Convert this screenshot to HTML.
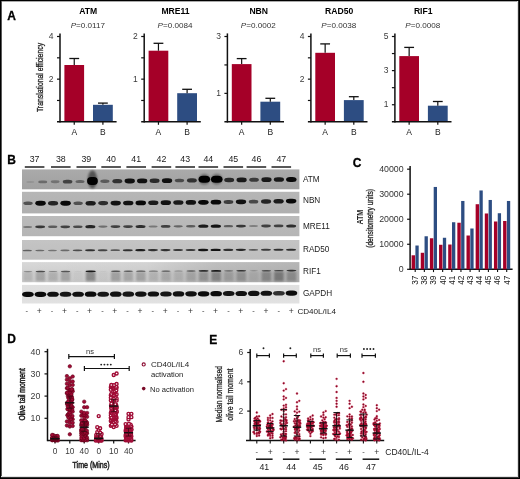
<!DOCTYPE html>
<html><head><meta charset="utf-8"><style>
html,body{margin:0;padding:0;background:#fff;}
body{width:520px;height:479px;overflow:hidden;}
svg{display:block;font-family:"Liberation Sans", sans-serif;}
#w{width:520px;height:479px;will-change:transform;}
</style></head><body>
<div id="w"><svg width="520" height="479" viewBox="0 0 520 479">
<rect x="0" y="0" width="520" height="479" fill="#fff"/>
<text x="7.20" y="19.50" font-size="12" text-anchor="start" font-weight="bold" fill="#000" stroke="#000" stroke-width="0.3">A</text>
<text x="7.20" y="163.80" font-size="12" text-anchor="start" font-weight="bold" fill="#000" stroke="#000" stroke-width="0.3">B</text>
<text x="352.80" y="166.80" font-size="12" text-anchor="start" font-weight="bold" fill="#000" stroke="#000" stroke-width="0.3">C</text>
<text x="7.20" y="342.80" font-size="12" text-anchor="start" font-weight="bold" fill="#000" stroke="#000" stroke-width="0.3">D</text>
<text x="209.20" y="344.10" font-size="12" text-anchor="start" font-weight="bold" fill="#000" stroke="#000" stroke-width="0.3">E</text>
<rect x="64.40" y="65.00" width="19.70" height="56.80" fill="#a50028"/>
<rect x="93.00" y="104.80" width="19.80" height="17.00" fill="#2d4d82"/>
<line x1="74.25" y1="58.50" x2="74.25" y2="65.00" stroke="#111" stroke-width="1.2"/>
<line x1="69.35" y1="58.50" x2="79.15" y2="58.50" stroke="#111" stroke-width="1.3"/>
<line x1="102.90" y1="103.10" x2="102.90" y2="104.80" stroke="#111" stroke-width="1.2"/>
<line x1="98.00" y1="103.10" x2="107.80" y2="103.10" stroke="#111" stroke-width="1.3"/>
<line x1="60.00" y1="33.40" x2="60.00" y2="122.50" stroke="#111" stroke-width="1.5"/>
<line x1="57.00" y1="121.80" x2="116.60" y2="121.80" stroke="#111" stroke-width="1.5"/>
<line x1="57.00" y1="36.50" x2="60.00" y2="36.50" stroke="#111" stroke-width="1.2"/>
<line x1="57.00" y1="79.15" x2="60.00" y2="79.15" stroke="#111" stroke-width="1.2"/>
<line x1="57.00" y1="57.83" x2="60.00" y2="57.83" stroke="#111" stroke-width="1.2"/>
<line x1="57.00" y1="100.47" x2="60.00" y2="100.47" stroke="#111" stroke-width="1.2"/>
<text x="53.50" y="39.20" font-size="8.5" text-anchor="end" font-weight="normal" fill="#3a3a3a" >4</text>
<text x="53.50" y="81.85" font-size="8.5" text-anchor="end" font-weight="normal" fill="#3a3a3a" >2</text>
<line x1="74.25" y1="121.80" x2="74.25" y2="124.80" stroke="#111" stroke-width="1.2"/>
<line x1="102.90" y1="121.80" x2="102.90" y2="124.80" stroke="#111" stroke-width="1.2"/>
<text x="74.25" y="135.20" font-size="8.5" text-anchor="middle" font-weight="normal" fill="#222" >A</text>
<text x="102.90" y="135.20" font-size="8.5" text-anchor="middle" font-weight="normal" fill="#222" >B</text>
<text x="88.30" y="14.40" font-size="8.6" text-anchor="middle" font-weight="bold" fill="#000" >ATM</text>
<text x="87.80" y="27.6" font-size="8.1" text-anchor="middle" fill="#333"><tspan font-style="italic">P</tspan>=0.0117</text>
<rect x="148.60" y="50.70" width="19.70" height="71.10" fill="#a50028"/>
<rect x="177.20" y="93.20" width="19.80" height="28.60" fill="#2d4d82"/>
<line x1="158.45" y1="43.30" x2="158.45" y2="50.70" stroke="#111" stroke-width="1.2"/>
<line x1="153.55" y1="43.30" x2="163.35" y2="43.30" stroke="#111" stroke-width="1.3"/>
<line x1="187.10" y1="89.30" x2="187.10" y2="93.20" stroke="#111" stroke-width="1.2"/>
<line x1="182.20" y1="89.30" x2="192.00" y2="89.30" stroke="#111" stroke-width="1.3"/>
<line x1="144.20" y1="33.40" x2="144.20" y2="122.50" stroke="#111" stroke-width="1.5"/>
<line x1="141.20" y1="121.80" x2="200.80" y2="121.80" stroke="#111" stroke-width="1.5"/>
<line x1="141.20" y1="36.50" x2="144.20" y2="36.50" stroke="#111" stroke-width="1.2"/>
<line x1="141.20" y1="79.15" x2="144.20" y2="79.15" stroke="#111" stroke-width="1.2"/>
<line x1="141.20" y1="57.83" x2="144.20" y2="57.83" stroke="#111" stroke-width="1.2"/>
<line x1="141.20" y1="100.47" x2="144.20" y2="100.47" stroke="#111" stroke-width="1.2"/>
<text x="137.70" y="39.20" font-size="8.5" text-anchor="end" font-weight="normal" fill="#3a3a3a" >2</text>
<text x="137.70" y="81.85" font-size="8.5" text-anchor="end" font-weight="normal" fill="#3a3a3a" >1</text>
<line x1="158.45" y1="121.80" x2="158.45" y2="124.80" stroke="#111" stroke-width="1.2"/>
<line x1="187.10" y1="121.80" x2="187.10" y2="124.80" stroke="#111" stroke-width="1.2"/>
<text x="158.45" y="135.20" font-size="8.5" text-anchor="middle" font-weight="normal" fill="#222" >A</text>
<text x="187.10" y="135.20" font-size="8.5" text-anchor="middle" font-weight="normal" fill="#222" >B</text>
<text x="175.50" y="14.40" font-size="8.6" text-anchor="middle" font-weight="bold" fill="#000" >MRE11</text>
<text x="175.00" y="27.6" font-size="8.1" text-anchor="middle" fill="#333"><tspan font-style="italic">P</tspan>=0.0084</text>
<rect x="231.80" y="64.10" width="19.70" height="57.70" fill="#a50028"/>
<rect x="260.40" y="101.70" width="19.80" height="20.10" fill="#2d4d82"/>
<line x1="241.65" y1="58.60" x2="241.65" y2="64.10" stroke="#111" stroke-width="1.2"/>
<line x1="236.75" y1="58.60" x2="246.55" y2="58.60" stroke="#111" stroke-width="1.3"/>
<line x1="270.30" y1="98.30" x2="270.30" y2="101.70" stroke="#111" stroke-width="1.2"/>
<line x1="265.40" y1="98.30" x2="275.20" y2="98.30" stroke="#111" stroke-width="1.3"/>
<line x1="227.40" y1="33.40" x2="227.40" y2="122.50" stroke="#111" stroke-width="1.5"/>
<line x1="224.40" y1="121.80" x2="284.00" y2="121.80" stroke="#111" stroke-width="1.5"/>
<line x1="224.40" y1="36.50" x2="227.40" y2="36.50" stroke="#111" stroke-width="1.2"/>
<line x1="224.40" y1="93.37" x2="227.40" y2="93.37" stroke="#111" stroke-width="1.2"/>
<line x1="224.40" y1="64.93" x2="227.40" y2="64.93" stroke="#111" stroke-width="1.2"/>
<text x="220.90" y="39.20" font-size="8.5" text-anchor="end" font-weight="normal" fill="#3a3a3a" >3</text>
<text x="220.90" y="96.07" font-size="8.5" text-anchor="end" font-weight="normal" fill="#3a3a3a" >1</text>
<line x1="241.65" y1="121.80" x2="241.65" y2="124.80" stroke="#111" stroke-width="1.2"/>
<line x1="270.30" y1="121.80" x2="270.30" y2="124.80" stroke="#111" stroke-width="1.2"/>
<text x="241.65" y="135.20" font-size="8.5" text-anchor="middle" font-weight="normal" fill="#222" >A</text>
<text x="270.30" y="135.20" font-size="8.5" text-anchor="middle" font-weight="normal" fill="#222" >B</text>
<text x="258.70" y="14.40" font-size="8.6" text-anchor="middle" font-weight="bold" fill="#000" >NBN</text>
<text x="258.20" y="27.6" font-size="8.1" text-anchor="middle" fill="#333"><tspan font-style="italic">P</tspan>=0.0002</text>
<rect x="315.30" y="52.80" width="19.70" height="69.00" fill="#a50028"/>
<rect x="343.90" y="100.10" width="19.80" height="21.70" fill="#2d4d82"/>
<line x1="325.15" y1="43.90" x2="325.15" y2="52.80" stroke="#111" stroke-width="1.2"/>
<line x1="320.25" y1="43.90" x2="330.05" y2="43.90" stroke="#111" stroke-width="1.3"/>
<line x1="353.80" y1="96.70" x2="353.80" y2="100.10" stroke="#111" stroke-width="1.2"/>
<line x1="348.90" y1="96.70" x2="358.70" y2="96.70" stroke="#111" stroke-width="1.3"/>
<line x1="310.90" y1="33.40" x2="310.90" y2="122.50" stroke="#111" stroke-width="1.5"/>
<line x1="307.90" y1="121.80" x2="367.50" y2="121.80" stroke="#111" stroke-width="1.5"/>
<line x1="307.90" y1="36.50" x2="310.90" y2="36.50" stroke="#111" stroke-width="1.2"/>
<line x1="307.90" y1="79.15" x2="310.90" y2="79.15" stroke="#111" stroke-width="1.2"/>
<line x1="307.90" y1="57.83" x2="310.90" y2="57.83" stroke="#111" stroke-width="1.2"/>
<line x1="307.90" y1="100.47" x2="310.90" y2="100.47" stroke="#111" stroke-width="1.2"/>
<text x="304.40" y="39.20" font-size="8.5" text-anchor="end" font-weight="normal" fill="#3a3a3a" >4</text>
<text x="304.40" y="81.85" font-size="8.5" text-anchor="end" font-weight="normal" fill="#3a3a3a" >2</text>
<line x1="325.15" y1="121.80" x2="325.15" y2="124.80" stroke="#111" stroke-width="1.2"/>
<line x1="353.80" y1="121.80" x2="353.80" y2="124.80" stroke="#111" stroke-width="1.2"/>
<text x="325.15" y="135.20" font-size="8.5" text-anchor="middle" font-weight="normal" fill="#222" >A</text>
<text x="353.80" y="135.20" font-size="8.5" text-anchor="middle" font-weight="normal" fill="#222" >B</text>
<text x="339.20" y="14.40" font-size="8.6" text-anchor="middle" font-weight="bold" fill="#000" >RAD50</text>
<text x="338.70" y="27.6" font-size="8.1" text-anchor="middle" fill="#333"><tspan font-style="italic">P</tspan>=0.0038</text>
<rect x="399.30" y="56.10" width="19.70" height="65.70" fill="#a50028"/>
<rect x="427.90" y="105.70" width="19.80" height="16.10" fill="#2d4d82"/>
<line x1="409.15" y1="47.40" x2="409.15" y2="56.10" stroke="#111" stroke-width="1.2"/>
<line x1="404.25" y1="47.40" x2="414.05" y2="47.40" stroke="#111" stroke-width="1.3"/>
<line x1="437.80" y1="101.50" x2="437.80" y2="105.70" stroke="#111" stroke-width="1.2"/>
<line x1="432.90" y1="101.50" x2="442.70" y2="101.50" stroke="#111" stroke-width="1.3"/>
<line x1="394.90" y1="33.40" x2="394.90" y2="122.50" stroke="#111" stroke-width="1.5"/>
<line x1="391.90" y1="121.80" x2="451.50" y2="121.80" stroke="#111" stroke-width="1.5"/>
<line x1="391.90" y1="36.50" x2="394.90" y2="36.50" stroke="#111" stroke-width="1.2"/>
<line x1="391.90" y1="70.62" x2="394.90" y2="70.62" stroke="#111" stroke-width="1.2"/>
<line x1="391.90" y1="104.74" x2="394.90" y2="104.74" stroke="#111" stroke-width="1.2"/>
<line x1="391.90" y1="53.56" x2="394.90" y2="53.56" stroke="#111" stroke-width="1.2"/>
<line x1="391.90" y1="87.68" x2="394.90" y2="87.68" stroke="#111" stroke-width="1.2"/>
<text x="388.40" y="39.20" font-size="8.5" text-anchor="end" font-weight="normal" fill="#3a3a3a" >5</text>
<text x="388.40" y="73.32" font-size="8.5" text-anchor="end" font-weight="normal" fill="#3a3a3a" >3</text>
<text x="388.40" y="107.44" font-size="8.5" text-anchor="end" font-weight="normal" fill="#3a3a3a" >1</text>
<line x1="409.15" y1="121.80" x2="409.15" y2="124.80" stroke="#111" stroke-width="1.2"/>
<line x1="437.80" y1="121.80" x2="437.80" y2="124.80" stroke="#111" stroke-width="1.2"/>
<text x="409.15" y="135.20" font-size="8.5" text-anchor="middle" font-weight="normal" fill="#222" >A</text>
<text x="437.80" y="135.20" font-size="8.5" text-anchor="middle" font-weight="normal" fill="#222" >B</text>
<text x="423.20" y="14.40" font-size="8.6" text-anchor="middle" font-weight="bold" fill="#000" >RIF1</text>
<text x="422.70" y="27.6" font-size="8.1" text-anchor="middle" fill="#333"><tspan font-style="italic">P</tspan>=0.0008</text>
<g transform="translate(42.60,77.50) rotate(-90) scale(0.760,1)"><text x="0" y="0" font-size="9" text-anchor="middle" font-weight="normal" fill="#222" stroke="#222" stroke-width="0.3">Translational efficiency</text></g>
<line x1="24.80" y1="167.00" x2="44.40" y2="167.00" stroke="#111" stroke-width="1.4"/>
<text x="34.60" y="161.90" font-size="8.8" text-anchor="middle" font-weight="normal" fill="#222" >37</text>
<line x1="51.00" y1="167.00" x2="70.60" y2="167.00" stroke="#111" stroke-width="1.4"/>
<text x="60.80" y="161.90" font-size="8.8" text-anchor="middle" font-weight="normal" fill="#222" >38</text>
<line x1="76.50" y1="167.00" x2="96.10" y2="167.00" stroke="#111" stroke-width="1.4"/>
<text x="86.30" y="161.90" font-size="8.8" text-anchor="middle" font-weight="normal" fill="#222" >39</text>
<line x1="101.30" y1="167.00" x2="120.90" y2="167.00" stroke="#111" stroke-width="1.4"/>
<text x="111.10" y="161.90" font-size="8.8" text-anchor="middle" font-weight="normal" fill="#222" >40</text>
<line x1="126.40" y1="167.00" x2="146.00" y2="167.00" stroke="#111" stroke-width="1.4"/>
<text x="136.20" y="161.90" font-size="8.8" text-anchor="middle" font-weight="normal" fill="#222" >41</text>
<line x1="151.60" y1="167.00" x2="171.20" y2="167.00" stroke="#111" stroke-width="1.4"/>
<text x="161.40" y="161.90" font-size="8.8" text-anchor="middle" font-weight="normal" fill="#222" >42</text>
<line x1="175.40" y1="167.00" x2="195.00" y2="167.00" stroke="#111" stroke-width="1.4"/>
<text x="185.20" y="161.90" font-size="8.8" text-anchor="middle" font-weight="normal" fill="#222" >43</text>
<line x1="198.50" y1="167.00" x2="218.10" y2="167.00" stroke="#111" stroke-width="1.4"/>
<text x="208.30" y="161.90" font-size="8.8" text-anchor="middle" font-weight="normal" fill="#222" >44</text>
<line x1="223.50" y1="167.00" x2="243.10" y2="167.00" stroke="#111" stroke-width="1.4"/>
<text x="233.30" y="161.90" font-size="8.8" text-anchor="middle" font-weight="normal" fill="#222" >45</text>
<line x1="246.60" y1="167.00" x2="266.20" y2="167.00" stroke="#111" stroke-width="1.4"/>
<text x="256.40" y="161.90" font-size="8.8" text-anchor="middle" font-weight="normal" fill="#222" >46</text>
<line x1="271.50" y1="167.00" x2="291.10" y2="167.00" stroke="#111" stroke-width="1.4"/>
<text x="281.30" y="161.90" font-size="8.8" text-anchor="middle" font-weight="normal" fill="#222" >47</text>
<defs><filter id="bl" x="-50%" y="-100%" width="200%" height="300%"><feGaussianBlur stdDeviation="0.6"/></filter><filter id="bl2" x="-50%" y="-50%" width="200%" height="200%"><feGaussianBlur stdDeviation="1.2"/></filter></defs>
<defs><linearGradient id="gATM" x1="0" y1="0" x2="0" y2="1"><stop offset="0" stop-color="#aaaaaa"/><stop offset="0.5" stop-color="#a5a5a5"/><stop offset="1" stop-color="#a0a0a0"/></linearGradient><linearGradient id="gNBN" x1="0" y1="0" x2="0" y2="1"><stop offset="0" stop-color="#b6b6b6"/><stop offset="0.5" stop-color="#b3b3b3"/><stop offset="1" stop-color="#afafaf"/></linearGradient><linearGradient id="gMRE11" x1="0" y1="0" x2="0" y2="1"><stop offset="0" stop-color="#bbbbbb"/><stop offset="0.5" stop-color="#b8b8b8"/><stop offset="1" stop-color="#b5b5b5"/></linearGradient><linearGradient id="gRAD50" x1="0" y1="0" x2="0" y2="1"><stop offset="0" stop-color="#c4c4c4"/><stop offset="0.5" stop-color="#c1c1c1"/><stop offset="1" stop-color="#bebebe"/></linearGradient><linearGradient id="gRIF1" x1="0" y1="0" x2="0" y2="1"><stop offset="0" stop-color="#d8d8d8"/><stop offset="0.5" stop-color="#d1d1d1"/><stop offset="1" stop-color="#cbcbcb"/></linearGradient><linearGradient id="gGAPDH" x1="0" y1="0" x2="0" y2="1"><stop offset="0" stop-color="#e0e0e0"/><stop offset="0.5" stop-color="#dddddd"/><stop offset="1" stop-color="#e2e2e2"/></linearGradient><linearGradient id="rifx" x1="0" y1="0" x2="1" y2="0"><stop offset="0" stop-color="#000" stop-opacity="0"/><stop offset="0.45" stop-color="#000" stop-opacity="0.02"/><stop offset="0.7" stop-color="#000" stop-opacity="0.12"/><stop offset="1" stop-color="#000" stop-opacity="0.16"/></linearGradient></defs>
<rect x="22.0" y="169.40" width="277.4" height="19.90" fill="url(#gATM)"/>
<g filter="url(#bl)">
<rect x="26.17" y="180.96" width="8.26" height="2.09" rx="3.18" ry="1.04" fill="#000" fill-opacity="0.10"/>
<rect x="38.28" y="180.40" width="8.91" height="2.96" rx="3.43" ry="1.48" fill="#000" fill-opacity="0.35"/>
<rect x="50.77" y="180.36" width="8.78" height="2.78" rx="3.38" ry="1.39" fill="#000" fill-opacity="0.30"/>
<rect x="62.81" y="179.71" width="9.56" height="3.83" rx="3.68" ry="1.91" fill="#000" fill-opacity="0.60"/>
<rect x="75.50" y="179.94" width="9.04" height="3.13" rx="3.48" ry="1.57" fill="#000" fill-opacity="0.40"/>
<ellipse cx="92.45" cy="179.35" rx="4.6" ry="9.15" fill="#000" fill-opacity="0.5" filter="url(#bl2)"/>
<rect x="87.05" y="176.88" width="10.80" height="8.00" rx="4.15" ry="4.00" fill="#000" fill-opacity="1.00"/>
<rect x="100.30" y="179.60" width="9.17" height="3.31" rx="3.53" ry="1.65" fill="#000" fill-opacity="0.45"/>
<rect x="112.40" y="179.05" width="9.82" height="4.18" rx="3.78" ry="2.09" fill="#000" fill-opacity="0.70"/>
<rect x="124.57" y="178.57" width="10.34" height="4.87" rx="3.98" ry="2.44" fill="#000" fill-opacity="0.90"/>
<rect x="137.00" y="178.45" width="10.34" height="4.87" rx="3.98" ry="2.44" fill="#000" fill-opacity="0.90"/>
<rect x="149.62" y="178.59" width="9.95" height="4.35" rx="3.83" ry="2.17" fill="#000" fill-opacity="0.75"/>
<rect x="161.86" y="178.20" width="10.34" height="4.87" rx="3.98" ry="2.44" fill="#000" fill-opacity="0.90"/>
<rect x="174.75" y="178.69" width="9.43" height="3.65" rx="3.63" ry="1.83" fill="#000" fill-opacity="0.55"/>
<rect x="186.98" y="178.30" width="9.82" height="4.18" rx="3.78" ry="2.09" fill="#000" fill-opacity="0.70"/>
<ellipse cx="204.32" cy="179.27" rx="5.6" ry="5.5" fill="#000" fill-opacity="0.35" filter="url(#bl2)"/>
<rect x="198.52" y="175.77" width="11.60" height="7.00" rx="4.46" ry="3.50" fill="#000" fill-opacity="1.00"/>
<ellipse cx="216.75" cy="179.14" rx="5.6" ry="5.5" fill="#000" fill-opacity="0.35" filter="url(#bl2)"/>
<rect x="210.95" y="175.64" width="11.60" height="7.00" rx="4.46" ry="3.50" fill="#000" fill-opacity="1.00"/>
<rect x="224.21" y="177.84" width="9.95" height="4.35" rx="3.83" ry="2.17" fill="#000" fill-opacity="0.75"/>
<rect x="236.51" y="177.55" width="10.21" height="4.70" rx="3.93" ry="2.35" fill="#000" fill-opacity="0.85"/>
<rect x="249.20" y="177.77" width="9.69" height="4.00" rx="3.73" ry="2.00" fill="#000" fill-opacity="0.65"/>
<rect x="261.36" y="177.30" width="10.21" height="4.70" rx="3.93" ry="2.35" fill="#000" fill-opacity="0.85"/>
<rect x="273.79" y="177.17" width="10.21" height="4.70" rx="3.93" ry="2.35" fill="#000" fill-opacity="0.85"/>
<rect x="286.09" y="176.88" width="10.47" height="5.05" rx="4.03" ry="2.52" fill="#000" fill-opacity="0.95"/>
</g>
<text x="303.00" y="181.70" font-size="8.2" text-anchor="start" font-weight="normal" fill="#222" >ATM</text>
<rect x="22.0" y="191.80" width="277.4" height="21.60" fill="url(#gNBN)"/>
<g filter="url(#bl)">
<rect x="23.29" y="201.54" width="9.43" height="3.53" rx="3.63" ry="1.76" fill="#000" fill-opacity="0.55"/>
<rect x="35.30" y="200.86" width="10.47" height="4.87" rx="4.03" ry="2.44" fill="#000" fill-opacity="0.95"/>
<rect x="48.02" y="201.10" width="10.08" height="4.37" rx="3.88" ry="2.18" fill="#000" fill-opacity="0.80"/>
<rect x="60.36" y="200.82" width="10.47" height="4.87" rx="4.03" ry="2.44" fill="#000" fill-opacity="0.95"/>
<rect x="73.41" y="201.46" width="9.43" height="3.53" rx="3.63" ry="1.76" fill="#000" fill-opacity="0.55"/>
<rect x="85.55" y="200.91" width="10.21" height="4.54" rx="3.93" ry="2.27" fill="#000" fill-opacity="0.85"/>
<rect x="98.20" y="201.02" width="9.95" height="4.20" rx="3.83" ry="2.10" fill="#000" fill-opacity="0.75"/>
<rect x="110.54" y="200.70" width="10.34" height="4.70" rx="3.98" ry="2.35" fill="#000" fill-opacity="0.90"/>
<rect x="123.07" y="200.63" width="10.34" height="4.70" rx="3.98" ry="2.35" fill="#000" fill-opacity="0.90"/>
<rect x="135.53" y="200.46" width="10.47" height="4.87" rx="4.03" ry="2.44" fill="#000" fill-opacity="0.95"/>
<rect x="148.20" y="200.53" width="10.21" height="4.54" rx="3.93" ry="2.27" fill="#000" fill-opacity="0.85"/>
<rect x="160.66" y="200.34" width="10.34" height="4.70" rx="3.98" ry="2.35" fill="#000" fill-opacity="0.90"/>
<rect x="173.25" y="200.31" width="10.21" height="4.54" rx="3.93" ry="2.27" fill="#000" fill-opacity="0.85"/>
<rect x="185.72" y="200.10" width="10.34" height="4.70" rx="3.98" ry="2.35" fill="#000" fill-opacity="0.90"/>
<rect x="198.19" y="199.89" width="10.47" height="4.87" rx="4.03" ry="2.44" fill="#000" fill-opacity="0.95"/>
<rect x="210.71" y="199.74" width="10.47" height="4.87" rx="4.03" ry="2.44" fill="#000" fill-opacity="0.95"/>
<rect x="223.63" y="200.09" width="9.69" height="3.86" rx="3.73" ry="1.93" fill="#000" fill-opacity="0.65"/>
<rect x="235.84" y="199.51" width="10.34" height="4.70" rx="3.98" ry="2.35" fill="#000" fill-opacity="0.90"/>
<rect x="248.76" y="199.84" width="9.56" height="3.70" rx="3.68" ry="1.85" fill="#000" fill-opacity="0.60"/>
<rect x="261.03" y="199.32" width="10.08" height="4.37" rx="3.88" ry="2.18" fill="#000" fill-opacity="0.80"/>
<rect x="273.50" y="199.04" width="10.21" height="4.54" rx="3.93" ry="2.27" fill="#000" fill-opacity="0.85"/>
<rect x="285.89" y="198.66" width="10.47" height="4.87" rx="4.03" ry="2.44" fill="#000" fill-opacity="0.95"/>
</g>
<text x="303.00" y="203.40" font-size="8.2" text-anchor="start" font-weight="normal" fill="#222" >NBN</text>
<rect x="22.0" y="216.00" width="277.4" height="20.20" fill="url(#gMRE11)"/>
<g filter="url(#bl)">
<rect x="23.15" y="225.88" width="8.91" height="2.04" rx="3.43" ry="1.02" fill="#000" fill-opacity="0.35"/>
<rect x="35.24" y="225.41" width="9.82" height="2.88" rx="3.78" ry="1.44" fill="#000" fill-opacity="0.70"/>
<rect x="48.05" y="225.60" width="9.30" height="2.40" rx="3.58" ry="1.20" fill="#000" fill-opacity="0.50"/>
<rect x="60.41" y="225.38" width="9.69" height="2.76" rx="3.73" ry="1.38" fill="#000" fill-opacity="0.65"/>
<rect x="73.02" y="225.39" width="9.56" height="2.64" rx="3.68" ry="1.32" fill="#000" fill-opacity="0.60"/>
<rect x="85.31" y="225.10" width="10.08" height="3.12" rx="3.88" ry="1.56" fill="#000" fill-opacity="0.80"/>
<rect x="98.38" y="225.53" width="9.04" height="2.16" rx="3.48" ry="1.08" fill="#000" fill-opacity="0.40"/>
<rect x="110.61" y="225.19" width="9.69" height="2.76" rx="3.73" ry="1.38" fill="#000" fill-opacity="0.65"/>
<rect x="123.16" y="225.14" width="9.69" height="2.76" rx="3.73" ry="1.38" fill="#000" fill-opacity="0.65"/>
<rect x="135.58" y="224.97" width="9.95" height="3.00" rx="3.83" ry="1.50" fill="#000" fill-opacity="0.75"/>
<rect x="148.64" y="225.40" width="8.91" height="2.04" rx="3.43" ry="1.02" fill="#000" fill-opacity="0.35"/>
<rect x="160.81" y="225.00" width="9.69" height="2.76" rx="3.73" ry="1.38" fill="#000" fill-opacity="0.65"/>
<rect x="173.62" y="225.19" width="9.17" height="2.28" rx="3.53" ry="1.14" fill="#000" fill-opacity="0.45"/>
<rect x="186.10" y="225.08" width="9.30" height="2.40" rx="3.58" ry="1.20" fill="#000" fill-opacity="0.50"/>
<rect x="198.20" y="224.61" width="10.21" height="3.24" rx="3.93" ry="1.62" fill="#000" fill-opacity="0.85"/>
<rect x="210.68" y="224.51" width="10.34" height="3.36" rx="3.98" ry="1.68" fill="#000" fill-opacity="0.90"/>
<rect x="223.75" y="224.94" width="9.30" height="2.40" rx="3.58" ry="1.20" fill="#000" fill-opacity="0.50"/>
<rect x="236.04" y="224.65" width="9.82" height="2.88" rx="3.78" ry="1.44" fill="#000" fill-opacity="0.70"/>
<rect x="249.11" y="225.08" width="8.78" height="1.92" rx="3.38" ry="0.96" fill="#000" fill-opacity="0.30"/>
<rect x="261.20" y="224.62" width="9.69" height="2.76" rx="3.73" ry="1.38" fill="#000" fill-opacity="0.65"/>
<rect x="273.75" y="224.57" width="9.69" height="2.76" rx="3.73" ry="1.38" fill="#000" fill-opacity="0.65"/>
<rect x="286.18" y="224.40" width="9.95" height="3.00" rx="3.83" ry="1.50" fill="#000" fill-opacity="0.75"/>
</g>
<text x="303.00" y="228.60" font-size="8.2" text-anchor="start" font-weight="normal" fill="#222" >MRE11</text>
<rect x="22.0" y="240.00" width="277.4" height="19.70" fill="url(#gRAD50)"/>
<g filter="url(#bl)">
<rect x="22.65" y="249.66" width="9.30" height="1.68" rx="3.58" ry="0.84" fill="#000" fill-opacity="0.50"/>
<rect x="35.27" y="249.66" width="9.17" height="1.60" rx="3.53" ry="0.80" fill="#000" fill-opacity="0.45"/>
<rect x="47.90" y="249.67" width="9.04" height="1.51" rx="3.48" ry="0.76" fill="#000" fill-opacity="0.40"/>
<rect x="60.40" y="249.59" width="9.17" height="1.60" rx="3.53" ry="0.80" fill="#000" fill-opacity="0.45"/>
<rect x="72.76" y="249.42" width="9.56" height="1.85" rx="3.68" ry="0.92" fill="#000" fill-opacity="0.60"/>
<rect x="85.13" y="249.26" width="9.95" height="2.10" rx="3.83" ry="1.05" fill="#000" fill-opacity="0.75"/>
<rect x="97.81" y="249.31" width="9.69" height="1.93" rx="3.73" ry="0.97" fill="#000" fill-opacity="0.65"/>
<rect x="110.50" y="249.35" width="9.43" height="1.76" rx="3.63" ry="0.88" fill="#000" fill-opacity="0.55"/>
<rect x="122.81" y="249.15" width="9.95" height="2.10" rx="3.83" ry="1.05" fill="#000" fill-opacity="0.75"/>
<rect x="135.24" y="249.02" width="10.21" height="2.27" rx="3.93" ry="1.13" fill="#000" fill-opacity="0.85"/>
<rect x="147.93" y="249.07" width="9.95" height="2.10" rx="3.83" ry="1.05" fill="#000" fill-opacity="0.75"/>
<rect x="160.49" y="249.03" width="9.95" height="2.10" rx="3.83" ry="1.05" fill="#000" fill-opacity="0.75"/>
<rect x="173.11" y="249.03" width="9.82" height="2.02" rx="3.78" ry="1.01" fill="#000" fill-opacity="0.70"/>
<rect x="185.67" y="249.00" width="9.82" height="2.02" rx="3.78" ry="1.01" fill="#000" fill-opacity="0.70"/>
<rect x="197.97" y="248.79" width="10.34" height="2.35" rx="3.98" ry="1.18" fill="#000" fill-opacity="0.90"/>
<rect x="210.53" y="248.75" width="10.34" height="2.35" rx="3.98" ry="1.18" fill="#000" fill-opacity="0.90"/>
<rect x="223.29" y="248.84" width="9.95" height="2.10" rx="3.83" ry="1.05" fill="#000" fill-opacity="0.75"/>
<rect x="235.78" y="248.76" width="10.08" height="2.18" rx="3.88" ry="1.09" fill="#000" fill-opacity="0.80"/>
<rect x="248.67" y="248.93" width="9.43" height="1.76" rx="3.63" ry="0.88" fill="#000" fill-opacity="0.55"/>
<rect x="261.03" y="248.77" width="9.82" height="2.02" rx="3.78" ry="1.01" fill="#000" fill-opacity="0.70"/>
<rect x="273.52" y="248.69" width="9.95" height="2.10" rx="3.83" ry="1.05" fill="#000" fill-opacity="0.75"/>
<rect x="286.08" y="248.65" width="9.95" height="2.10" rx="3.83" ry="1.05" fill="#000" fill-opacity="0.75"/>
</g>
<text x="303.00" y="251.50" font-size="8.2" text-anchor="start" font-weight="normal" fill="#222" >RAD50</text>
<rect x="22.0" y="262.10" width="277.4" height="20.10" fill="url(#gRIF1)"/>
<g filter="url(#bl2)">
<rect x="23.10" y="271.60" width="9.6" height="9.60" fill="#000" fill-opacity="0.12"/>
<rect x="35.65" y="271.60" width="9.6" height="9.60" fill="#000" fill-opacity="0.20"/>
<rect x="48.20" y="271.60" width="9.6" height="9.60" fill="#000" fill-opacity="0.15"/>
<rect x="60.75" y="271.60" width="9.6" height="9.60" fill="#000" fill-opacity="0.20"/>
<rect x="73.30" y="271.60" width="9.6" height="9.60" fill="#000" fill-opacity="0.03"/>
<rect x="85.85" y="271.60" width="9.6" height="9.60" fill="#000" fill-opacity="0.32"/>
<rect x="98.40" y="271.60" width="9.6" height="9.60" fill="#000" fill-opacity="0.03"/>
<rect x="110.95" y="271.60" width="9.6" height="9.60" fill="#000" fill-opacity="0.22"/>
<rect x="123.50" y="271.60" width="9.6" height="9.60" fill="#000" fill-opacity="0.18"/>
<rect x="136.05" y="271.60" width="9.6" height="9.60" fill="#000" fill-opacity="0.20"/>
<rect x="148.60" y="271.60" width="9.6" height="9.60" fill="#000" fill-opacity="0.12"/>
<rect x="161.15" y="271.60" width="9.6" height="9.60" fill="#000" fill-opacity="0.15"/>
<rect x="173.70" y="271.60" width="9.6" height="9.60" fill="#000" fill-opacity="0.10"/>
<rect x="186.25" y="271.60" width="9.6" height="9.60" fill="#000" fill-opacity="0.15"/>
<rect x="198.80" y="271.60" width="9.6" height="9.60" fill="#000" fill-opacity="0.22"/>
<rect x="211.35" y="271.60" width="9.6" height="9.60" fill="#000" fill-opacity="0.28"/>
<rect x="223.90" y="271.60" width="9.6" height="9.60" fill="#000" fill-opacity="0.15"/>
<rect x="236.45" y="271.60" width="9.6" height="9.60" fill="#000" fill-opacity="0.20"/>
<rect x="249.00" y="271.60" width="9.6" height="9.60" fill="#000" fill-opacity="0.08"/>
<rect x="261.55" y="271.60" width="9.6" height="9.60" fill="#000" fill-opacity="0.25"/>
<rect x="274.10" y="271.60" width="9.6" height="9.60" fill="#000" fill-opacity="0.32"/>
<rect x="286.65" y="271.60" width="9.6" height="9.60" fill="#000" fill-opacity="0.22"/>
</g>
<rect x="22" y="262.10" width="277.4" height="20.10" fill="url(#rifx)"/>
<g filter="url(#bl)">
<rect x="23.51" y="271.07" width="8.78" height="1.06" rx="3.38" ry="0.53" fill="#000" fill-opacity="0.30"/>
<rect x="35.67" y="270.83" width="9.56" height="1.45" rx="3.68" ry="0.73" fill="#000" fill-opacity="0.60"/>
<rect x="48.61" y="270.98" width="8.78" height="1.06" rx="3.38" ry="0.53" fill="#000" fill-opacity="0.30"/>
<rect x="60.84" y="270.76" width="9.43" height="1.39" rx="3.63" ry="0.69" fill="#000" fill-opacity="0.55"/>
<rect x="74.03" y="271.05" width="8.13" height="0.73" rx="3.13" ry="0.36" fill="#000" fill-opacity="0.05"/>
<rect x="85.55" y="270.47" width="10.21" height="1.78" rx="3.93" ry="0.89" fill="#000" fill-opacity="0.85"/>
<rect x="99.14" y="270.95" width="8.13" height="0.73" rx="3.13" ry="0.36" fill="#000" fill-opacity="0.05"/>
<rect x="111.03" y="270.57" width="9.43" height="1.39" rx="3.63" ry="0.69" fill="#000" fill-opacity="0.55"/>
<rect x="123.65" y="270.56" width="9.30" height="1.32" rx="3.58" ry="0.66" fill="#000" fill-opacity="0.50"/>
<rect x="136.13" y="270.48" width="9.43" height="1.39" rx="3.63" ry="0.69" fill="#000" fill-opacity="0.55"/>
<rect x="148.88" y="270.53" width="9.04" height="1.19" rx="3.48" ry="0.59" fill="#000" fill-opacity="0.40"/>
<rect x="161.24" y="270.38" width="9.43" height="1.39" rx="3.63" ry="0.69" fill="#000" fill-opacity="0.55"/>
<rect x="174.11" y="270.50" width="8.78" height="1.06" rx="3.38" ry="0.53" fill="#000" fill-opacity="0.30"/>
<rect x="186.40" y="270.32" width="9.30" height="1.32" rx="3.58" ry="0.66" fill="#000" fill-opacity="0.50"/>
<rect x="198.63" y="270.11" width="9.95" height="1.65" rx="3.83" ry="0.83" fill="#000" fill-opacity="0.75"/>
<rect x="211.05" y="269.99" width="10.21" height="1.78" rx="3.93" ry="0.89" fill="#000" fill-opacity="0.85"/>
<rect x="224.12" y="270.21" width="9.17" height="1.25" rx="3.53" ry="0.63" fill="#000" fill-opacity="0.45"/>
<rect x="236.34" y="270.00" width="9.82" height="1.58" rx="3.78" ry="0.79" fill="#000" fill-opacity="0.70"/>
<rect x="249.48" y="270.25" width="8.65" height="0.99" rx="3.33" ry="0.49" fill="#000" fill-opacity="0.25"/>
<rect x="261.64" y="270.00" width="9.43" height="1.39" rx="3.63" ry="0.69" fill="#000" fill-opacity="0.55"/>
<rect x="274.12" y="269.92" width="9.56" height="1.45" rx="3.68" ry="0.73" fill="#000" fill-opacity="0.60"/>
<rect x="286.54" y="269.81" width="9.82" height="1.58" rx="3.78" ry="0.79" fill="#000" fill-opacity="0.70"/>
</g>
<text x="303.00" y="273.90" font-size="8.2" text-anchor="start" font-weight="normal" fill="#222" >RIF1</text>
<rect x="22.0" y="284.90" width="277.4" height="18.60" fill="url(#gGAPDH)"/>
<g filter="url(#bl)">
<rect x="22.10" y="291.69" width="11.60" height="5.22" rx="4.46" ry="2.61" fill="#000" fill-opacity="0.95"/>
<rect x="34.65" y="291.69" width="11.60" height="5.22" rx="4.46" ry="2.61" fill="#000" fill-opacity="0.95"/>
<rect x="47.20" y="291.73" width="11.60" height="5.11" rx="4.46" ry="2.56" fill="#000" fill-opacity="0.92"/>
<rect x="59.75" y="291.76" width="11.60" height="5.04" rx="4.46" ry="2.52" fill="#000" fill-opacity="0.90"/>
<rect x="72.30" y="291.70" width="11.60" height="5.11" rx="4.46" ry="2.56" fill="#000" fill-opacity="0.92"/>
<rect x="84.85" y="291.62" width="11.60" height="5.22" rx="4.46" ry="2.61" fill="#000" fill-opacity="0.95"/>
<rect x="97.40" y="291.68" width="11.60" height="5.04" rx="4.46" ry="2.52" fill="#000" fill-opacity="0.90"/>
<rect x="109.95" y="291.61" width="11.60" height="5.11" rx="4.46" ry="2.56" fill="#000" fill-opacity="0.92"/>
<rect x="122.50" y="291.61" width="11.60" height="5.04" rx="4.46" ry="2.52" fill="#000" fill-opacity="0.90"/>
<rect x="135.05" y="291.52" width="11.60" height="5.11" rx="4.46" ry="2.56" fill="#000" fill-opacity="0.92"/>
<rect x="147.60" y="291.47" width="11.60" height="5.11" rx="4.46" ry="2.56" fill="#000" fill-opacity="0.92"/>
<rect x="160.15" y="291.45" width="11.60" height="5.04" rx="4.46" ry="2.52" fill="#000" fill-opacity="0.90"/>
<rect x="172.70" y="291.35" width="11.60" height="5.11" rx="4.46" ry="2.56" fill="#000" fill-opacity="0.92"/>
<rect x="185.25" y="291.28" width="11.60" height="5.11" rx="4.46" ry="2.56" fill="#000" fill-opacity="0.92"/>
<rect x="197.80" y="291.16" width="11.60" height="5.22" rx="4.46" ry="2.61" fill="#000" fill-opacity="0.95"/>
<rect x="210.35" y="291.08" width="11.60" height="5.22" rx="4.46" ry="2.61" fill="#000" fill-opacity="0.95"/>
<rect x="222.90" y="291.08" width="11.60" height="5.04" rx="4.46" ry="2.52" fill="#000" fill-opacity="0.90"/>
<rect x="235.45" y="290.96" width="11.60" height="5.11" rx="4.46" ry="2.56" fill="#000" fill-opacity="0.92"/>
<rect x="248.00" y="290.86" width="11.60" height="5.11" rx="4.46" ry="2.56" fill="#000" fill-opacity="0.92"/>
<rect x="260.55" y="290.76" width="11.60" height="5.11" rx="4.46" ry="2.56" fill="#000" fill-opacity="0.92"/>
<rect x="273.10" y="290.91" width="11.60" height="4.61" rx="4.46" ry="2.30" fill="#000" fill-opacity="0.78"/>
<rect x="285.65" y="290.49" width="11.60" height="5.22" rx="4.46" ry="2.61" fill="#000" fill-opacity="0.95"/>
</g>
<text x="303.00" y="296.40" font-size="8.2" text-anchor="start" font-weight="normal" fill="#222" >GAPDH</text>
<line x1="0.00" y1="0.00" x2="0.00" y2="0.00" stroke="#111" stroke-width="1.0"/>
<text x="26.80" y="313.30" font-size="7.5" text-anchor="middle" font-weight="normal" fill="#333" >-</text>
<text x="39.20" y="313.80" font-size="8.5" text-anchor="middle" font-weight="normal" fill="#333" >+</text>
<text x="52.00" y="313.30" font-size="7.5" text-anchor="middle" font-weight="normal" fill="#333" >-</text>
<text x="64.40" y="313.80" font-size="8.5" text-anchor="middle" font-weight="normal" fill="#333" >+</text>
<text x="77.20" y="313.30" font-size="7.5" text-anchor="middle" font-weight="normal" fill="#333" >-</text>
<text x="89.60" y="313.80" font-size="8.5" text-anchor="middle" font-weight="normal" fill="#333" >+</text>
<text x="102.40" y="313.30" font-size="7.5" text-anchor="middle" font-weight="normal" fill="#333" >-</text>
<text x="114.80" y="313.80" font-size="8.5" text-anchor="middle" font-weight="normal" fill="#333" >+</text>
<text x="127.60" y="313.30" font-size="7.5" text-anchor="middle" font-weight="normal" fill="#333" >-</text>
<text x="140.00" y="313.80" font-size="8.5" text-anchor="middle" font-weight="normal" fill="#333" >+</text>
<text x="152.80" y="313.30" font-size="7.5" text-anchor="middle" font-weight="normal" fill="#333" >-</text>
<text x="165.20" y="313.80" font-size="8.5" text-anchor="middle" font-weight="normal" fill="#333" >+</text>
<text x="178.00" y="313.30" font-size="7.5" text-anchor="middle" font-weight="normal" fill="#333" >-</text>
<text x="190.40" y="313.80" font-size="8.5" text-anchor="middle" font-weight="normal" fill="#333" >+</text>
<text x="203.20" y="313.30" font-size="7.5" text-anchor="middle" font-weight="normal" fill="#333" >-</text>
<text x="215.60" y="313.80" font-size="8.5" text-anchor="middle" font-weight="normal" fill="#333" >+</text>
<text x="228.40" y="313.30" font-size="7.5" text-anchor="middle" font-weight="normal" fill="#333" >-</text>
<text x="240.80" y="313.80" font-size="8.5" text-anchor="middle" font-weight="normal" fill="#333" >+</text>
<text x="253.60" y="313.30" font-size="7.5" text-anchor="middle" font-weight="normal" fill="#333" >-</text>
<text x="266.00" y="313.80" font-size="8.5" text-anchor="middle" font-weight="normal" fill="#333" >+</text>
<text x="278.80" y="313.30" font-size="7.5" text-anchor="middle" font-weight="normal" fill="#333" >-</text>
<text x="291.20" y="313.80" font-size="8.5" text-anchor="middle" font-weight="normal" fill="#333" >+</text>
<text x="297.40" y="313.70" font-size="8.1" text-anchor="start" font-weight="normal" fill="#222" >CD40L/IL4</text>
<line x1="410.10" y1="165.90" x2="410.10" y2="270.00" stroke="#111" stroke-width="1.5"/>
<line x1="410.10" y1="269.30" x2="512.60" y2="269.30" stroke="#111" stroke-width="1.5"/>
<line x1="407.10" y1="269.30" x2="410.10" y2="269.30" stroke="#111" stroke-width="1.2"/>
<text x="403.60" y="272.10" font-size="8.8" text-anchor="end" font-weight="normal" fill="#333" >0</text>
<line x1="407.10" y1="244.27" x2="410.10" y2="244.27" stroke="#111" stroke-width="1.2"/>
<text x="403.60" y="247.07" font-size="8.8" text-anchor="end" font-weight="normal" fill="#333" >10000</text>
<line x1="407.10" y1="219.24" x2="410.10" y2="219.24" stroke="#111" stroke-width="1.2"/>
<text x="403.60" y="222.04" font-size="8.8" text-anchor="end" font-weight="normal" fill="#333" >20000</text>
<line x1="407.10" y1="194.21" x2="410.10" y2="194.21" stroke="#111" stroke-width="1.2"/>
<text x="403.60" y="197.01" font-size="8.8" text-anchor="end" font-weight="normal" fill="#333" >30000</text>
<line x1="407.10" y1="169.18" x2="410.10" y2="169.18" stroke="#111" stroke-width="1.2"/>
<text x="403.60" y="171.98" font-size="8.8" text-anchor="end" font-weight="normal" fill="#333" >40000</text>
<rect x="411.60" y="255.28" width="3.40" height="14.02" fill="#a50028"/>
<rect x="415.40" y="245.52" width="3.30" height="23.78" fill="#2d4d82"/>
<line x1="415.20" y1="269.30" x2="415.20" y2="272.10" stroke="#111" stroke-width="1.1"/>
<g transform="translate(418.10,280.20) rotate(-90) scale(1.000,1)"><text x="0" y="0" font-size="8.3" text-anchor="middle" font-weight="normal" fill="#222">37</text></g>
<rect x="420.75" y="252.78" width="3.40" height="16.52" fill="#a50028"/>
<rect x="424.55" y="236.26" width="3.30" height="33.04" fill="#2d4d82"/>
<line x1="424.35" y1="269.30" x2="424.35" y2="272.10" stroke="#111" stroke-width="1.1"/>
<g transform="translate(427.25,280.20) rotate(-90) scale(1.000,1)"><text x="0" y="0" font-size="8.3" text-anchor="middle" font-weight="normal" fill="#222">38</text></g>
<rect x="429.90" y="238.26" width="3.40" height="31.04" fill="#a50028"/>
<rect x="433.70" y="186.95" width="3.30" height="82.35" fill="#2d4d82"/>
<line x1="433.50" y1="269.30" x2="433.50" y2="272.10" stroke="#111" stroke-width="1.1"/>
<g transform="translate(436.40,280.20) rotate(-90) scale(1.000,1)"><text x="0" y="0" font-size="8.3" text-anchor="middle" font-weight="normal" fill="#222">39</text></g>
<rect x="439.05" y="244.77" width="3.40" height="24.53" fill="#a50028"/>
<rect x="442.85" y="237.76" width="3.30" height="31.54" fill="#2d4d82"/>
<line x1="442.65" y1="269.30" x2="442.65" y2="272.10" stroke="#111" stroke-width="1.1"/>
<g transform="translate(445.55,280.20) rotate(-90) scale(1.000,1)"><text x="0" y="0" font-size="8.3" text-anchor="middle" font-weight="normal" fill="#222">40</text></g>
<rect x="448.20" y="244.52" width="3.40" height="24.78" fill="#a50028"/>
<rect x="452.00" y="222.24" width="3.30" height="47.06" fill="#2d4d82"/>
<line x1="451.80" y1="269.30" x2="451.80" y2="272.10" stroke="#111" stroke-width="1.1"/>
<g transform="translate(454.70,280.20) rotate(-90) scale(1.000,1)"><text x="0" y="0" font-size="8.3" text-anchor="middle" font-weight="normal" fill="#222">41</text></g>
<rect x="457.35" y="222.74" width="3.40" height="46.56" fill="#a50028"/>
<rect x="461.15" y="200.97" width="3.30" height="68.33" fill="#2d4d82"/>
<line x1="460.95" y1="269.30" x2="460.95" y2="272.10" stroke="#111" stroke-width="1.1"/>
<g transform="translate(463.85,280.20) rotate(-90) scale(1.000,1)"><text x="0" y="0" font-size="8.3" text-anchor="middle" font-weight="normal" fill="#222">42</text></g>
<rect x="466.50" y="235.51" width="3.40" height="33.79" fill="#a50028"/>
<rect x="470.30" y="228.50" width="3.30" height="40.80" fill="#2d4d82"/>
<line x1="470.10" y1="269.30" x2="470.10" y2="272.10" stroke="#111" stroke-width="1.1"/>
<g transform="translate(473.00,280.20) rotate(-90) scale(1.000,1)"><text x="0" y="0" font-size="8.3" text-anchor="middle" font-weight="normal" fill="#222">43</text></g>
<rect x="475.65" y="204.22" width="3.40" height="65.08" fill="#a50028"/>
<rect x="479.45" y="190.46" width="3.30" height="78.84" fill="#2d4d82"/>
<line x1="479.25" y1="269.30" x2="479.25" y2="272.10" stroke="#111" stroke-width="1.1"/>
<g transform="translate(482.15,280.20) rotate(-90) scale(1.000,1)"><text x="0" y="0" font-size="8.3" text-anchor="middle" font-weight="normal" fill="#222">44</text></g>
<rect x="484.80" y="213.48" width="3.40" height="55.82" fill="#a50028"/>
<rect x="488.60" y="199.97" width="3.30" height="69.33" fill="#2d4d82"/>
<line x1="488.40" y1="269.30" x2="488.40" y2="272.10" stroke="#111" stroke-width="1.1"/>
<g transform="translate(491.30,280.20) rotate(-90) scale(1.000,1)"><text x="0" y="0" font-size="8.3" text-anchor="middle" font-weight="normal" fill="#222">45</text></g>
<rect x="493.95" y="221.49" width="3.40" height="47.81" fill="#a50028"/>
<rect x="497.75" y="213.23" width="3.30" height="56.07" fill="#2d4d82"/>
<line x1="497.55" y1="269.30" x2="497.55" y2="272.10" stroke="#111" stroke-width="1.1"/>
<g transform="translate(500.45,280.20) rotate(-90) scale(1.000,1)"><text x="0" y="0" font-size="8.3" text-anchor="middle" font-weight="normal" fill="#222">46</text></g>
<rect x="503.10" y="220.99" width="3.40" height="48.31" fill="#a50028"/>
<rect x="506.90" y="200.97" width="3.30" height="68.33" fill="#2d4d82"/>
<line x1="506.70" y1="269.30" x2="506.70" y2="272.10" stroke="#111" stroke-width="1.1"/>
<g transform="translate(509.60,280.20) rotate(-90) scale(1.000,1)"><text x="0" y="0" font-size="8.3" text-anchor="middle" font-weight="normal" fill="#222">47</text></g>
<g transform="translate(363.40,217.20) rotate(-90) scale(0.800,1)"><text x="0" y="0" font-size="8.8" text-anchor="middle" font-weight="bold" fill="#222">ATM</text></g>
<g transform="translate(373.20,218.40) rotate(-90) scale(0.800,1)"><text x="0" y="0" font-size="8.4" text-anchor="middle" font-weight="normal" fill="#222" stroke="#222" stroke-width="0.3">(densitometry units)</text></g>
<line x1="47.50" y1="348.80" x2="47.50" y2="441.20" stroke="#111" stroke-width="1.5"/>
<line x1="47.50" y1="440.50" x2="135.60" y2="440.50" stroke="#111" stroke-width="1.5"/>
<line x1="44.50" y1="418.30" x2="47.50" y2="418.30" stroke="#111" stroke-width="1.2"/>
<text x="40.40" y="421.20" font-size="8.8" text-anchor="end" font-weight="normal" fill="#3a3a3a" >10</text>
<line x1="44.50" y1="396.10" x2="47.50" y2="396.10" stroke="#111" stroke-width="1.2"/>
<text x="40.40" y="399.00" font-size="8.8" text-anchor="end" font-weight="normal" fill="#3a3a3a" >20</text>
<line x1="44.50" y1="373.90" x2="47.50" y2="373.90" stroke="#111" stroke-width="1.2"/>
<text x="40.40" y="376.80" font-size="8.8" text-anchor="end" font-weight="normal" fill="#3a3a3a" >30</text>
<line x1="44.50" y1="351.70" x2="47.50" y2="351.70" stroke="#111" stroke-width="1.2"/>
<text x="40.40" y="354.60" font-size="8.8" text-anchor="end" font-weight="normal" fill="#3a3a3a" >40</text>
<g transform="translate(25.40,394.40) rotate(-90) scale(0.790,1)"><text x="0" y="0" font-size="8.6" text-anchor="middle" font-weight="normal" fill="#1a1a1a" stroke="#1a1a1a" stroke-width="0.45">Olive tail moment</text></g>
<line x1="55.00" y1="440.50" x2="55.00" y2="443.50" stroke="#111" stroke-width="1.2"/>
<text x="55.00" y="453.90" font-size="8.3" text-anchor="middle" font-weight="normal" fill="#3a3a3a" >0</text>
<line x1="69.80" y1="440.50" x2="69.80" y2="443.50" stroke="#111" stroke-width="1.2"/>
<text x="69.80" y="453.90" font-size="8.3" text-anchor="middle" font-weight="normal" fill="#3a3a3a" >10</text>
<line x1="84.20" y1="440.50" x2="84.20" y2="443.50" stroke="#111" stroke-width="1.2"/>
<text x="84.20" y="453.90" font-size="8.3" text-anchor="middle" font-weight="normal" fill="#3a3a3a" >40</text>
<line x1="98.70" y1="440.50" x2="98.70" y2="443.50" stroke="#111" stroke-width="1.2"/>
<text x="98.70" y="453.90" font-size="8.3" text-anchor="middle" font-weight="normal" fill="#3a3a3a" >0</text>
<line x1="113.70" y1="440.50" x2="113.70" y2="443.50" stroke="#111" stroke-width="1.2"/>
<text x="113.70" y="453.90" font-size="8.3" text-anchor="middle" font-weight="normal" fill="#3a3a3a" >10</text>
<line x1="128.50" y1="440.50" x2="128.50" y2="443.50" stroke="#111" stroke-width="1.2"/>
<text x="128.50" y="453.90" font-size="8.3" text-anchor="middle" font-weight="normal" fill="#3a3a3a" >40</text>
<g transform="translate(91.1,468.0) scale(0.79,1)"><text x="0" y="0" font-size="9" text-anchor="middle" fill="#222" stroke="#222" stroke-width="0.5">Time (Mins)</text></g>
<circle cx="55.00" cy="440.50" r="1.75" fill="#a00c36" stroke="#620018" stroke-width="0.55"/>
<circle cx="57.90" cy="440.50" r="1.75" fill="#a00c36" stroke="#620018" stroke-width="0.55"/>
<circle cx="52.10" cy="440.19" r="1.75" fill="#a00c36" stroke="#620018" stroke-width="0.55"/>
<circle cx="56.71" cy="440.15" r="1.75" fill="#a00c36" stroke="#620018" stroke-width="0.55"/>
<circle cx="52.57" cy="440.06" r="1.75" fill="#a00c36" stroke="#620018" stroke-width="0.55"/>
<circle cx="55.15" cy="440.04" r="1.75" fill="#a00c36" stroke="#620018" stroke-width="0.55"/>
<circle cx="56.33" cy="440.01" r="1.75" fill="#a00c36" stroke="#620018" stroke-width="0.55"/>
<circle cx="55.63" cy="439.83" r="1.75" fill="#a00c36" stroke="#620018" stroke-width="0.55"/>
<circle cx="52.78" cy="439.76" r="1.75" fill="#a00c36" stroke="#620018" stroke-width="0.55"/>
<circle cx="53.06" cy="439.42" r="1.75" fill="#a00c36" stroke="#620018" stroke-width="0.55"/>
<circle cx="52.98" cy="439.29" r="1.75" fill="#a00c36" stroke="#620018" stroke-width="0.55"/>
<circle cx="54.55" cy="439.23" r="1.75" fill="#a00c36" stroke="#620018" stroke-width="0.55"/>
<circle cx="56.53" cy="439.20" r="1.75" fill="#a00c36" stroke="#620018" stroke-width="0.55"/>
<circle cx="54.07" cy="438.90" r="1.75" fill="#a00c36" stroke="#620018" stroke-width="0.55"/>
<circle cx="55.55" cy="438.83" r="1.75" fill="#a00c36" stroke="#620018" stroke-width="0.55"/>
<circle cx="52.50" cy="438.31" r="1.75" fill="#a00c36" stroke="#620018" stroke-width="0.55"/>
<circle cx="57.58" cy="438.17" r="1.75" fill="#a00c36" stroke="#620018" stroke-width="0.55"/>
<circle cx="56.14" cy="438.06" r="1.75" fill="#a00c36" stroke="#620018" stroke-width="0.55"/>
<circle cx="52.45" cy="438.05" r="1.75" fill="#a00c36" stroke="#620018" stroke-width="0.55"/>
<circle cx="55.85" cy="438.04" r="1.75" fill="#a00c36" stroke="#620018" stroke-width="0.55"/>
<circle cx="53.75" cy="437.85" r="1.75" fill="#a00c36" stroke="#620018" stroke-width="0.55"/>
<circle cx="57.24" cy="437.85" r="1.75" fill="#a00c36" stroke="#620018" stroke-width="0.55"/>
<circle cx="52.23" cy="437.78" r="1.75" fill="#a00c36" stroke="#620018" stroke-width="0.55"/>
<circle cx="54.16" cy="437.62" r="1.75" fill="#a00c36" stroke="#620018" stroke-width="0.55"/>
<circle cx="54.96" cy="437.61" r="1.75" fill="#a00c36" stroke="#620018" stroke-width="0.55"/>
<circle cx="56.56" cy="437.60" r="1.75" fill="#a00c36" stroke="#620018" stroke-width="0.55"/>
<circle cx="56.38" cy="437.59" r="1.75" fill="#a00c36" stroke="#620018" stroke-width="0.55"/>
<circle cx="54.37" cy="437.57" r="1.75" fill="#a00c36" stroke="#620018" stroke-width="0.55"/>
<circle cx="52.57" cy="437.49" r="1.75" fill="#a00c36" stroke="#620018" stroke-width="0.55"/>
<circle cx="54.43" cy="437.18" r="1.75" fill="#a00c36" stroke="#620018" stroke-width="0.55"/>
<circle cx="57.22" cy="436.83" r="1.75" fill="#a00c36" stroke="#620018" stroke-width="0.55"/>
<circle cx="57.11" cy="436.42" r="1.75" fill="#a00c36" stroke="#620018" stroke-width="0.55"/>
<circle cx="56.20" cy="436.26" r="1.75" fill="#a00c36" stroke="#620018" stroke-width="0.55"/>
<circle cx="56.06" cy="436.24" r="1.75" fill="#a00c36" stroke="#620018" stroke-width="0.55"/>
<circle cx="57.65" cy="435.95" r="1.75" fill="#a00c36" stroke="#620018" stroke-width="0.55"/>
<circle cx="52.58" cy="435.54" r="1.75" fill="#a00c36" stroke="#620018" stroke-width="0.55"/>
<circle cx="53.45" cy="435.21" r="1.75" fill="#a00c36" stroke="#620018" stroke-width="0.55"/>
<circle cx="52.17" cy="434.91" r="1.75" fill="#a00c36" stroke="#620018" stroke-width="0.55"/>
<line x1="50.40" y1="438.72" x2="59.60" y2="438.72" stroke="#111" stroke-width="1.4"/>
<line x1="55.00" y1="439.83" x2="55.00" y2="436.95" stroke="#3a0a14" stroke-width="0.8"/>
<line x1="52.20" y1="439.83" x2="57.80" y2="439.83" stroke="#3a0a14" stroke-width="0.8"/>
<line x1="52.20" y1="436.95" x2="57.80" y2="436.95" stroke="#3a0a14" stroke-width="0.8"/>
<circle cx="69.80" cy="434.28" r="1.75" fill="#a00c36" stroke="#620018" stroke-width="0.55"/>
<circle cx="69.80" cy="426.56" r="1.75" fill="#a00c36" stroke="#620018" stroke-width="0.55"/>
<circle cx="72.70" cy="425.90" r="1.75" fill="#a00c36" stroke="#620018" stroke-width="0.55"/>
<circle cx="66.90" cy="425.53" r="1.75" fill="#a00c36" stroke="#620018" stroke-width="0.55"/>
<circle cx="69.80" cy="422.99" r="1.75" fill="#a00c36" stroke="#620018" stroke-width="0.55"/>
<circle cx="72.70" cy="422.63" r="1.75" fill="#a00c36" stroke="#620018" stroke-width="0.55"/>
<circle cx="66.90" cy="421.42" r="1.75" fill="#a00c36" stroke="#620018" stroke-width="0.55"/>
<circle cx="69.80" cy="419.98" r="1.75" fill="#a00c36" stroke="#620018" stroke-width="0.55"/>
<circle cx="72.70" cy="419.33" r="1.75" fill="#a00c36" stroke="#620018" stroke-width="0.55"/>
<circle cx="70.92" cy="419.12" r="1.75" fill="#a00c36" stroke="#620018" stroke-width="0.55"/>
<circle cx="68.35" cy="417.43" r="1.75" fill="#a00c36" stroke="#620018" stroke-width="0.55"/>
<circle cx="71.59" cy="416.93" r="1.75" fill="#a00c36" stroke="#620018" stroke-width="0.55"/>
<circle cx="72.44" cy="416.05" r="1.75" fill="#a00c36" stroke="#620018" stroke-width="0.55"/>
<circle cx="67.37" cy="415.22" r="1.75" fill="#a00c36" stroke="#620018" stroke-width="0.55"/>
<circle cx="68.22" cy="414.22" r="1.75" fill="#a00c36" stroke="#620018" stroke-width="0.55"/>
<circle cx="68.86" cy="414.02" r="1.75" fill="#a00c36" stroke="#620018" stroke-width="0.55"/>
<circle cx="70.52" cy="413.77" r="1.75" fill="#a00c36" stroke="#620018" stroke-width="0.55"/>
<circle cx="69.68" cy="412.29" r="1.75" fill="#a00c36" stroke="#620018" stroke-width="0.55"/>
<circle cx="72.70" cy="411.60" r="1.75" fill="#a00c36" stroke="#620018" stroke-width="0.55"/>
<circle cx="68.35" cy="409.55" r="1.75" fill="#a00c36" stroke="#620018" stroke-width="0.55"/>
<circle cx="72.18" cy="409.52" r="1.75" fill="#a00c36" stroke="#620018" stroke-width="0.55"/>
<circle cx="69.67" cy="409.41" r="1.75" fill="#a00c36" stroke="#620018" stroke-width="0.55"/>
<circle cx="69.42" cy="409.20" r="1.75" fill="#a00c36" stroke="#620018" stroke-width="0.55"/>
<circle cx="67.40" cy="409.11" r="1.75" fill="#a00c36" stroke="#620018" stroke-width="0.55"/>
<circle cx="69.59" cy="408.25" r="1.75" fill="#a00c36" stroke="#620018" stroke-width="0.55"/>
<circle cx="71.10" cy="407.24" r="1.75" fill="#a00c36" stroke="#620018" stroke-width="0.55"/>
<circle cx="72.66" cy="407.17" r="1.75" fill="#a00c36" stroke="#620018" stroke-width="0.55"/>
<circle cx="67.78" cy="406.37" r="1.75" fill="#a00c36" stroke="#620018" stroke-width="0.55"/>
<circle cx="71.58" cy="406.28" r="1.75" fill="#a00c36" stroke="#620018" stroke-width="0.55"/>
<circle cx="70.45" cy="405.82" r="1.75" fill="#a00c36" stroke="#620018" stroke-width="0.55"/>
<circle cx="70.71" cy="405.40" r="1.75" fill="#a00c36" stroke="#620018" stroke-width="0.55"/>
<circle cx="67.80" cy="404.13" r="1.75" fill="#a00c36" stroke="#620018" stroke-width="0.55"/>
<circle cx="67.02" cy="404.03" r="1.75" fill="#a00c36" stroke="#620018" stroke-width="0.55"/>
<circle cx="69.95" cy="403.50" r="1.75" fill="#a00c36" stroke="#620018" stroke-width="0.55"/>
<circle cx="69.42" cy="403.27" r="1.75" fill="#a00c36" stroke="#620018" stroke-width="0.55"/>
<circle cx="71.69" cy="403.18" r="1.75" fill="#a00c36" stroke="#620018" stroke-width="0.55"/>
<circle cx="67.06" cy="402.80" r="1.75" fill="#a00c36" stroke="#620018" stroke-width="0.55"/>
<circle cx="68.60" cy="402.07" r="1.75" fill="#a00c36" stroke="#620018" stroke-width="0.55"/>
<circle cx="71.33" cy="401.39" r="1.75" fill="#a00c36" stroke="#620018" stroke-width="0.55"/>
<circle cx="68.40" cy="401.29" r="1.75" fill="#a00c36" stroke="#620018" stroke-width="0.55"/>
<circle cx="71.74" cy="400.13" r="1.75" fill="#a00c36" stroke="#620018" stroke-width="0.55"/>
<circle cx="72.18" cy="399.66" r="1.75" fill="#a00c36" stroke="#620018" stroke-width="0.55"/>
<circle cx="72.11" cy="398.98" r="1.75" fill="#a00c36" stroke="#620018" stroke-width="0.55"/>
<circle cx="68.35" cy="398.11" r="1.75" fill="#a00c36" stroke="#620018" stroke-width="0.55"/>
<circle cx="69.98" cy="397.10" r="1.75" fill="#a00c36" stroke="#620018" stroke-width="0.55"/>
<circle cx="71.96" cy="397.02" r="1.75" fill="#a00c36" stroke="#620018" stroke-width="0.55"/>
<circle cx="70.43" cy="396.55" r="1.75" fill="#a00c36" stroke="#620018" stroke-width="0.55"/>
<circle cx="67.90" cy="396.11" r="1.75" fill="#a00c36" stroke="#620018" stroke-width="0.55"/>
<circle cx="70.49" cy="396.05" r="1.75" fill="#a00c36" stroke="#620018" stroke-width="0.55"/>
<circle cx="70.13" cy="395.39" r="1.75" fill="#a00c36" stroke="#620018" stroke-width="0.55"/>
<circle cx="70.86" cy="395.07" r="1.75" fill="#a00c36" stroke="#620018" stroke-width="0.55"/>
<circle cx="71.45" cy="394.12" r="1.75" fill="#a00c36" stroke="#620018" stroke-width="0.55"/>
<circle cx="66.90" cy="393.29" r="1.75" fill="#a00c36" stroke="#620018" stroke-width="0.55"/>
<circle cx="68.34" cy="392.71" r="1.75" fill="#a00c36" stroke="#620018" stroke-width="0.55"/>
<circle cx="67.14" cy="392.61" r="1.75" fill="#a00c36" stroke="#620018" stroke-width="0.55"/>
<circle cx="69.84" cy="392.22" r="1.75" fill="#a00c36" stroke="#620018" stroke-width="0.55"/>
<circle cx="72.70" cy="391.31" r="1.75" fill="#a00c36" stroke="#620018" stroke-width="0.55"/>
<circle cx="69.47" cy="390.20" r="1.75" fill="#a00c36" stroke="#620018" stroke-width="0.55"/>
<circle cx="70.92" cy="390.12" r="1.75" fill="#a00c36" stroke="#620018" stroke-width="0.55"/>
<circle cx="69.85" cy="390.01" r="1.75" fill="#a00c36" stroke="#620018" stroke-width="0.55"/>
<circle cx="69.84" cy="389.73" r="1.75" fill="#a00c36" stroke="#620018" stroke-width="0.55"/>
<circle cx="70.96" cy="389.66" r="1.75" fill="#a00c36" stroke="#620018" stroke-width="0.55"/>
<circle cx="72.25" cy="389.31" r="1.75" fill="#a00c36" stroke="#620018" stroke-width="0.55"/>
<circle cx="71.77" cy="389.30" r="1.75" fill="#a00c36" stroke="#620018" stroke-width="0.55"/>
<circle cx="66.90" cy="388.14" r="1.75" fill="#a00c36" stroke="#620018" stroke-width="0.55"/>
<circle cx="67.61" cy="387.80" r="1.75" fill="#a00c36" stroke="#620018" stroke-width="0.55"/>
<circle cx="69.80" cy="385.15" r="1.75" fill="#a00c36" stroke="#620018" stroke-width="0.55"/>
<circle cx="72.70" cy="384.95" r="1.75" fill="#a00c36" stroke="#620018" stroke-width="0.55"/>
<circle cx="66.90" cy="383.81" r="1.75" fill="#a00c36" stroke="#620018" stroke-width="0.55"/>
<circle cx="69.80" cy="381.81" r="1.75" fill="#a00c36" stroke="#620018" stroke-width="0.55"/>
<circle cx="72.70" cy="381.52" r="1.75" fill="#a00c36" stroke="#620018" stroke-width="0.55"/>
<circle cx="66.90" cy="379.63" r="1.75" fill="#a00c36" stroke="#620018" stroke-width="0.55"/>
<circle cx="69.80" cy="378.34" r="1.75" fill="#a00c36" stroke="#620018" stroke-width="0.55"/>
<circle cx="72.70" cy="376.56" r="1.75" fill="#a00c36" stroke="#620018" stroke-width="0.55"/>
<circle cx="66.90" cy="376.12" r="1.75" fill="#a00c36" stroke="#620018" stroke-width="0.55"/>
<circle cx="69.80" cy="366.35" r="1.75" fill="#a00c36" stroke="#620018" stroke-width="0.55"/>
<line x1="65.20" y1="402.76" x2="74.40" y2="402.76" stroke="#111" stroke-width="1.4"/>
<line x1="69.80" y1="408.31" x2="69.80" y2="396.10" stroke="#3a0a14" stroke-width="0.8"/>
<line x1="67.00" y1="408.31" x2="72.60" y2="408.31" stroke="#3a0a14" stroke-width="0.8"/>
<line x1="67.00" y1="396.10" x2="72.60" y2="396.10" stroke="#3a0a14" stroke-width="0.8"/>
<circle cx="84.20" cy="440.50" r="1.75" fill="#a00c36" stroke="#620018" stroke-width="0.55"/>
<circle cx="87.10" cy="440.32" r="1.75" fill="#a00c36" stroke="#620018" stroke-width="0.55"/>
<circle cx="81.30" cy="440.18" r="1.75" fill="#a00c36" stroke="#620018" stroke-width="0.55"/>
<circle cx="82.47" cy="440.06" r="1.75" fill="#a00c36" stroke="#620018" stroke-width="0.55"/>
<circle cx="84.95" cy="440.03" r="1.75" fill="#a00c36" stroke="#620018" stroke-width="0.55"/>
<circle cx="82.98" cy="439.39" r="1.75" fill="#a00c36" stroke="#620018" stroke-width="0.55"/>
<circle cx="82.87" cy="439.30" r="1.75" fill="#a00c36" stroke="#620018" stroke-width="0.55"/>
<circle cx="87.07" cy="438.72" r="1.75" fill="#a00c36" stroke="#620018" stroke-width="0.55"/>
<circle cx="81.39" cy="438.04" r="1.75" fill="#a00c36" stroke="#620018" stroke-width="0.55"/>
<circle cx="84.28" cy="437.88" r="1.75" fill="#a00c36" stroke="#620018" stroke-width="0.55"/>
<circle cx="86.72" cy="437.12" r="1.75" fill="#a00c36" stroke="#620018" stroke-width="0.55"/>
<circle cx="85.12" cy="435.82" r="1.75" fill="#a00c36" stroke="#620018" stroke-width="0.55"/>
<circle cx="85.11" cy="435.50" r="1.75" fill="#a00c36" stroke="#620018" stroke-width="0.55"/>
<circle cx="81.30" cy="435.41" r="1.75" fill="#a00c36" stroke="#620018" stroke-width="0.55"/>
<circle cx="85.29" cy="434.33" r="1.75" fill="#a00c36" stroke="#620018" stroke-width="0.55"/>
<circle cx="83.29" cy="433.59" r="1.75" fill="#a00c36" stroke="#620018" stroke-width="0.55"/>
<circle cx="83.65" cy="433.50" r="1.75" fill="#a00c36" stroke="#620018" stroke-width="0.55"/>
<circle cx="86.99" cy="433.35" r="1.75" fill="#a00c36" stroke="#620018" stroke-width="0.55"/>
<circle cx="81.38" cy="433.29" r="1.75" fill="#a00c36" stroke="#620018" stroke-width="0.55"/>
<circle cx="83.80" cy="433.27" r="1.75" fill="#a00c36" stroke="#620018" stroke-width="0.55"/>
<circle cx="81.79" cy="433.16" r="1.75" fill="#a00c36" stroke="#620018" stroke-width="0.55"/>
<circle cx="86.35" cy="433.04" r="1.75" fill="#a00c36" stroke="#620018" stroke-width="0.55"/>
<circle cx="84.77" cy="432.27" r="1.75" fill="#a00c36" stroke="#620018" stroke-width="0.55"/>
<circle cx="81.56" cy="431.58" r="1.75" fill="#a00c36" stroke="#620018" stroke-width="0.55"/>
<circle cx="82.21" cy="431.48" r="1.75" fill="#a00c36" stroke="#620018" stroke-width="0.55"/>
<circle cx="81.32" cy="430.97" r="1.75" fill="#a00c36" stroke="#620018" stroke-width="0.55"/>
<circle cx="86.88" cy="430.80" r="1.75" fill="#a00c36" stroke="#620018" stroke-width="0.55"/>
<circle cx="82.72" cy="430.34" r="1.75" fill="#a00c36" stroke="#620018" stroke-width="0.55"/>
<circle cx="82.56" cy="429.98" r="1.75" fill="#a00c36" stroke="#620018" stroke-width="0.55"/>
<circle cx="81.31" cy="429.69" r="1.75" fill="#a00c36" stroke="#620018" stroke-width="0.55"/>
<circle cx="81.79" cy="429.68" r="1.75" fill="#a00c36" stroke="#620018" stroke-width="0.55"/>
<circle cx="84.22" cy="429.59" r="1.75" fill="#a00c36" stroke="#620018" stroke-width="0.55"/>
<circle cx="82.74" cy="429.49" r="1.75" fill="#a00c36" stroke="#620018" stroke-width="0.55"/>
<circle cx="81.83" cy="429.13" r="1.75" fill="#a00c36" stroke="#620018" stroke-width="0.55"/>
<circle cx="82.13" cy="429.12" r="1.75" fill="#a00c36" stroke="#620018" stroke-width="0.55"/>
<circle cx="83.59" cy="428.91" r="1.75" fill="#a00c36" stroke="#620018" stroke-width="0.55"/>
<circle cx="85.65" cy="427.25" r="1.75" fill="#a00c36" stroke="#620018" stroke-width="0.55"/>
<circle cx="84.95" cy="426.97" r="1.75" fill="#a00c36" stroke="#620018" stroke-width="0.55"/>
<circle cx="84.70" cy="426.70" r="1.75" fill="#a00c36" stroke="#620018" stroke-width="0.55"/>
<circle cx="81.30" cy="425.23" r="1.75" fill="#a00c36" stroke="#620018" stroke-width="0.55"/>
<circle cx="87.10" cy="424.73" r="1.75" fill="#a00c36" stroke="#620018" stroke-width="0.55"/>
<circle cx="85.48" cy="424.34" r="1.75" fill="#a00c36" stroke="#620018" stroke-width="0.55"/>
<circle cx="82.17" cy="424.33" r="1.75" fill="#a00c36" stroke="#620018" stroke-width="0.55"/>
<circle cx="81.55" cy="424.00" r="1.75" fill="#a00c36" stroke="#620018" stroke-width="0.55"/>
<circle cx="85.56" cy="423.62" r="1.75" fill="#a00c36" stroke="#620018" stroke-width="0.55"/>
<circle cx="86.58" cy="423.45" r="1.75" fill="#a00c36" stroke="#620018" stroke-width="0.55"/>
<circle cx="86.09" cy="423.25" r="1.75" fill="#a00c36" stroke="#620018" stroke-width="0.55"/>
<circle cx="81.79" cy="423.14" r="1.75" fill="#a00c36" stroke="#620018" stroke-width="0.55"/>
<circle cx="82.07" cy="422.96" r="1.75" fill="#a00c36" stroke="#620018" stroke-width="0.55"/>
<circle cx="86.87" cy="422.37" r="1.75" fill="#a00c36" stroke="#620018" stroke-width="0.55"/>
<circle cx="86.15" cy="422.29" r="1.75" fill="#a00c36" stroke="#620018" stroke-width="0.55"/>
<circle cx="84.94" cy="421.99" r="1.75" fill="#a00c36" stroke="#620018" stroke-width="0.55"/>
<circle cx="84.14" cy="421.48" r="1.75" fill="#a00c36" stroke="#620018" stroke-width="0.55"/>
<circle cx="83.95" cy="421.12" r="1.75" fill="#a00c36" stroke="#620018" stroke-width="0.55"/>
<circle cx="85.64" cy="420.93" r="1.75" fill="#a00c36" stroke="#620018" stroke-width="0.55"/>
<circle cx="85.12" cy="420.81" r="1.75" fill="#a00c36" stroke="#620018" stroke-width="0.55"/>
<circle cx="81.30" cy="420.34" r="1.75" fill="#a00c36" stroke="#620018" stroke-width="0.55"/>
<circle cx="84.20" cy="417.71" r="1.75" fill="#a00c36" stroke="#620018" stroke-width="0.55"/>
<circle cx="87.10" cy="416.82" r="1.75" fill="#a00c36" stroke="#620018" stroke-width="0.55"/>
<circle cx="81.30" cy="415.66" r="1.75" fill="#a00c36" stroke="#620018" stroke-width="0.55"/>
<circle cx="84.20" cy="415.10" r="1.75" fill="#a00c36" stroke="#620018" stroke-width="0.55"/>
<circle cx="85.53" cy="415.10" r="1.75" fill="#a00c36" stroke="#620018" stroke-width="0.55"/>
<circle cx="82.64" cy="414.65" r="1.75" fill="#a00c36" stroke="#620018" stroke-width="0.55"/>
<circle cx="84.16" cy="414.47" r="1.75" fill="#a00c36" stroke="#620018" stroke-width="0.55"/>
<circle cx="87.10" cy="412.91" r="1.75" fill="#a00c36" stroke="#620018" stroke-width="0.55"/>
<circle cx="84.08" cy="412.79" r="1.75" fill="#a00c36" stroke="#620018" stroke-width="0.55"/>
<circle cx="81.30" cy="411.64" r="1.75" fill="#a00c36" stroke="#620018" stroke-width="0.55"/>
<circle cx="84.20" cy="407.20" r="1.75" fill="#a00c36" stroke="#620018" stroke-width="0.55"/>
<circle cx="87.10" cy="407.20" r="1.75" fill="#a00c36" stroke="#620018" stroke-width="0.55"/>
<circle cx="84.20" cy="401.65" r="1.75" fill="#a00c36" stroke="#620018" stroke-width="0.55"/>
<line x1="79.60" y1="427.18" x2="88.80" y2="427.18" stroke="#111" stroke-width="1.4"/>
<line x1="84.20" y1="431.62" x2="84.20" y2="421.63" stroke="#3a0a14" stroke-width="0.8"/>
<line x1="81.40" y1="431.62" x2="87.00" y2="431.62" stroke="#3a0a14" stroke-width="0.8"/>
<line x1="81.40" y1="421.63" x2="87.00" y2="421.63" stroke="#3a0a14" stroke-width="0.8"/>
<circle cx="98.70" cy="440.50" r="1.5" fill="#fff" stroke="#a00c36" stroke-width="1.35"/>
<circle cx="101.60" cy="440.50" r="1.5" fill="#fff" stroke="#a00c36" stroke-width="1.35"/>
<circle cx="95.80" cy="440.46" r="1.5" fill="#fff" stroke="#a00c36" stroke-width="1.35"/>
<circle cx="101.25" cy="440.37" r="1.5" fill="#fff" stroke="#a00c36" stroke-width="1.35"/>
<circle cx="99.94" cy="440.27" r="1.5" fill="#fff" stroke="#a00c36" stroke-width="1.35"/>
<circle cx="97.27" cy="440.22" r="1.5" fill="#fff" stroke="#a00c36" stroke-width="1.35"/>
<circle cx="98.08" cy="440.18" r="1.5" fill="#fff" stroke="#a00c36" stroke-width="1.35"/>
<circle cx="97.89" cy="440.06" r="1.5" fill="#fff" stroke="#a00c36" stroke-width="1.35"/>
<circle cx="100.18" cy="440.06" r="1.5" fill="#fff" stroke="#a00c36" stroke-width="1.35"/>
<circle cx="97.43" cy="439.83" r="1.5" fill="#fff" stroke="#a00c36" stroke-width="1.35"/>
<circle cx="100.64" cy="439.57" r="1.5" fill="#fff" stroke="#a00c36" stroke-width="1.35"/>
<circle cx="99.48" cy="439.43" r="1.5" fill="#fff" stroke="#a00c36" stroke-width="1.35"/>
<circle cx="97.25" cy="439.23" r="1.5" fill="#fff" stroke="#a00c36" stroke-width="1.35"/>
<circle cx="98.33" cy="439.18" r="1.5" fill="#fff" stroke="#a00c36" stroke-width="1.35"/>
<circle cx="96.90" cy="439.09" r="1.5" fill="#fff" stroke="#a00c36" stroke-width="1.35"/>
<circle cx="100.35" cy="438.79" r="1.5" fill="#fff" stroke="#a00c36" stroke-width="1.35"/>
<circle cx="100.93" cy="438.69" r="1.5" fill="#fff" stroke="#a00c36" stroke-width="1.35"/>
<circle cx="101.10" cy="438.67" r="1.5" fill="#fff" stroke="#a00c36" stroke-width="1.35"/>
<circle cx="99.97" cy="438.54" r="1.5" fill="#fff" stroke="#a00c36" stroke-width="1.35"/>
<circle cx="101.21" cy="438.50" r="1.5" fill="#fff" stroke="#a00c36" stroke-width="1.35"/>
<circle cx="98.41" cy="438.47" r="1.5" fill="#fff" stroke="#a00c36" stroke-width="1.35"/>
<circle cx="99.54" cy="438.45" r="1.5" fill="#fff" stroke="#a00c36" stroke-width="1.35"/>
<circle cx="98.62" cy="438.41" r="1.5" fill="#fff" stroke="#a00c36" stroke-width="1.35"/>
<circle cx="96.79" cy="437.97" r="1.5" fill="#fff" stroke="#a00c36" stroke-width="1.35"/>
<circle cx="97.79" cy="437.94" r="1.5" fill="#fff" stroke="#a00c36" stroke-width="1.35"/>
<circle cx="97.28" cy="437.71" r="1.5" fill="#fff" stroke="#a00c36" stroke-width="1.35"/>
<circle cx="98.16" cy="437.56" r="1.5" fill="#fff" stroke="#a00c36" stroke-width="1.35"/>
<circle cx="97.54" cy="437.41" r="1.5" fill="#fff" stroke="#a00c36" stroke-width="1.35"/>
<circle cx="96.49" cy="437.39" r="1.5" fill="#fff" stroke="#a00c36" stroke-width="1.35"/>
<circle cx="96.24" cy="437.32" r="1.5" fill="#fff" stroke="#a00c36" stroke-width="1.35"/>
<circle cx="98.99" cy="437.18" r="1.5" fill="#fff" stroke="#a00c36" stroke-width="1.35"/>
<circle cx="101.06" cy="437.16" r="1.5" fill="#fff" stroke="#a00c36" stroke-width="1.35"/>
<circle cx="98.28" cy="437.11" r="1.5" fill="#fff" stroke="#a00c36" stroke-width="1.35"/>
<circle cx="97.22" cy="437.00" r="1.5" fill="#fff" stroke="#a00c36" stroke-width="1.35"/>
<circle cx="97.78" cy="436.94" r="1.5" fill="#fff" stroke="#a00c36" stroke-width="1.35"/>
<circle cx="97.65" cy="436.90" r="1.5" fill="#fff" stroke="#a00c36" stroke-width="1.35"/>
<circle cx="97.30" cy="436.80" r="1.5" fill="#fff" stroke="#a00c36" stroke-width="1.35"/>
<circle cx="100.95" cy="436.13" r="1.5" fill="#fff" stroke="#a00c36" stroke-width="1.35"/>
<circle cx="98.02" cy="436.10" r="1.5" fill="#fff" stroke="#a00c36" stroke-width="1.35"/>
<circle cx="97.99" cy="435.98" r="1.5" fill="#fff" stroke="#a00c36" stroke-width="1.35"/>
<circle cx="100.16" cy="435.71" r="1.5" fill="#fff" stroke="#a00c36" stroke-width="1.35"/>
<circle cx="97.41" cy="435.51" r="1.5" fill="#fff" stroke="#a00c36" stroke-width="1.35"/>
<circle cx="96.53" cy="435.20" r="1.5" fill="#fff" stroke="#a00c36" stroke-width="1.35"/>
<circle cx="96.34" cy="434.86" r="1.5" fill="#fff" stroke="#a00c36" stroke-width="1.35"/>
<circle cx="98.03" cy="434.73" r="1.5" fill="#fff" stroke="#a00c36" stroke-width="1.35"/>
<circle cx="98.30" cy="434.45" r="1.5" fill="#fff" stroke="#a00c36" stroke-width="1.35"/>
<circle cx="101.60" cy="434.04" r="1.5" fill="#fff" stroke="#a00c36" stroke-width="1.35"/>
<circle cx="100.15" cy="432.72" r="1.5" fill="#fff" stroke="#a00c36" stroke-width="1.35"/>
<circle cx="97.25" cy="432.06" r="1.5" fill="#fff" stroke="#a00c36" stroke-width="1.35"/>
<circle cx="98.70" cy="429.84" r="1.5" fill="#fff" stroke="#a00c36" stroke-width="1.35"/>
<circle cx="100.15" cy="428.29" r="1.5" fill="#fff" stroke="#a00c36" stroke-width="1.35"/>
<circle cx="97.25" cy="427.18" r="1.5" fill="#fff" stroke="#a00c36" stroke-width="1.35"/>
<circle cx="98.70" cy="416.08" r="1.5" fill="#fff" stroke="#a00c36" stroke-width="1.35"/>
<line x1="94.10" y1="438.28" x2="103.30" y2="438.28" stroke="#111" stroke-width="1.4"/>
<line x1="98.70" y1="439.39" x2="98.70" y2="433.84" stroke="#3a0a14" stroke-width="0.8"/>
<line x1="95.90" y1="439.39" x2="101.50" y2="439.39" stroke="#3a0a14" stroke-width="0.8"/>
<line x1="95.90" y1="433.84" x2="101.50" y2="433.84" stroke="#3a0a14" stroke-width="0.8"/>
<circle cx="113.70" cy="427.06" r="1.5" fill="#fff" stroke="#a00c36" stroke-width="1.35"/>
<circle cx="116.60" cy="425.80" r="1.5" fill="#fff" stroke="#a00c36" stroke-width="1.35"/>
<circle cx="110.80" cy="425.70" r="1.5" fill="#fff" stroke="#a00c36" stroke-width="1.35"/>
<circle cx="111.94" cy="424.94" r="1.5" fill="#fff" stroke="#a00c36" stroke-width="1.35"/>
<circle cx="111.92" cy="424.58" r="1.5" fill="#fff" stroke="#a00c36" stroke-width="1.35"/>
<circle cx="115.08" cy="424.25" r="1.5" fill="#fff" stroke="#a00c36" stroke-width="1.35"/>
<circle cx="113.70" cy="421.86" r="1.5" fill="#fff" stroke="#a00c36" stroke-width="1.35"/>
<circle cx="116.60" cy="421.82" r="1.5" fill="#fff" stroke="#a00c36" stroke-width="1.35"/>
<circle cx="110.80" cy="421.04" r="1.5" fill="#fff" stroke="#a00c36" stroke-width="1.35"/>
<circle cx="115.51" cy="420.84" r="1.5" fill="#fff" stroke="#a00c36" stroke-width="1.35"/>
<circle cx="111.04" cy="420.25" r="1.5" fill="#fff" stroke="#a00c36" stroke-width="1.35"/>
<circle cx="113.49" cy="419.85" r="1.5" fill="#fff" stroke="#a00c36" stroke-width="1.35"/>
<circle cx="112.29" cy="419.15" r="1.5" fill="#fff" stroke="#a00c36" stroke-width="1.35"/>
<circle cx="116.01" cy="419.07" r="1.5" fill="#fff" stroke="#a00c36" stroke-width="1.35"/>
<circle cx="112.91" cy="418.61" r="1.5" fill="#fff" stroke="#a00c36" stroke-width="1.35"/>
<circle cx="116.35" cy="418.31" r="1.5" fill="#fff" stroke="#a00c36" stroke-width="1.35"/>
<circle cx="112.32" cy="418.30" r="1.5" fill="#fff" stroke="#a00c36" stroke-width="1.35"/>
<circle cx="116.16" cy="418.20" r="1.5" fill="#fff" stroke="#a00c36" stroke-width="1.35"/>
<circle cx="110.82" cy="417.96" r="1.5" fill="#fff" stroke="#a00c36" stroke-width="1.35"/>
<circle cx="110.94" cy="417.59" r="1.5" fill="#fff" stroke="#a00c36" stroke-width="1.35"/>
<circle cx="111.42" cy="417.51" r="1.5" fill="#fff" stroke="#a00c36" stroke-width="1.35"/>
<circle cx="116.33" cy="417.36" r="1.5" fill="#fff" stroke="#a00c36" stroke-width="1.35"/>
<circle cx="115.38" cy="417.19" r="1.5" fill="#fff" stroke="#a00c36" stroke-width="1.35"/>
<circle cx="115.53" cy="417.04" r="1.5" fill="#fff" stroke="#a00c36" stroke-width="1.35"/>
<circle cx="116.18" cy="416.40" r="1.5" fill="#fff" stroke="#a00c36" stroke-width="1.35"/>
<circle cx="113.70" cy="415.63" r="1.5" fill="#fff" stroke="#a00c36" stroke-width="1.35"/>
<circle cx="110.80" cy="415.29" r="1.5" fill="#fff" stroke="#a00c36" stroke-width="1.35"/>
<circle cx="115.57" cy="415.22" r="1.5" fill="#fff" stroke="#a00c36" stroke-width="1.35"/>
<circle cx="114.32" cy="415.07" r="1.5" fill="#fff" stroke="#a00c36" stroke-width="1.35"/>
<circle cx="115.80" cy="414.41" r="1.5" fill="#fff" stroke="#a00c36" stroke-width="1.35"/>
<circle cx="112.90" cy="414.11" r="1.5" fill="#fff" stroke="#a00c36" stroke-width="1.35"/>
<circle cx="113.77" cy="414.00" r="1.5" fill="#fff" stroke="#a00c36" stroke-width="1.35"/>
<circle cx="115.17" cy="413.80" r="1.5" fill="#fff" stroke="#a00c36" stroke-width="1.35"/>
<circle cx="113.16" cy="413.69" r="1.5" fill="#fff" stroke="#a00c36" stroke-width="1.35"/>
<circle cx="110.80" cy="412.93" r="1.5" fill="#fff" stroke="#a00c36" stroke-width="1.35"/>
<circle cx="114.01" cy="412.82" r="1.5" fill="#fff" stroke="#a00c36" stroke-width="1.35"/>
<circle cx="111.73" cy="412.55" r="1.5" fill="#fff" stroke="#a00c36" stroke-width="1.35"/>
<circle cx="116.60" cy="411.96" r="1.5" fill="#fff" stroke="#a00c36" stroke-width="1.35"/>
<circle cx="116.53" cy="411.74" r="1.5" fill="#fff" stroke="#a00c36" stroke-width="1.35"/>
<circle cx="114.42" cy="411.56" r="1.5" fill="#fff" stroke="#a00c36" stroke-width="1.35"/>
<circle cx="111.36" cy="411.38" r="1.5" fill="#fff" stroke="#a00c36" stroke-width="1.35"/>
<circle cx="116.53" cy="411.22" r="1.5" fill="#fff" stroke="#a00c36" stroke-width="1.35"/>
<circle cx="111.80" cy="410.99" r="1.5" fill="#fff" stroke="#a00c36" stroke-width="1.35"/>
<circle cx="113.22" cy="410.79" r="1.5" fill="#fff" stroke="#a00c36" stroke-width="1.35"/>
<circle cx="115.14" cy="410.15" r="1.5" fill="#fff" stroke="#a00c36" stroke-width="1.35"/>
<circle cx="115.32" cy="410.15" r="1.5" fill="#fff" stroke="#a00c36" stroke-width="1.35"/>
<circle cx="112.50" cy="409.13" r="1.5" fill="#fff" stroke="#a00c36" stroke-width="1.35"/>
<circle cx="112.96" cy="409.08" r="1.5" fill="#fff" stroke="#a00c36" stroke-width="1.35"/>
<circle cx="111.96" cy="408.97" r="1.5" fill="#fff" stroke="#a00c36" stroke-width="1.35"/>
<circle cx="111.88" cy="408.92" r="1.5" fill="#fff" stroke="#a00c36" stroke-width="1.35"/>
<circle cx="111.69" cy="408.76" r="1.5" fill="#fff" stroke="#a00c36" stroke-width="1.35"/>
<circle cx="116.60" cy="408.02" r="1.5" fill="#fff" stroke="#a00c36" stroke-width="1.35"/>
<circle cx="111.18" cy="407.81" r="1.5" fill="#fff" stroke="#a00c36" stroke-width="1.35"/>
<circle cx="116.56" cy="407.09" r="1.5" fill="#fff" stroke="#a00c36" stroke-width="1.35"/>
<circle cx="113.70" cy="406.84" r="1.5" fill="#fff" stroke="#a00c36" stroke-width="1.35"/>
<circle cx="114.59" cy="406.27" r="1.5" fill="#fff" stroke="#a00c36" stroke-width="1.35"/>
<circle cx="111.39" cy="406.08" r="1.5" fill="#fff" stroke="#a00c36" stroke-width="1.35"/>
<circle cx="115.92" cy="406.04" r="1.5" fill="#fff" stroke="#a00c36" stroke-width="1.35"/>
<circle cx="115.68" cy="405.72" r="1.5" fill="#fff" stroke="#a00c36" stroke-width="1.35"/>
<circle cx="111.03" cy="405.57" r="1.5" fill="#fff" stroke="#a00c36" stroke-width="1.35"/>
<circle cx="112.15" cy="405.47" r="1.5" fill="#fff" stroke="#a00c36" stroke-width="1.35"/>
<circle cx="111.90" cy="405.32" r="1.5" fill="#fff" stroke="#a00c36" stroke-width="1.35"/>
<circle cx="116.20" cy="404.95" r="1.5" fill="#fff" stroke="#a00c36" stroke-width="1.35"/>
<circle cx="113.77" cy="404.84" r="1.5" fill="#fff" stroke="#a00c36" stroke-width="1.35"/>
<circle cx="113.40" cy="404.46" r="1.5" fill="#fff" stroke="#a00c36" stroke-width="1.35"/>
<circle cx="115.29" cy="404.31" r="1.5" fill="#fff" stroke="#a00c36" stroke-width="1.35"/>
<circle cx="111.41" cy="403.60" r="1.5" fill="#fff" stroke="#a00c36" stroke-width="1.35"/>
<circle cx="113.70" cy="400.76" r="1.5" fill="#fff" stroke="#a00c36" stroke-width="1.35"/>
<circle cx="116.60" cy="400.61" r="1.5" fill="#fff" stroke="#a00c36" stroke-width="1.35"/>
<circle cx="110.80" cy="400.30" r="1.5" fill="#fff" stroke="#a00c36" stroke-width="1.35"/>
<circle cx="112.77" cy="399.23" r="1.5" fill="#fff" stroke="#a00c36" stroke-width="1.35"/>
<circle cx="115.15" cy="398.46" r="1.5" fill="#fff" stroke="#a00c36" stroke-width="1.35"/>
<circle cx="116.60" cy="398.42" r="1.5" fill="#fff" stroke="#a00c36" stroke-width="1.35"/>
<circle cx="114.28" cy="398.38" r="1.5" fill="#fff" stroke="#a00c36" stroke-width="1.35"/>
<circle cx="110.80" cy="397.63" r="1.5" fill="#fff" stroke="#a00c36" stroke-width="1.35"/>
<circle cx="115.55" cy="396.71" r="1.5" fill="#fff" stroke="#a00c36" stroke-width="1.35"/>
<circle cx="113.70" cy="395.46" r="1.5" fill="#fff" stroke="#a00c36" stroke-width="1.35"/>
<circle cx="110.80" cy="395.18" r="1.5" fill="#fff" stroke="#a00c36" stroke-width="1.35"/>
<circle cx="114.40" cy="395.03" r="1.5" fill="#fff" stroke="#a00c36" stroke-width="1.35"/>
<circle cx="111.98" cy="394.96" r="1.5" fill="#fff" stroke="#a00c36" stroke-width="1.35"/>
<circle cx="113.98" cy="394.87" r="1.5" fill="#fff" stroke="#a00c36" stroke-width="1.35"/>
<circle cx="116.60" cy="394.26" r="1.5" fill="#fff" stroke="#a00c36" stroke-width="1.35"/>
<circle cx="111.39" cy="393.86" r="1.5" fill="#fff" stroke="#a00c36" stroke-width="1.35"/>
<circle cx="114.65" cy="393.17" r="1.5" fill="#fff" stroke="#a00c36" stroke-width="1.35"/>
<circle cx="114.51" cy="392.68" r="1.5" fill="#fff" stroke="#a00c36" stroke-width="1.35"/>
<circle cx="114.59" cy="392.09" r="1.5" fill="#fff" stroke="#a00c36" stroke-width="1.35"/>
<circle cx="112.25" cy="391.68" r="1.5" fill="#fff" stroke="#a00c36" stroke-width="1.35"/>
<circle cx="113.18" cy="391.61" r="1.5" fill="#fff" stroke="#a00c36" stroke-width="1.35"/>
<circle cx="114.67" cy="391.25" r="1.5" fill="#fff" stroke="#a00c36" stroke-width="1.35"/>
<circle cx="116.33" cy="390.30" r="1.5" fill="#fff" stroke="#a00c36" stroke-width="1.35"/>
<circle cx="110.80" cy="389.64" r="1.5" fill="#fff" stroke="#a00c36" stroke-width="1.35"/>
<circle cx="113.70" cy="388.93" r="1.5" fill="#fff" stroke="#a00c36" stroke-width="1.35"/>
<circle cx="113.22" cy="388.30" r="1.5" fill="#fff" stroke="#a00c36" stroke-width="1.35"/>
<circle cx="116.60" cy="387.81" r="1.5" fill="#fff" stroke="#a00c36" stroke-width="1.35"/>
<circle cx="113.07" cy="387.50" r="1.5" fill="#fff" stroke="#a00c36" stroke-width="1.35"/>
<circle cx="110.80" cy="387.13" r="1.5" fill="#fff" stroke="#a00c36" stroke-width="1.35"/>
<circle cx="116.26" cy="386.85" r="1.5" fill="#fff" stroke="#a00c36" stroke-width="1.35"/>
<circle cx="116.03" cy="386.67" r="1.5" fill="#fff" stroke="#a00c36" stroke-width="1.35"/>
<circle cx="111.46" cy="386.11" r="1.5" fill="#fff" stroke="#a00c36" stroke-width="1.35"/>
<circle cx="113.16" cy="385.97" r="1.5" fill="#fff" stroke="#a00c36" stroke-width="1.35"/>
<circle cx="113.47" cy="385.82" r="1.5" fill="#fff" stroke="#a00c36" stroke-width="1.35"/>
<circle cx="111.55" cy="385.44" r="1.5" fill="#fff" stroke="#a00c36" stroke-width="1.35"/>
<circle cx="114.00" cy="385.19" r="1.5" fill="#fff" stroke="#a00c36" stroke-width="1.35"/>
<circle cx="111.32" cy="385.01" r="1.5" fill="#fff" stroke="#a00c36" stroke-width="1.35"/>
<circle cx="116.60" cy="384.00" r="1.5" fill="#fff" stroke="#a00c36" stroke-width="1.35"/>
<circle cx="113.70" cy="375.01" r="1.5" fill="#fff" stroke="#a00c36" stroke-width="1.35"/>
<circle cx="116.60" cy="373.46" r="1.5" fill="#fff" stroke="#a00c36" stroke-width="1.35"/>
<line x1="109.10" y1="406.09" x2="118.30" y2="406.09" stroke="#111" stroke-width="1.4"/>
<line x1="113.70" y1="411.64" x2="113.70" y2="399.43" stroke="#3a0a14" stroke-width="0.8"/>
<line x1="110.90" y1="411.64" x2="116.50" y2="411.64" stroke="#3a0a14" stroke-width="0.8"/>
<line x1="110.90" y1="399.43" x2="116.50" y2="399.43" stroke="#3a0a14" stroke-width="0.8"/>
<circle cx="128.50" cy="440.50" r="1.5" fill="#fff" stroke="#a00c36" stroke-width="1.35"/>
<circle cx="131.40" cy="440.50" r="1.5" fill="#fff" stroke="#a00c36" stroke-width="1.35"/>
<circle cx="125.60" cy="440.35" r="1.5" fill="#fff" stroke="#a00c36" stroke-width="1.35"/>
<circle cx="126.52" cy="440.04" r="1.5" fill="#fff" stroke="#a00c36" stroke-width="1.35"/>
<circle cx="130.85" cy="439.98" r="1.5" fill="#fff" stroke="#a00c36" stroke-width="1.35"/>
<circle cx="126.43" cy="439.83" r="1.5" fill="#fff" stroke="#a00c36" stroke-width="1.35"/>
<circle cx="126.81" cy="439.78" r="1.5" fill="#fff" stroke="#a00c36" stroke-width="1.35"/>
<circle cx="129.17" cy="439.69" r="1.5" fill="#fff" stroke="#a00c36" stroke-width="1.35"/>
<circle cx="127.45" cy="439.37" r="1.5" fill="#fff" stroke="#a00c36" stroke-width="1.35"/>
<circle cx="126.75" cy="439.32" r="1.5" fill="#fff" stroke="#a00c36" stroke-width="1.35"/>
<circle cx="126.54" cy="439.31" r="1.5" fill="#fff" stroke="#a00c36" stroke-width="1.35"/>
<circle cx="129.54" cy="439.13" r="1.5" fill="#fff" stroke="#a00c36" stroke-width="1.35"/>
<circle cx="126.58" cy="439.08" r="1.5" fill="#fff" stroke="#a00c36" stroke-width="1.35"/>
<circle cx="126.27" cy="438.99" r="1.5" fill="#fff" stroke="#a00c36" stroke-width="1.35"/>
<circle cx="129.29" cy="438.94" r="1.5" fill="#fff" stroke="#a00c36" stroke-width="1.35"/>
<circle cx="131.20" cy="438.85" r="1.5" fill="#fff" stroke="#a00c36" stroke-width="1.35"/>
<circle cx="128.82" cy="438.82" r="1.5" fill="#fff" stroke="#a00c36" stroke-width="1.35"/>
<circle cx="127.06" cy="438.55" r="1.5" fill="#fff" stroke="#a00c36" stroke-width="1.35"/>
<circle cx="129.88" cy="438.19" r="1.5" fill="#fff" stroke="#a00c36" stroke-width="1.35"/>
<circle cx="127.14" cy="438.16" r="1.5" fill="#fff" stroke="#a00c36" stroke-width="1.35"/>
<circle cx="128.95" cy="438.06" r="1.5" fill="#fff" stroke="#a00c36" stroke-width="1.35"/>
<circle cx="127.52" cy="437.92" r="1.5" fill="#fff" stroke="#a00c36" stroke-width="1.35"/>
<circle cx="128.17" cy="437.14" r="1.5" fill="#fff" stroke="#a00c36" stroke-width="1.35"/>
<circle cx="131.40" cy="436.32" r="1.5" fill="#fff" stroke="#a00c36" stroke-width="1.35"/>
<circle cx="125.60" cy="436.13" r="1.5" fill="#fff" stroke="#a00c36" stroke-width="1.35"/>
<circle cx="130.35" cy="435.79" r="1.5" fill="#fff" stroke="#a00c36" stroke-width="1.35"/>
<circle cx="127.40" cy="435.70" r="1.5" fill="#fff" stroke="#a00c36" stroke-width="1.35"/>
<circle cx="129.85" cy="435.66" r="1.5" fill="#fff" stroke="#a00c36" stroke-width="1.35"/>
<circle cx="126.89" cy="435.39" r="1.5" fill="#fff" stroke="#a00c36" stroke-width="1.35"/>
<circle cx="129.17" cy="435.37" r="1.5" fill="#fff" stroke="#a00c36" stroke-width="1.35"/>
<circle cx="128.02" cy="435.15" r="1.5" fill="#fff" stroke="#a00c36" stroke-width="1.35"/>
<circle cx="130.79" cy="434.93" r="1.5" fill="#fff" stroke="#a00c36" stroke-width="1.35"/>
<circle cx="128.43" cy="434.91" r="1.5" fill="#fff" stroke="#a00c36" stroke-width="1.35"/>
<circle cx="125.73" cy="434.86" r="1.5" fill="#fff" stroke="#a00c36" stroke-width="1.35"/>
<circle cx="128.89" cy="434.48" r="1.5" fill="#fff" stroke="#a00c36" stroke-width="1.35"/>
<circle cx="126.22" cy="434.41" r="1.5" fill="#fff" stroke="#a00c36" stroke-width="1.35"/>
<circle cx="128.70" cy="434.30" r="1.5" fill="#fff" stroke="#a00c36" stroke-width="1.35"/>
<circle cx="128.98" cy="434.13" r="1.5" fill="#fff" stroke="#a00c36" stroke-width="1.35"/>
<circle cx="126.78" cy="434.09" r="1.5" fill="#fff" stroke="#a00c36" stroke-width="1.35"/>
<circle cx="126.52" cy="434.05" r="1.5" fill="#fff" stroke="#a00c36" stroke-width="1.35"/>
<circle cx="131.03" cy="434.01" r="1.5" fill="#fff" stroke="#a00c36" stroke-width="1.35"/>
<circle cx="129.70" cy="433.39" r="1.5" fill="#fff" stroke="#a00c36" stroke-width="1.35"/>
<circle cx="126.16" cy="432.80" r="1.5" fill="#fff" stroke="#a00c36" stroke-width="1.35"/>
<circle cx="130.65" cy="432.42" r="1.5" fill="#fff" stroke="#a00c36" stroke-width="1.35"/>
<circle cx="128.50" cy="431.87" r="1.5" fill="#fff" stroke="#a00c36" stroke-width="1.35"/>
<circle cx="130.31" cy="431.66" r="1.5" fill="#fff" stroke="#a00c36" stroke-width="1.35"/>
<circle cx="125.93" cy="431.58" r="1.5" fill="#fff" stroke="#a00c36" stroke-width="1.35"/>
<circle cx="129.05" cy="431.54" r="1.5" fill="#fff" stroke="#a00c36" stroke-width="1.35"/>
<circle cx="129.09" cy="431.49" r="1.5" fill="#fff" stroke="#a00c36" stroke-width="1.35"/>
<circle cx="127.04" cy="431.45" r="1.5" fill="#fff" stroke="#a00c36" stroke-width="1.35"/>
<circle cx="125.86" cy="431.13" r="1.5" fill="#fff" stroke="#a00c36" stroke-width="1.35"/>
<circle cx="127.95" cy="430.42" r="1.5" fill="#fff" stroke="#a00c36" stroke-width="1.35"/>
<circle cx="126.52" cy="430.36" r="1.5" fill="#fff" stroke="#a00c36" stroke-width="1.35"/>
<circle cx="125.67" cy="430.18" r="1.5" fill="#fff" stroke="#a00c36" stroke-width="1.35"/>
<circle cx="126.43" cy="430.12" r="1.5" fill="#fff" stroke="#a00c36" stroke-width="1.35"/>
<circle cx="131.40" cy="429.82" r="1.5" fill="#fff" stroke="#a00c36" stroke-width="1.35"/>
<circle cx="130.32" cy="429.74" r="1.5" fill="#fff" stroke="#a00c36" stroke-width="1.35"/>
<circle cx="128.55" cy="429.73" r="1.5" fill="#fff" stroke="#a00c36" stroke-width="1.35"/>
<circle cx="127.34" cy="429.59" r="1.5" fill="#fff" stroke="#a00c36" stroke-width="1.35"/>
<circle cx="131.37" cy="429.28" r="1.5" fill="#fff" stroke="#a00c36" stroke-width="1.35"/>
<circle cx="129.75" cy="428.91" r="1.5" fill="#fff" stroke="#a00c36" stroke-width="1.35"/>
<circle cx="127.78" cy="428.90" r="1.5" fill="#fff" stroke="#a00c36" stroke-width="1.35"/>
<circle cx="129.92" cy="428.83" r="1.5" fill="#fff" stroke="#a00c36" stroke-width="1.35"/>
<circle cx="126.07" cy="428.51" r="1.5" fill="#fff" stroke="#a00c36" stroke-width="1.35"/>
<circle cx="126.62" cy="428.39" r="1.5" fill="#fff" stroke="#a00c36" stroke-width="1.35"/>
<circle cx="127.12" cy="428.31" r="1.5" fill="#fff" stroke="#a00c36" stroke-width="1.35"/>
<circle cx="126.31" cy="428.20" r="1.5" fill="#fff" stroke="#a00c36" stroke-width="1.35"/>
<circle cx="129.73" cy="428.12" r="1.5" fill="#fff" stroke="#a00c36" stroke-width="1.35"/>
<circle cx="129.29" cy="427.71" r="1.5" fill="#fff" stroke="#a00c36" stroke-width="1.35"/>
<circle cx="129.58" cy="427.32" r="1.5" fill="#fff" stroke="#a00c36" stroke-width="1.35"/>
<circle cx="127.31" cy="427.28" r="1.5" fill="#fff" stroke="#a00c36" stroke-width="1.35"/>
<circle cx="126.10" cy="427.14" r="1.5" fill="#fff" stroke="#a00c36" stroke-width="1.35"/>
<circle cx="131.40" cy="426.59" r="1.5" fill="#fff" stroke="#a00c36" stroke-width="1.35"/>
<circle cx="127.11" cy="426.57" r="1.5" fill="#fff" stroke="#a00c36" stroke-width="1.35"/>
<circle cx="130.48" cy="426.38" r="1.5" fill="#fff" stroke="#a00c36" stroke-width="1.35"/>
<circle cx="131.08" cy="426.25" r="1.5" fill="#fff" stroke="#a00c36" stroke-width="1.35"/>
<circle cx="126.71" cy="426.10" r="1.5" fill="#fff" stroke="#a00c36" stroke-width="1.35"/>
<circle cx="127.51" cy="425.73" r="1.5" fill="#fff" stroke="#a00c36" stroke-width="1.35"/>
<circle cx="127.80" cy="425.07" r="1.5" fill="#fff" stroke="#a00c36" stroke-width="1.35"/>
<circle cx="128.34" cy="424.77" r="1.5" fill="#fff" stroke="#a00c36" stroke-width="1.35"/>
<circle cx="130.57" cy="424.61" r="1.5" fill="#fff" stroke="#a00c36" stroke-width="1.35"/>
<circle cx="125.60" cy="424.12" r="1.5" fill="#fff" stroke="#a00c36" stroke-width="1.35"/>
<circle cx="128.91" cy="423.91" r="1.5" fill="#fff" stroke="#a00c36" stroke-width="1.35"/>
<circle cx="128.50" cy="419.41" r="1.5" fill="#fff" stroke="#a00c36" stroke-width="1.35"/>
<circle cx="128.50" cy="417.19" r="1.5" fill="#fff" stroke="#a00c36" stroke-width="1.35"/>
<circle cx="131.40" cy="417.19" r="1.5" fill="#fff" stroke="#a00c36" stroke-width="1.35"/>
<circle cx="128.50" cy="413.86" r="1.5" fill="#fff" stroke="#a00c36" stroke-width="1.35"/>
<circle cx="131.40" cy="413.86" r="1.5" fill="#fff" stroke="#a00c36" stroke-width="1.35"/>
<line x1="123.90" y1="432.73" x2="133.10" y2="432.73" stroke="#111" stroke-width="1.4"/>
<line x1="128.50" y1="436.06" x2="128.50" y2="428.29" stroke="#3a0a14" stroke-width="0.8"/>
<line x1="125.70" y1="436.06" x2="131.30" y2="436.06" stroke="#3a0a14" stroke-width="0.8"/>
<line x1="125.70" y1="428.29" x2="131.30" y2="428.29" stroke="#3a0a14" stroke-width="0.8"/>
<line x1="68.80" y1="356.60" x2="114.40" y2="356.60" stroke="#111" stroke-width="1.2"/>
<line x1="68.80" y1="354.10" x2="68.80" y2="359.10" stroke="#111" stroke-width="1.2"/>
<line x1="114.40" y1="354.10" x2="114.40" y2="359.10" stroke="#111" stroke-width="1.2"/>
<text x="90.00" y="353.50" font-size="7.5" text-anchor="middle" font-weight="normal" fill="#333" >ns</text>
<line x1="84.40" y1="368.50" x2="129.20" y2="368.50" stroke="#111" stroke-width="1.2"/>
<line x1="84.40" y1="366.00" x2="84.40" y2="371.00" stroke="#111" stroke-width="1.2"/>
<line x1="129.20" y1="366.00" x2="129.20" y2="371.00" stroke="#111" stroke-width="1.2"/>
<circle cx="101.2" cy="364.6" r="0.95" fill="#222"/>
<circle cx="104.4" cy="364.6" r="0.95" fill="#222"/>
<circle cx="107.6" cy="364.6" r="0.95" fill="#222"/>
<circle cx="110.8" cy="364.6" r="0.95" fill="#222"/>
<circle cx="143.7" cy="364.4" r="1.55" fill="#fff" stroke="#8a0a30" stroke-width="1.1"/>
<circle cx="143.7" cy="388.6" r="1.8" fill="#7a0a28"/>
<text x="150.90" y="367.30" font-size="8" text-anchor="start" font-weight="normal" fill="#222" >CD40L/IL4</text>
<text x="150.90" y="376.80" font-size="7.7" text-anchor="start" font-weight="normal" fill="#222" >activation</text>
<text x="150.00" y="392.20" font-size="7.6" text-anchor="start" font-weight="normal" fill="#222" >No activation</text>
<line x1="250.20" y1="349.00" x2="250.20" y2="441.10" stroke="#111" stroke-width="1.5"/>
<line x1="246.00" y1="440.40" x2="384.20" y2="440.40" stroke="#111" stroke-width="1.5"/>
<line x1="247.20" y1="411.10" x2="250.20" y2="411.10" stroke="#111" stroke-width="1.2"/>
<text x="243.40" y="414.00" font-size="8.6" text-anchor="end" font-weight="normal" fill="#3a3a3a" >2</text>
<line x1="247.20" y1="381.80" x2="250.20" y2="381.80" stroke="#111" stroke-width="1.2"/>
<text x="243.40" y="384.70" font-size="8.6" text-anchor="end" font-weight="normal" fill="#3a3a3a" >4</text>
<line x1="247.20" y1="352.50" x2="250.20" y2="352.50" stroke="#111" stroke-width="1.2"/>
<text x="243.40" y="355.40" font-size="8.6" text-anchor="end" font-weight="normal" fill="#3a3a3a" >6</text>
<g transform="translate(221.60,394.20) rotate(-90) scale(0.790,1)"><text x="0" y="0" font-size="8.5" text-anchor="middle" font-weight="normal" fill="#222" stroke="#222" stroke-width="0.25">Median normalised</text></g>
<g transform="translate(232.90,394.60) rotate(-90) scale(0.820,1)"><text x="0" y="0" font-size="8.5" text-anchor="middle" font-weight="normal" fill="#222" stroke="#222" stroke-width="0.25">olive tail moment</text></g>
<circle cx="256.80" cy="436.00" r="0.95" fill="#760a24" stroke="#d0143f" stroke-opacity="0.65" stroke-width="0.6"/>
<circle cx="259.10" cy="435.54" r="0.95" fill="#760a24" stroke="#d0143f" stroke-opacity="0.65" stroke-width="0.6"/>
<circle cx="256.80" cy="433.89" r="0.95" fill="#760a24" stroke="#d0143f" stroke-opacity="0.65" stroke-width="0.6"/>
<circle cx="254.50" cy="433.67" r="0.95" fill="#760a24" stroke="#d0143f" stroke-opacity="0.65" stroke-width="0.6"/>
<circle cx="259.10" cy="433.41" r="0.95" fill="#760a24" stroke="#d0143f" stroke-opacity="0.65" stroke-width="0.6"/>
<circle cx="256.96" cy="432.90" r="0.95" fill="#760a24" stroke="#d0143f" stroke-opacity="0.65" stroke-width="0.6"/>
<circle cx="258.58" cy="432.55" r="0.95" fill="#760a24" stroke="#d0143f" stroke-opacity="0.65" stroke-width="0.6"/>
<circle cx="253.43" cy="432.12" r="0.95" fill="#760a24" stroke="#d0143f" stroke-opacity="0.65" stroke-width="0.6"/>
<circle cx="254.05" cy="432.06" r="0.95" fill="#760a24" stroke="#d0143f" stroke-opacity="0.65" stroke-width="0.6"/>
<circle cx="259.98" cy="431.93" r="0.95" fill="#760a24" stroke="#d0143f" stroke-opacity="0.65" stroke-width="0.6"/>
<circle cx="259.91" cy="431.47" r="0.95" fill="#760a24" stroke="#d0143f" stroke-opacity="0.65" stroke-width="0.6"/>
<circle cx="256.80" cy="430.33" r="0.95" fill="#760a24" stroke="#d0143f" stroke-opacity="0.65" stroke-width="0.6"/>
<circle cx="259.10" cy="429.22" r="0.95" fill="#760a24" stroke="#d0143f" stroke-opacity="0.65" stroke-width="0.6"/>
<circle cx="254.50" cy="428.85" r="0.95" fill="#760a24" stroke="#d0143f" stroke-opacity="0.65" stroke-width="0.6"/>
<circle cx="259.78" cy="428.80" r="0.95" fill="#760a24" stroke="#d0143f" stroke-opacity="0.65" stroke-width="0.6"/>
<circle cx="256.79" cy="428.61" r="0.95" fill="#760a24" stroke="#d0143f" stroke-opacity="0.65" stroke-width="0.6"/>
<circle cx="259.78" cy="428.49" r="0.95" fill="#760a24" stroke="#d0143f" stroke-opacity="0.65" stroke-width="0.6"/>
<circle cx="256.73" cy="428.31" r="0.95" fill="#760a24" stroke="#d0143f" stroke-opacity="0.65" stroke-width="0.6"/>
<circle cx="257.67" cy="428.02" r="0.95" fill="#760a24" stroke="#d0143f" stroke-opacity="0.65" stroke-width="0.6"/>
<circle cx="254.05" cy="427.40" r="0.95" fill="#760a24" stroke="#d0143f" stroke-opacity="0.65" stroke-width="0.6"/>
<circle cx="259.46" cy="427.34" r="0.95" fill="#760a24" stroke="#d0143f" stroke-opacity="0.65" stroke-width="0.6"/>
<circle cx="256.27" cy="427.11" r="0.95" fill="#760a24" stroke="#d0143f" stroke-opacity="0.65" stroke-width="0.6"/>
<circle cx="257.95" cy="425.59" r="0.95" fill="#760a24" stroke="#d0143f" stroke-opacity="0.65" stroke-width="0.6"/>
<circle cx="254.50" cy="425.48" r="0.95" fill="#760a24" stroke="#d0143f" stroke-opacity="0.65" stroke-width="0.6"/>
<circle cx="255.46" cy="425.23" r="0.95" fill="#760a24" stroke="#d0143f" stroke-opacity="0.65" stroke-width="0.6"/>
<circle cx="259.53" cy="425.01" r="0.95" fill="#760a24" stroke="#d0143f" stroke-opacity="0.65" stroke-width="0.6"/>
<circle cx="255.98" cy="424.87" r="0.95" fill="#760a24" stroke="#d0143f" stroke-opacity="0.65" stroke-width="0.6"/>
<circle cx="259.82" cy="424.81" r="0.95" fill="#760a24" stroke="#d0143f" stroke-opacity="0.65" stroke-width="0.6"/>
<circle cx="257.01" cy="424.73" r="0.95" fill="#760a24" stroke="#d0143f" stroke-opacity="0.65" stroke-width="0.6"/>
<circle cx="255.77" cy="424.72" r="0.95" fill="#760a24" stroke="#d0143f" stroke-opacity="0.65" stroke-width="0.6"/>
<circle cx="256.95" cy="424.38" r="0.95" fill="#760a24" stroke="#d0143f" stroke-opacity="0.65" stroke-width="0.6"/>
<circle cx="257.90" cy="424.28" r="0.95" fill="#760a24" stroke="#d0143f" stroke-opacity="0.65" stroke-width="0.6"/>
<circle cx="254.55" cy="423.87" r="0.95" fill="#760a24" stroke="#d0143f" stroke-opacity="0.65" stroke-width="0.6"/>
<circle cx="258.09" cy="423.58" r="0.95" fill="#760a24" stroke="#d0143f" stroke-opacity="0.65" stroke-width="0.6"/>
<circle cx="257.34" cy="423.40" r="0.95" fill="#760a24" stroke="#d0143f" stroke-opacity="0.65" stroke-width="0.6"/>
<circle cx="255.67" cy="423.03" r="0.95" fill="#760a24" stroke="#d0143f" stroke-opacity="0.65" stroke-width="0.6"/>
<circle cx="256.85" cy="423.00" r="0.95" fill="#760a24" stroke="#d0143f" stroke-opacity="0.65" stroke-width="0.6"/>
<circle cx="255.45" cy="422.42" r="0.95" fill="#760a24" stroke="#d0143f" stroke-opacity="0.65" stroke-width="0.6"/>
<circle cx="258.32" cy="422.32" r="0.95" fill="#760a24" stroke="#d0143f" stroke-opacity="0.65" stroke-width="0.6"/>
<circle cx="258.32" cy="421.83" r="0.95" fill="#760a24" stroke="#d0143f" stroke-opacity="0.65" stroke-width="0.6"/>
<circle cx="254.49" cy="421.60" r="0.95" fill="#760a24" stroke="#d0143f" stroke-opacity="0.65" stroke-width="0.6"/>
<circle cx="259.90" cy="421.52" r="0.95" fill="#760a24" stroke="#d0143f" stroke-opacity="0.65" stroke-width="0.6"/>
<circle cx="260.03" cy="421.18" r="0.95" fill="#760a24" stroke="#d0143f" stroke-opacity="0.65" stroke-width="0.6"/>
<circle cx="254.52" cy="420.87" r="0.95" fill="#760a24" stroke="#d0143f" stroke-opacity="0.65" stroke-width="0.6"/>
<circle cx="256.80" cy="420.56" r="0.95" fill="#760a24" stroke="#d0143f" stroke-opacity="0.65" stroke-width="0.6"/>
<circle cx="256.01" cy="420.35" r="0.95" fill="#760a24" stroke="#d0143f" stroke-opacity="0.65" stroke-width="0.6"/>
<circle cx="258.81" cy="419.83" r="0.95" fill="#760a24" stroke="#d0143f" stroke-opacity="0.65" stroke-width="0.6"/>
<circle cx="256.36" cy="419.48" r="0.95" fill="#760a24" stroke="#d0143f" stroke-opacity="0.65" stroke-width="0.6"/>
<circle cx="254.50" cy="418.59" r="0.95" fill="#760a24" stroke="#d0143f" stroke-opacity="0.65" stroke-width="0.6"/>
<circle cx="257.74" cy="418.42" r="0.95" fill="#760a24" stroke="#d0143f" stroke-opacity="0.65" stroke-width="0.6"/>
<circle cx="255.31" cy="417.79" r="0.95" fill="#760a24" stroke="#d0143f" stroke-opacity="0.65" stroke-width="0.6"/>
<circle cx="256.80" cy="416.51" r="0.95" fill="#760a24" stroke="#d0143f" stroke-opacity="0.65" stroke-width="0.6"/>
<circle cx="259.10" cy="416.31" r="0.95" fill="#760a24" stroke="#d0143f" stroke-opacity="0.65" stroke-width="0.6"/>
<circle cx="256.80" cy="412.56" r="0.95" fill="#760a24" stroke="#d0143f" stroke-opacity="0.65" stroke-width="0.6"/>
<line x1="252.60" y1="425.75" x2="261.00" y2="425.75" stroke="#111" stroke-width="1.4"/>
<line x1="256.80" y1="430.14" x2="256.80" y2="420.62" stroke="#111" stroke-width="0.9"/>
<line x1="253.60" y1="430.14" x2="260.00" y2="430.14" stroke="#111" stroke-width="1.0"/>
<line x1="253.60" y1="420.62" x2="260.00" y2="420.62" stroke="#111" stroke-width="1.0"/>
<line x1="256.80" y1="440.40" x2="256.80" y2="443.40" stroke="#111" stroke-width="1.1"/>
<text x="256.80" y="454.00" font-size="7.5" text-anchor="middle" font-weight="normal" fill="#333" >-</text>
<circle cx="270.20" cy="438.31" r="0.95" fill="#760a24" stroke="#d0143f" stroke-opacity="0.65" stroke-width="0.6"/>
<circle cx="272.50" cy="437.70" r="0.95" fill="#760a24" stroke="#d0143f" stroke-opacity="0.65" stroke-width="0.6"/>
<circle cx="270.20" cy="435.87" r="0.95" fill="#760a24" stroke="#d0143f" stroke-opacity="0.65" stroke-width="0.6"/>
<circle cx="272.50" cy="435.73" r="0.95" fill="#760a24" stroke="#d0143f" stroke-opacity="0.65" stroke-width="0.6"/>
<circle cx="267.90" cy="435.44" r="0.95" fill="#760a24" stroke="#d0143f" stroke-opacity="0.65" stroke-width="0.6"/>
<circle cx="269.59" cy="434.45" r="0.95" fill="#760a24" stroke="#d0143f" stroke-opacity="0.65" stroke-width="0.6"/>
<circle cx="268.23" cy="434.43" r="0.95" fill="#760a24" stroke="#d0143f" stroke-opacity="0.65" stroke-width="0.6"/>
<circle cx="269.47" cy="433.92" r="0.95" fill="#760a24" stroke="#d0143f" stroke-opacity="0.65" stroke-width="0.6"/>
<circle cx="272.50" cy="433.70" r="0.95" fill="#760a24" stroke="#d0143f" stroke-opacity="0.65" stroke-width="0.6"/>
<circle cx="271.14" cy="433.06" r="0.95" fill="#760a24" stroke="#d0143f" stroke-opacity="0.65" stroke-width="0.6"/>
<circle cx="268.67" cy="432.72" r="0.95" fill="#760a24" stroke="#d0143f" stroke-opacity="0.65" stroke-width="0.6"/>
<circle cx="272.50" cy="431.63" r="0.95" fill="#760a24" stroke="#d0143f" stroke-opacity="0.65" stroke-width="0.6"/>
<circle cx="266.89" cy="431.57" r="0.95" fill="#760a24" stroke="#d0143f" stroke-opacity="0.65" stroke-width="0.6"/>
<circle cx="270.20" cy="431.30" r="0.95" fill="#760a24" stroke="#d0143f" stroke-opacity="0.65" stroke-width="0.6"/>
<circle cx="271.07" cy="431.27" r="0.95" fill="#760a24" stroke="#d0143f" stroke-opacity="0.65" stroke-width="0.6"/>
<circle cx="270.75" cy="431.14" r="0.95" fill="#760a24" stroke="#d0143f" stroke-opacity="0.65" stroke-width="0.6"/>
<circle cx="268.33" cy="430.86" r="0.95" fill="#760a24" stroke="#d0143f" stroke-opacity="0.65" stroke-width="0.6"/>
<circle cx="273.19" cy="430.01" r="0.95" fill="#760a24" stroke="#d0143f" stroke-opacity="0.65" stroke-width="0.6"/>
<circle cx="273.56" cy="429.80" r="0.95" fill="#760a24" stroke="#d0143f" stroke-opacity="0.65" stroke-width="0.6"/>
<circle cx="270.20" cy="428.98" r="0.95" fill="#760a24" stroke="#d0143f" stroke-opacity="0.65" stroke-width="0.6"/>
<circle cx="267.90" cy="428.81" r="0.95" fill="#760a24" stroke="#d0143f" stroke-opacity="0.65" stroke-width="0.6"/>
<circle cx="267.92" cy="428.64" r="0.95" fill="#760a24" stroke="#d0143f" stroke-opacity="0.65" stroke-width="0.6"/>
<circle cx="272.31" cy="428.49" r="0.95" fill="#760a24" stroke="#d0143f" stroke-opacity="0.65" stroke-width="0.6"/>
<circle cx="269.99" cy="428.46" r="0.95" fill="#760a24" stroke="#d0143f" stroke-opacity="0.65" stroke-width="0.6"/>
<circle cx="272.34" cy="428.30" r="0.95" fill="#760a24" stroke="#d0143f" stroke-opacity="0.65" stroke-width="0.6"/>
<circle cx="269.20" cy="427.99" r="0.95" fill="#760a24" stroke="#d0143f" stroke-opacity="0.65" stroke-width="0.6"/>
<circle cx="269.98" cy="427.70" r="0.95" fill="#760a24" stroke="#d0143f" stroke-opacity="0.65" stroke-width="0.6"/>
<circle cx="271.97" cy="427.46" r="0.95" fill="#760a24" stroke="#d0143f" stroke-opacity="0.65" stroke-width="0.6"/>
<circle cx="272.10" cy="427.40" r="0.95" fill="#760a24" stroke="#d0143f" stroke-opacity="0.65" stroke-width="0.6"/>
<circle cx="269.21" cy="427.29" r="0.95" fill="#760a24" stroke="#d0143f" stroke-opacity="0.65" stroke-width="0.6"/>
<circle cx="268.62" cy="427.15" r="0.95" fill="#760a24" stroke="#d0143f" stroke-opacity="0.65" stroke-width="0.6"/>
<circle cx="271.47" cy="426.85" r="0.95" fill="#760a24" stroke="#d0143f" stroke-opacity="0.65" stroke-width="0.6"/>
<circle cx="271.42" cy="426.70" r="0.95" fill="#760a24" stroke="#d0143f" stroke-opacity="0.65" stroke-width="0.6"/>
<circle cx="266.82" cy="426.54" r="0.95" fill="#760a24" stroke="#d0143f" stroke-opacity="0.65" stroke-width="0.6"/>
<circle cx="269.23" cy="426.32" r="0.95" fill="#760a24" stroke="#d0143f" stroke-opacity="0.65" stroke-width="0.6"/>
<circle cx="268.98" cy="426.31" r="0.95" fill="#760a24" stroke="#d0143f" stroke-opacity="0.65" stroke-width="0.6"/>
<circle cx="269.71" cy="425.55" r="0.95" fill="#760a24" stroke="#d0143f" stroke-opacity="0.65" stroke-width="0.6"/>
<circle cx="271.28" cy="425.53" r="0.95" fill="#760a24" stroke="#d0143f" stroke-opacity="0.65" stroke-width="0.6"/>
<circle cx="267.84" cy="424.89" r="0.95" fill="#760a24" stroke="#d0143f" stroke-opacity="0.65" stroke-width="0.6"/>
<circle cx="272.61" cy="424.68" r="0.95" fill="#760a24" stroke="#d0143f" stroke-opacity="0.65" stroke-width="0.6"/>
<circle cx="267.38" cy="424.50" r="0.95" fill="#760a24" stroke="#d0143f" stroke-opacity="0.65" stroke-width="0.6"/>
<circle cx="272.13" cy="424.03" r="0.95" fill="#760a24" stroke="#d0143f" stroke-opacity="0.65" stroke-width="0.6"/>
<circle cx="270.20" cy="423.68" r="0.95" fill="#760a24" stroke="#d0143f" stroke-opacity="0.65" stroke-width="0.6"/>
<circle cx="271.11" cy="422.77" r="0.95" fill="#760a24" stroke="#d0143f" stroke-opacity="0.65" stroke-width="0.6"/>
<circle cx="267.90" cy="422.67" r="0.95" fill="#760a24" stroke="#d0143f" stroke-opacity="0.65" stroke-width="0.6"/>
<circle cx="268.23" cy="422.43" r="0.95" fill="#760a24" stroke="#d0143f" stroke-opacity="0.65" stroke-width="0.6"/>
<circle cx="272.50" cy="421.37" r="0.95" fill="#760a24" stroke="#d0143f" stroke-opacity="0.65" stroke-width="0.6"/>
<circle cx="270.20" cy="420.36" r="0.95" fill="#760a24" stroke="#d0143f" stroke-opacity="0.65" stroke-width="0.6"/>
<circle cx="267.90" cy="419.97" r="0.95" fill="#760a24" stroke="#d0143f" stroke-opacity="0.65" stroke-width="0.6"/>
<circle cx="270.20" cy="417.92" r="0.95" fill="#760a24" stroke="#d0143f" stroke-opacity="0.65" stroke-width="0.6"/>
<circle cx="272.50" cy="417.91" r="0.95" fill="#760a24" stroke="#d0143f" stroke-opacity="0.65" stroke-width="0.6"/>
<circle cx="267.90" cy="417.88" r="0.95" fill="#760a24" stroke="#d0143f" stroke-opacity="0.65" stroke-width="0.6"/>
<circle cx="270.20" cy="415.50" r="0.95" fill="#760a24" stroke="#d0143f" stroke-opacity="0.65" stroke-width="0.6"/>
<circle cx="272.50" cy="414.03" r="0.95" fill="#760a24" stroke="#d0143f" stroke-opacity="0.65" stroke-width="0.6"/>
<line x1="266.00" y1="427.95" x2="274.40" y2="427.95" stroke="#111" stroke-width="1.4"/>
<line x1="270.20" y1="431.61" x2="270.20" y2="423.55" stroke="#111" stroke-width="0.9"/>
<line x1="267.00" y1="431.61" x2="273.40" y2="431.61" stroke="#111" stroke-width="1.0"/>
<line x1="267.00" y1="423.55" x2="273.40" y2="423.55" stroke="#111" stroke-width="1.0"/>
<line x1="270.20" y1="440.40" x2="270.20" y2="443.40" stroke="#111" stroke-width="1.1"/>
<text x="270.20" y="454.80" font-size="8.5" text-anchor="middle" font-weight="normal" fill="#333" >+</text>
<circle cx="283.70" cy="440.40" r="0.95" fill="#760a24" stroke="#d0143f" stroke-opacity="0.65" stroke-width="0.6"/>
<circle cx="286.00" cy="440.40" r="0.95" fill="#760a24" stroke="#d0143f" stroke-opacity="0.65" stroke-width="0.6"/>
<circle cx="281.40" cy="439.67" r="0.95" fill="#760a24" stroke="#d0143f" stroke-opacity="0.65" stroke-width="0.6"/>
<circle cx="282.55" cy="439.59" r="0.95" fill="#760a24" stroke="#d0143f" stroke-opacity="0.65" stroke-width="0.6"/>
<circle cx="285.15" cy="438.94" r="0.95" fill="#760a24" stroke="#d0143f" stroke-opacity="0.65" stroke-width="0.6"/>
<circle cx="284.29" cy="438.63" r="0.95" fill="#760a24" stroke="#d0143f" stroke-opacity="0.65" stroke-width="0.6"/>
<circle cx="285.63" cy="438.37" r="0.95" fill="#760a24" stroke="#d0143f" stroke-opacity="0.65" stroke-width="0.6"/>
<circle cx="283.01" cy="438.09" r="0.95" fill="#760a24" stroke="#d0143f" stroke-opacity="0.65" stroke-width="0.6"/>
<circle cx="284.01" cy="437.81" r="0.95" fill="#760a24" stroke="#d0143f" stroke-opacity="0.65" stroke-width="0.6"/>
<circle cx="283.01" cy="437.60" r="0.95" fill="#760a24" stroke="#d0143f" stroke-opacity="0.65" stroke-width="0.6"/>
<circle cx="280.34" cy="437.30" r="0.95" fill="#760a24" stroke="#d0143f" stroke-opacity="0.65" stroke-width="0.6"/>
<circle cx="285.89" cy="437.16" r="0.95" fill="#760a24" stroke="#d0143f" stroke-opacity="0.65" stroke-width="0.6"/>
<circle cx="284.44" cy="436.78" r="0.95" fill="#760a24" stroke="#d0143f" stroke-opacity="0.65" stroke-width="0.6"/>
<circle cx="285.67" cy="436.43" r="0.95" fill="#760a24" stroke="#d0143f" stroke-opacity="0.65" stroke-width="0.6"/>
<circle cx="284.49" cy="436.21" r="0.95" fill="#760a24" stroke="#d0143f" stroke-opacity="0.65" stroke-width="0.6"/>
<circle cx="281.75" cy="435.93" r="0.95" fill="#760a24" stroke="#d0143f" stroke-opacity="0.65" stroke-width="0.6"/>
<circle cx="284.55" cy="435.62" r="0.95" fill="#760a24" stroke="#d0143f" stroke-opacity="0.65" stroke-width="0.6"/>
<circle cx="280.99" cy="434.50" r="0.95" fill="#760a24" stroke="#d0143f" stroke-opacity="0.65" stroke-width="0.6"/>
<circle cx="286.00" cy="434.06" r="0.95" fill="#760a24" stroke="#d0143f" stroke-opacity="0.65" stroke-width="0.6"/>
<circle cx="283.70" cy="433.85" r="0.95" fill="#760a24" stroke="#d0143f" stroke-opacity="0.65" stroke-width="0.6"/>
<circle cx="285.57" cy="433.85" r="0.95" fill="#760a24" stroke="#d0143f" stroke-opacity="0.65" stroke-width="0.6"/>
<circle cx="282.81" cy="433.84" r="0.95" fill="#760a24" stroke="#d0143f" stroke-opacity="0.65" stroke-width="0.6"/>
<circle cx="283.70" cy="431.76" r="0.95" fill="#760a24" stroke="#d0143f" stroke-opacity="0.65" stroke-width="0.6"/>
<circle cx="286.00" cy="431.14" r="0.95" fill="#760a24" stroke="#d0143f" stroke-opacity="0.65" stroke-width="0.6"/>
<circle cx="283.70" cy="429.56" r="0.95" fill="#760a24" stroke="#d0143f" stroke-opacity="0.65" stroke-width="0.6"/>
<circle cx="281.40" cy="429.35" r="0.95" fill="#760a24" stroke="#d0143f" stroke-opacity="0.65" stroke-width="0.6"/>
<circle cx="286.00" cy="429.23" r="0.95" fill="#760a24" stroke="#d0143f" stroke-opacity="0.65" stroke-width="0.6"/>
<circle cx="280.53" cy="428.81" r="0.95" fill="#760a24" stroke="#d0143f" stroke-opacity="0.65" stroke-width="0.6"/>
<circle cx="283.23" cy="428.76" r="0.95" fill="#760a24" stroke="#d0143f" stroke-opacity="0.65" stroke-width="0.6"/>
<circle cx="283.68" cy="428.67" r="0.95" fill="#760a24" stroke="#d0143f" stroke-opacity="0.65" stroke-width="0.6"/>
<circle cx="285.91" cy="427.48" r="0.95" fill="#760a24" stroke="#d0143f" stroke-opacity="0.65" stroke-width="0.6"/>
<circle cx="282.55" cy="426.82" r="0.95" fill="#760a24" stroke="#d0143f" stroke-opacity="0.65" stroke-width="0.6"/>
<circle cx="283.34" cy="426.59" r="0.95" fill="#760a24" stroke="#d0143f" stroke-opacity="0.65" stroke-width="0.6"/>
<circle cx="284.92" cy="425.58" r="0.95" fill="#760a24" stroke="#d0143f" stroke-opacity="0.65" stroke-width="0.6"/>
<circle cx="281.40" cy="425.15" r="0.95" fill="#760a24" stroke="#d0143f" stroke-opacity="0.65" stroke-width="0.6"/>
<circle cx="285.54" cy="425.05" r="0.95" fill="#760a24" stroke="#d0143f" stroke-opacity="0.65" stroke-width="0.6"/>
<circle cx="280.86" cy="424.88" r="0.95" fill="#760a24" stroke="#d0143f" stroke-opacity="0.65" stroke-width="0.6"/>
<circle cx="281.74" cy="424.49" r="0.95" fill="#760a24" stroke="#d0143f" stroke-opacity="0.65" stroke-width="0.6"/>
<circle cx="283.70" cy="423.44" r="0.95" fill="#760a24" stroke="#d0143f" stroke-opacity="0.65" stroke-width="0.6"/>
<circle cx="286.00" cy="423.06" r="0.95" fill="#760a24" stroke="#d0143f" stroke-opacity="0.65" stroke-width="0.6"/>
<circle cx="280.33" cy="422.92" r="0.95" fill="#760a24" stroke="#d0143f" stroke-opacity="0.65" stroke-width="0.6"/>
<circle cx="287.01" cy="422.88" r="0.95" fill="#760a24" stroke="#d0143f" stroke-opacity="0.65" stroke-width="0.6"/>
<circle cx="283.70" cy="421.53" r="0.95" fill="#760a24" stroke="#d0143f" stroke-opacity="0.65" stroke-width="0.6"/>
<circle cx="286.21" cy="421.51" r="0.95" fill="#760a24" stroke="#d0143f" stroke-opacity="0.65" stroke-width="0.6"/>
<circle cx="281.40" cy="420.78" r="0.95" fill="#760a24" stroke="#d0143f" stroke-opacity="0.65" stroke-width="0.6"/>
<circle cx="280.42" cy="420.55" r="0.95" fill="#760a24" stroke="#d0143f" stroke-opacity="0.65" stroke-width="0.6"/>
<circle cx="283.37" cy="420.51" r="0.95" fill="#760a24" stroke="#d0143f" stroke-opacity="0.65" stroke-width="0.6"/>
<circle cx="286.58" cy="420.27" r="0.95" fill="#760a24" stroke="#d0143f" stroke-opacity="0.65" stroke-width="0.6"/>
<circle cx="285.56" cy="419.76" r="0.95" fill="#760a24" stroke="#d0143f" stroke-opacity="0.65" stroke-width="0.6"/>
<circle cx="285.26" cy="419.21" r="0.95" fill="#760a24" stroke="#d0143f" stroke-opacity="0.65" stroke-width="0.6"/>
<circle cx="283.70" cy="417.65" r="0.95" fill="#760a24" stroke="#d0143f" stroke-opacity="0.65" stroke-width="0.6"/>
<circle cx="286.00" cy="417.19" r="0.95" fill="#760a24" stroke="#d0143f" stroke-opacity="0.65" stroke-width="0.6"/>
<circle cx="281.40" cy="416.46" r="0.95" fill="#760a24" stroke="#d0143f" stroke-opacity="0.65" stroke-width="0.6"/>
<circle cx="283.70" cy="414.36" r="0.95" fill="#760a24" stroke="#d0143f" stroke-opacity="0.65" stroke-width="0.6"/>
<circle cx="286.00" cy="414.34" r="0.95" fill="#760a24" stroke="#d0143f" stroke-opacity="0.65" stroke-width="0.6"/>
<circle cx="283.70" cy="410.92" r="0.95" fill="#760a24" stroke="#d0143f" stroke-opacity="0.65" stroke-width="0.6"/>
<circle cx="286.00" cy="409.78" r="0.95" fill="#760a24" stroke="#d0143f" stroke-opacity="0.65" stroke-width="0.6"/>
<circle cx="281.40" cy="409.72" r="0.95" fill="#760a24" stroke="#d0143f" stroke-opacity="0.65" stroke-width="0.6"/>
<circle cx="283.70" cy="408.38" r="0.95" fill="#760a24" stroke="#d0143f" stroke-opacity="0.65" stroke-width="0.6"/>
<circle cx="286.00" cy="407.20" r="0.95" fill="#760a24" stroke="#d0143f" stroke-opacity="0.65" stroke-width="0.6"/>
<circle cx="283.70" cy="405.62" r="0.95" fill="#760a24" stroke="#d0143f" stroke-opacity="0.65" stroke-width="0.6"/>
<circle cx="286.00" cy="404.71" r="0.95" fill="#760a24" stroke="#d0143f" stroke-opacity="0.65" stroke-width="0.6"/>
<circle cx="283.70" cy="399.38" r="0.95" fill="#760a24" stroke="#d0143f" stroke-opacity="0.65" stroke-width="0.6"/>
<circle cx="286.00" cy="397.91" r="0.95" fill="#760a24" stroke="#d0143f" stroke-opacity="0.65" stroke-width="0.6"/>
<circle cx="283.70" cy="396.45" r="0.95" fill="#760a24" stroke="#d0143f" stroke-opacity="0.65" stroke-width="0.6"/>
<circle cx="283.70" cy="390.59" r="0.95" fill="#760a24" stroke="#d0143f" stroke-opacity="0.65" stroke-width="0.6"/>
<circle cx="286.00" cy="389.12" r="0.95" fill="#760a24" stroke="#d0143f" stroke-opacity="0.65" stroke-width="0.6"/>
<circle cx="283.70" cy="383.26" r="0.95" fill="#760a24" stroke="#d0143f" stroke-opacity="0.65" stroke-width="0.6"/>
<circle cx="283.70" cy="361.29" r="0.95" fill="#760a24" stroke="#d0143f" stroke-opacity="0.65" stroke-width="0.6"/>
<line x1="279.50" y1="425.75" x2="287.90" y2="425.75" stroke="#111" stroke-width="1.4"/>
<line x1="283.70" y1="436.00" x2="283.70" y2="409.63" stroke="#111" stroke-width="0.9"/>
<line x1="280.50" y1="436.00" x2="286.90" y2="436.00" stroke="#111" stroke-width="1.0"/>
<line x1="280.50" y1="409.63" x2="286.90" y2="409.63" stroke="#111" stroke-width="1.0"/>
<line x1="283.70" y1="440.40" x2="283.70" y2="443.40" stroke="#111" stroke-width="1.1"/>
<text x="283.70" y="454.00" font-size="7.5" text-anchor="middle" font-weight="normal" fill="#333" >-</text>
<circle cx="297.00" cy="440.40" r="0.95" fill="#760a24" stroke="#d0143f" stroke-opacity="0.65" stroke-width="0.6"/>
<circle cx="299.30" cy="439.67" r="0.95" fill="#760a24" stroke="#d0143f" stroke-opacity="0.65" stroke-width="0.6"/>
<circle cx="294.70" cy="439.42" r="0.95" fill="#760a24" stroke="#d0143f" stroke-opacity="0.65" stroke-width="0.6"/>
<circle cx="298.85" cy="438.94" r="0.95" fill="#760a24" stroke="#d0143f" stroke-opacity="0.65" stroke-width="0.6"/>
<circle cx="296.31" cy="438.80" r="0.95" fill="#760a24" stroke="#d0143f" stroke-opacity="0.65" stroke-width="0.6"/>
<circle cx="299.62" cy="438.69" r="0.95" fill="#760a24" stroke="#d0143f" stroke-opacity="0.65" stroke-width="0.6"/>
<circle cx="296.84" cy="438.41" r="0.95" fill="#760a24" stroke="#d0143f" stroke-opacity="0.65" stroke-width="0.6"/>
<circle cx="294.89" cy="438.27" r="0.95" fill="#760a24" stroke="#d0143f" stroke-opacity="0.65" stroke-width="0.6"/>
<circle cx="294.23" cy="438.18" r="0.95" fill="#760a24" stroke="#d0143f" stroke-opacity="0.65" stroke-width="0.6"/>
<circle cx="296.07" cy="437.51" r="0.95" fill="#760a24" stroke="#d0143f" stroke-opacity="0.65" stroke-width="0.6"/>
<circle cx="296.34" cy="437.49" r="0.95" fill="#760a24" stroke="#d0143f" stroke-opacity="0.65" stroke-width="0.6"/>
<circle cx="295.27" cy="437.18" r="0.95" fill="#760a24" stroke="#d0143f" stroke-opacity="0.65" stroke-width="0.6"/>
<circle cx="298.15" cy="436.79" r="0.95" fill="#760a24" stroke="#d0143f" stroke-opacity="0.65" stroke-width="0.6"/>
<circle cx="299.49" cy="436.51" r="0.95" fill="#760a24" stroke="#d0143f" stroke-opacity="0.65" stroke-width="0.6"/>
<circle cx="297.00" cy="434.24" r="0.95" fill="#760a24" stroke="#d0143f" stroke-opacity="0.65" stroke-width="0.6"/>
<circle cx="299.30" cy="434.11" r="0.95" fill="#760a24" stroke="#d0143f" stroke-opacity="0.65" stroke-width="0.6"/>
<circle cx="294.70" cy="432.86" r="0.95" fill="#760a24" stroke="#d0143f" stroke-opacity="0.65" stroke-width="0.6"/>
<circle cx="295.75" cy="432.84" r="0.95" fill="#760a24" stroke="#d0143f" stroke-opacity="0.65" stroke-width="0.6"/>
<circle cx="298.15" cy="432.08" r="0.95" fill="#760a24" stroke="#d0143f" stroke-opacity="0.65" stroke-width="0.6"/>
<circle cx="295.51" cy="431.10" r="0.95" fill="#760a24" stroke="#d0143f" stroke-opacity="0.65" stroke-width="0.6"/>
<circle cx="299.30" cy="430.48" r="0.95" fill="#760a24" stroke="#d0143f" stroke-opacity="0.65" stroke-width="0.6"/>
<circle cx="297.00" cy="429.77" r="0.95" fill="#760a24" stroke="#d0143f" stroke-opacity="0.65" stroke-width="0.6"/>
<circle cx="294.99" cy="429.41" r="0.95" fill="#760a24" stroke="#d0143f" stroke-opacity="0.65" stroke-width="0.6"/>
<circle cx="297.59" cy="428.84" r="0.95" fill="#760a24" stroke="#d0143f" stroke-opacity="0.65" stroke-width="0.6"/>
<circle cx="295.38" cy="428.47" r="0.95" fill="#760a24" stroke="#d0143f" stroke-opacity="0.65" stroke-width="0.6"/>
<circle cx="296.50" cy="428.33" r="0.95" fill="#760a24" stroke="#d0143f" stroke-opacity="0.65" stroke-width="0.6"/>
<circle cx="298.82" cy="428.27" r="0.95" fill="#760a24" stroke="#d0143f" stroke-opacity="0.65" stroke-width="0.6"/>
<circle cx="295.33" cy="428.21" r="0.95" fill="#760a24" stroke="#d0143f" stroke-opacity="0.65" stroke-width="0.6"/>
<circle cx="295.90" cy="428.13" r="0.95" fill="#760a24" stroke="#d0143f" stroke-opacity="0.65" stroke-width="0.6"/>
<circle cx="296.17" cy="427.39" r="0.95" fill="#760a24" stroke="#d0143f" stroke-opacity="0.65" stroke-width="0.6"/>
<circle cx="293.95" cy="426.68" r="0.95" fill="#760a24" stroke="#d0143f" stroke-opacity="0.65" stroke-width="0.6"/>
<circle cx="298.15" cy="426.32" r="0.95" fill="#760a24" stroke="#d0143f" stroke-opacity="0.65" stroke-width="0.6"/>
<circle cx="296.91" cy="426.28" r="0.95" fill="#760a24" stroke="#d0143f" stroke-opacity="0.65" stroke-width="0.6"/>
<circle cx="299.47" cy="426.13" r="0.95" fill="#760a24" stroke="#d0143f" stroke-opacity="0.65" stroke-width="0.6"/>
<circle cx="299.87" cy="425.82" r="0.95" fill="#760a24" stroke="#d0143f" stroke-opacity="0.65" stroke-width="0.6"/>
<circle cx="295.35" cy="425.38" r="0.95" fill="#760a24" stroke="#d0143f" stroke-opacity="0.65" stroke-width="0.6"/>
<circle cx="297.96" cy="425.32" r="0.95" fill="#760a24" stroke="#d0143f" stroke-opacity="0.65" stroke-width="0.6"/>
<circle cx="299.30" cy="423.83" r="0.95" fill="#760a24" stroke="#d0143f" stroke-opacity="0.65" stroke-width="0.6"/>
<circle cx="296.65" cy="423.75" r="0.95" fill="#760a24" stroke="#d0143f" stroke-opacity="0.65" stroke-width="0.6"/>
<circle cx="296.12" cy="423.70" r="0.95" fill="#760a24" stroke="#d0143f" stroke-opacity="0.65" stroke-width="0.6"/>
<circle cx="300.34" cy="423.64" r="0.95" fill="#760a24" stroke="#d0143f" stroke-opacity="0.65" stroke-width="0.6"/>
<circle cx="294.77" cy="423.08" r="0.95" fill="#760a24" stroke="#d0143f" stroke-opacity="0.65" stroke-width="0.6"/>
<circle cx="300.00" cy="422.83" r="0.95" fill="#760a24" stroke="#d0143f" stroke-opacity="0.65" stroke-width="0.6"/>
<circle cx="299.74" cy="422.58" r="0.95" fill="#760a24" stroke="#d0143f" stroke-opacity="0.65" stroke-width="0.6"/>
<circle cx="299.29" cy="422.12" r="0.95" fill="#760a24" stroke="#d0143f" stroke-opacity="0.65" stroke-width="0.6"/>
<circle cx="297.00" cy="421.79" r="0.95" fill="#760a24" stroke="#d0143f" stroke-opacity="0.65" stroke-width="0.6"/>
<circle cx="298.95" cy="421.75" r="0.95" fill="#760a24" stroke="#d0143f" stroke-opacity="0.65" stroke-width="0.6"/>
<circle cx="293.98" cy="421.20" r="0.95" fill="#760a24" stroke="#d0143f" stroke-opacity="0.65" stroke-width="0.6"/>
<circle cx="295.76" cy="420.95" r="0.95" fill="#760a24" stroke="#d0143f" stroke-opacity="0.65" stroke-width="0.6"/>
<circle cx="299.99" cy="420.55" r="0.95" fill="#760a24" stroke="#d0143f" stroke-opacity="0.65" stroke-width="0.6"/>
<circle cx="297.61" cy="420.44" r="0.95" fill="#760a24" stroke="#d0143f" stroke-opacity="0.65" stroke-width="0.6"/>
<circle cx="298.75" cy="420.14" r="0.95" fill="#760a24" stroke="#d0143f" stroke-opacity="0.65" stroke-width="0.6"/>
<circle cx="294.70" cy="419.07" r="0.95" fill="#760a24" stroke="#d0143f" stroke-opacity="0.65" stroke-width="0.6"/>
<circle cx="297.00" cy="418.28" r="0.95" fill="#760a24" stroke="#d0143f" stroke-opacity="0.65" stroke-width="0.6"/>
<circle cx="298.15" cy="416.76" r="0.95" fill="#760a24" stroke="#d0143f" stroke-opacity="0.65" stroke-width="0.6"/>
<circle cx="295.85" cy="415.42" r="0.95" fill="#760a24" stroke="#d0143f" stroke-opacity="0.65" stroke-width="0.6"/>
<circle cx="297.00" cy="412.64" r="0.95" fill="#760a24" stroke="#d0143f" stroke-opacity="0.65" stroke-width="0.6"/>
<circle cx="299.30" cy="411.59" r="0.95" fill="#760a24" stroke="#d0143f" stroke-opacity="0.65" stroke-width="0.6"/>
<circle cx="294.70" cy="411.40" r="0.95" fill="#760a24" stroke="#d0143f" stroke-opacity="0.65" stroke-width="0.6"/>
<circle cx="297.00" cy="409.32" r="0.95" fill="#760a24" stroke="#d0143f" stroke-opacity="0.65" stroke-width="0.6"/>
<circle cx="297.00" cy="406.54" r="0.95" fill="#760a24" stroke="#d0143f" stroke-opacity="0.65" stroke-width="0.6"/>
<circle cx="297.00" cy="402.31" r="0.95" fill="#760a24" stroke="#d0143f" stroke-opacity="0.65" stroke-width="0.6"/>
<circle cx="299.30" cy="400.84" r="0.95" fill="#760a24" stroke="#d0143f" stroke-opacity="0.65" stroke-width="0.6"/>
<circle cx="297.00" cy="393.52" r="0.95" fill="#760a24" stroke="#d0143f" stroke-opacity="0.65" stroke-width="0.6"/>
<line x1="292.80" y1="427.21" x2="301.20" y2="427.21" stroke="#111" stroke-width="1.4"/>
<line x1="297.00" y1="436.00" x2="297.00" y2="415.50" stroke="#111" stroke-width="0.9"/>
<line x1="293.80" y1="436.00" x2="300.20" y2="436.00" stroke="#111" stroke-width="1.0"/>
<line x1="293.80" y1="415.50" x2="300.20" y2="415.50" stroke="#111" stroke-width="1.0"/>
<line x1="297.00" y1="440.40" x2="297.00" y2="443.40" stroke="#111" stroke-width="1.1"/>
<text x="297.00" y="454.80" font-size="8.5" text-anchor="middle" font-weight="normal" fill="#333" >+</text>
<circle cx="310.40" cy="436.11" r="0.95" fill="#760a24" stroke="#d0143f" stroke-opacity="0.65" stroke-width="0.6"/>
<circle cx="310.40" cy="433.73" r="0.95" fill="#760a24" stroke="#d0143f" stroke-opacity="0.65" stroke-width="0.6"/>
<circle cx="311.55" cy="432.09" r="0.95" fill="#760a24" stroke="#d0143f" stroke-opacity="0.65" stroke-width="0.6"/>
<circle cx="309.25" cy="431.79" r="0.95" fill="#760a24" stroke="#d0143f" stroke-opacity="0.65" stroke-width="0.6"/>
<circle cx="312.73" cy="431.20" r="0.95" fill="#760a24" stroke="#d0143f" stroke-opacity="0.65" stroke-width="0.6"/>
<circle cx="311.84" cy="430.99" r="0.95" fill="#760a24" stroke="#d0143f" stroke-opacity="0.65" stroke-width="0.6"/>
<circle cx="311.08" cy="430.35" r="0.95" fill="#760a24" stroke="#d0143f" stroke-opacity="0.65" stroke-width="0.6"/>
<circle cx="308.10" cy="430.21" r="0.95" fill="#760a24" stroke="#d0143f" stroke-opacity="0.65" stroke-width="0.6"/>
<circle cx="312.18" cy="430.13" r="0.95" fill="#760a24" stroke="#d0143f" stroke-opacity="0.65" stroke-width="0.6"/>
<circle cx="308.40" cy="429.98" r="0.95" fill="#760a24" stroke="#d0143f" stroke-opacity="0.65" stroke-width="0.6"/>
<circle cx="310.96" cy="429.92" r="0.95" fill="#760a24" stroke="#d0143f" stroke-opacity="0.65" stroke-width="0.6"/>
<circle cx="307.07" cy="429.66" r="0.95" fill="#760a24" stroke="#d0143f" stroke-opacity="0.65" stroke-width="0.6"/>
<circle cx="312.72" cy="429.06" r="0.95" fill="#760a24" stroke="#d0143f" stroke-opacity="0.65" stroke-width="0.6"/>
<circle cx="310.53" cy="428.83" r="0.95" fill="#760a24" stroke="#d0143f" stroke-opacity="0.65" stroke-width="0.6"/>
<circle cx="308.10" cy="427.80" r="0.95" fill="#760a24" stroke="#d0143f" stroke-opacity="0.65" stroke-width="0.6"/>
<circle cx="308.92" cy="427.72" r="0.95" fill="#760a24" stroke="#d0143f" stroke-opacity="0.65" stroke-width="0.6"/>
<circle cx="307.61" cy="427.48" r="0.95" fill="#760a24" stroke="#d0143f" stroke-opacity="0.65" stroke-width="0.6"/>
<circle cx="311.55" cy="427.22" r="0.95" fill="#760a24" stroke="#d0143f" stroke-opacity="0.65" stroke-width="0.6"/>
<circle cx="307.91" cy="426.82" r="0.95" fill="#760a24" stroke="#d0143f" stroke-opacity="0.65" stroke-width="0.6"/>
<circle cx="308.69" cy="426.48" r="0.95" fill="#760a24" stroke="#d0143f" stroke-opacity="0.65" stroke-width="0.6"/>
<circle cx="307.25" cy="426.44" r="0.95" fill="#760a24" stroke="#d0143f" stroke-opacity="0.65" stroke-width="0.6"/>
<circle cx="310.91" cy="426.38" r="0.95" fill="#760a24" stroke="#d0143f" stroke-opacity="0.65" stroke-width="0.6"/>
<circle cx="309.42" cy="426.29" r="0.95" fill="#760a24" stroke="#d0143f" stroke-opacity="0.65" stroke-width="0.6"/>
<circle cx="313.59" cy="426.11" r="0.95" fill="#760a24" stroke="#d0143f" stroke-opacity="0.65" stroke-width="0.6"/>
<circle cx="307.82" cy="426.11" r="0.95" fill="#760a24" stroke="#d0143f" stroke-opacity="0.65" stroke-width="0.6"/>
<circle cx="312.55" cy="425.92" r="0.95" fill="#760a24" stroke="#d0143f" stroke-opacity="0.65" stroke-width="0.6"/>
<circle cx="312.30" cy="425.89" r="0.95" fill="#760a24" stroke="#d0143f" stroke-opacity="0.65" stroke-width="0.6"/>
<circle cx="310.92" cy="425.87" r="0.95" fill="#760a24" stroke="#d0143f" stroke-opacity="0.65" stroke-width="0.6"/>
<circle cx="308.98" cy="425.55" r="0.95" fill="#760a24" stroke="#d0143f" stroke-opacity="0.65" stroke-width="0.6"/>
<circle cx="313.49" cy="425.54" r="0.95" fill="#760a24" stroke="#d0143f" stroke-opacity="0.65" stroke-width="0.6"/>
<circle cx="310.04" cy="425.50" r="0.95" fill="#760a24" stroke="#d0143f" stroke-opacity="0.65" stroke-width="0.6"/>
<circle cx="310.61" cy="425.44" r="0.95" fill="#760a24" stroke="#d0143f" stroke-opacity="0.65" stroke-width="0.6"/>
<circle cx="307.14" cy="425.16" r="0.95" fill="#760a24" stroke="#d0143f" stroke-opacity="0.65" stroke-width="0.6"/>
<circle cx="308.52" cy="424.84" r="0.95" fill="#760a24" stroke="#d0143f" stroke-opacity="0.65" stroke-width="0.6"/>
<circle cx="308.14" cy="424.37" r="0.95" fill="#760a24" stroke="#d0143f" stroke-opacity="0.65" stroke-width="0.6"/>
<circle cx="308.70" cy="424.35" r="0.95" fill="#760a24" stroke="#d0143f" stroke-opacity="0.65" stroke-width="0.6"/>
<circle cx="307.13" cy="424.11" r="0.95" fill="#760a24" stroke="#d0143f" stroke-opacity="0.65" stroke-width="0.6"/>
<circle cx="308.78" cy="424.03" r="0.95" fill="#760a24" stroke="#d0143f" stroke-opacity="0.65" stroke-width="0.6"/>
<circle cx="311.55" cy="423.60" r="0.95" fill="#760a24" stroke="#d0143f" stroke-opacity="0.65" stroke-width="0.6"/>
<circle cx="311.78" cy="423.55" r="0.95" fill="#760a24" stroke="#d0143f" stroke-opacity="0.65" stroke-width="0.6"/>
<circle cx="309.38" cy="423.47" r="0.95" fill="#760a24" stroke="#d0143f" stroke-opacity="0.65" stroke-width="0.6"/>
<circle cx="311.88" cy="423.31" r="0.95" fill="#760a24" stroke="#d0143f" stroke-opacity="0.65" stroke-width="0.6"/>
<circle cx="308.86" cy="423.28" r="0.95" fill="#760a24" stroke="#d0143f" stroke-opacity="0.65" stroke-width="0.6"/>
<circle cx="310.36" cy="423.16" r="0.95" fill="#760a24" stroke="#d0143f" stroke-opacity="0.65" stroke-width="0.6"/>
<circle cx="307.75" cy="423.11" r="0.95" fill="#760a24" stroke="#d0143f" stroke-opacity="0.65" stroke-width="0.6"/>
<circle cx="309.76" cy="422.91" r="0.95" fill="#760a24" stroke="#d0143f" stroke-opacity="0.65" stroke-width="0.6"/>
<circle cx="310.68" cy="422.81" r="0.95" fill="#760a24" stroke="#d0143f" stroke-opacity="0.65" stroke-width="0.6"/>
<circle cx="312.86" cy="422.65" r="0.95" fill="#760a24" stroke="#d0143f" stroke-opacity="0.65" stroke-width="0.6"/>
<circle cx="311.55" cy="422.37" r="0.95" fill="#760a24" stroke="#d0143f" stroke-opacity="0.65" stroke-width="0.6"/>
<circle cx="312.08" cy="422.31" r="0.95" fill="#760a24" stroke="#d0143f" stroke-opacity="0.65" stroke-width="0.6"/>
<circle cx="313.45" cy="422.28" r="0.95" fill="#760a24" stroke="#d0143f" stroke-opacity="0.65" stroke-width="0.6"/>
<circle cx="313.38" cy="422.18" r="0.95" fill="#760a24" stroke="#d0143f" stroke-opacity="0.65" stroke-width="0.6"/>
<circle cx="311.72" cy="421.94" r="0.95" fill="#760a24" stroke="#d0143f" stroke-opacity="0.65" stroke-width="0.6"/>
<circle cx="309.69" cy="421.80" r="0.95" fill="#760a24" stroke="#d0143f" stroke-opacity="0.65" stroke-width="0.6"/>
<circle cx="312.28" cy="421.45" r="0.95" fill="#760a24" stroke="#d0143f" stroke-opacity="0.65" stroke-width="0.6"/>
<circle cx="308.10" cy="420.57" r="0.95" fill="#760a24" stroke="#d0143f" stroke-opacity="0.65" stroke-width="0.6"/>
<circle cx="308.63" cy="420.50" r="0.95" fill="#760a24" stroke="#d0143f" stroke-opacity="0.65" stroke-width="0.6"/>
<circle cx="310.40" cy="419.38" r="0.95" fill="#760a24" stroke="#d0143f" stroke-opacity="0.65" stroke-width="0.6"/>
<circle cx="312.70" cy="419.00" r="0.95" fill="#760a24" stroke="#d0143f" stroke-opacity="0.65" stroke-width="0.6"/>
<circle cx="308.10" cy="418.56" r="0.95" fill="#760a24" stroke="#d0143f" stroke-opacity="0.65" stroke-width="0.6"/>
<circle cx="310.40" cy="416.96" r="0.95" fill="#760a24" stroke="#d0143f" stroke-opacity="0.65" stroke-width="0.6"/>
<circle cx="312.70" cy="415.50" r="0.95" fill="#760a24" stroke="#d0143f" stroke-opacity="0.65" stroke-width="0.6"/>
<line x1="306.20" y1="425.75" x2="314.60" y2="425.75" stroke="#111" stroke-width="1.4"/>
<line x1="310.40" y1="430.14" x2="310.40" y2="421.35" stroke="#111" stroke-width="0.9"/>
<line x1="307.20" y1="430.14" x2="313.60" y2="430.14" stroke="#111" stroke-width="1.0"/>
<line x1="307.20" y1="421.35" x2="313.60" y2="421.35" stroke="#111" stroke-width="1.0"/>
<line x1="310.40" y1="440.40" x2="310.40" y2="443.40" stroke="#111" stroke-width="1.1"/>
<text x="310.40" y="454.00" font-size="7.5" text-anchor="middle" font-weight="normal" fill="#333" >-</text>
<circle cx="323.40" cy="438.18" r="0.95" fill="#760a24" stroke="#d0143f" stroke-opacity="0.65" stroke-width="0.6"/>
<circle cx="325.70" cy="437.71" r="0.95" fill="#760a24" stroke="#d0143f" stroke-opacity="0.65" stroke-width="0.6"/>
<circle cx="321.10" cy="437.34" r="0.95" fill="#760a24" stroke="#d0143f" stroke-opacity="0.65" stroke-width="0.6"/>
<circle cx="323.40" cy="434.96" r="0.95" fill="#760a24" stroke="#d0143f" stroke-opacity="0.65" stroke-width="0.6"/>
<circle cx="325.70" cy="434.68" r="0.95" fill="#760a24" stroke="#d0143f" stroke-opacity="0.65" stroke-width="0.6"/>
<circle cx="321.10" cy="434.56" r="0.95" fill="#760a24" stroke="#d0143f" stroke-opacity="0.65" stroke-width="0.6"/>
<circle cx="323.34" cy="434.45" r="0.95" fill="#760a24" stroke="#d0143f" stroke-opacity="0.65" stroke-width="0.6"/>
<circle cx="325.97" cy="434.02" r="0.95" fill="#760a24" stroke="#d0143f" stroke-opacity="0.65" stroke-width="0.6"/>
<circle cx="322.01" cy="433.63" r="0.95" fill="#760a24" stroke="#d0143f" stroke-opacity="0.65" stroke-width="0.6"/>
<circle cx="321.08" cy="433.49" r="0.95" fill="#760a24" stroke="#d0143f" stroke-opacity="0.65" stroke-width="0.6"/>
<circle cx="324.55" cy="432.57" r="0.95" fill="#760a24" stroke="#d0143f" stroke-opacity="0.65" stroke-width="0.6"/>
<circle cx="322.99" cy="431.81" r="0.95" fill="#760a24" stroke="#d0143f" stroke-opacity="0.65" stroke-width="0.6"/>
<circle cx="321.10" cy="431.30" r="0.95" fill="#760a24" stroke="#d0143f" stroke-opacity="0.65" stroke-width="0.6"/>
<circle cx="325.70" cy="431.00" r="0.95" fill="#760a24" stroke="#d0143f" stroke-opacity="0.65" stroke-width="0.6"/>
<circle cx="322.41" cy="430.72" r="0.95" fill="#760a24" stroke="#d0143f" stroke-opacity="0.65" stroke-width="0.6"/>
<circle cx="323.54" cy="430.64" r="0.95" fill="#760a24" stroke="#d0143f" stroke-opacity="0.65" stroke-width="0.6"/>
<circle cx="322.83" cy="430.42" r="0.95" fill="#760a24" stroke="#d0143f" stroke-opacity="0.65" stroke-width="0.6"/>
<circle cx="320.95" cy="430.36" r="0.95" fill="#760a24" stroke="#d0143f" stroke-opacity="0.65" stroke-width="0.6"/>
<circle cx="324.19" cy="430.18" r="0.95" fill="#760a24" stroke="#d0143f" stroke-opacity="0.65" stroke-width="0.6"/>
<circle cx="325.58" cy="430.16" r="0.95" fill="#760a24" stroke="#d0143f" stroke-opacity="0.65" stroke-width="0.6"/>
<circle cx="325.02" cy="430.12" r="0.95" fill="#760a24" stroke="#d0143f" stroke-opacity="0.65" stroke-width="0.6"/>
<circle cx="321.83" cy="429.57" r="0.95" fill="#760a24" stroke="#d0143f" stroke-opacity="0.65" stroke-width="0.6"/>
<circle cx="322.81" cy="428.97" r="0.95" fill="#760a24" stroke="#d0143f" stroke-opacity="0.65" stroke-width="0.6"/>
<circle cx="320.03" cy="428.48" r="0.95" fill="#760a24" stroke="#d0143f" stroke-opacity="0.65" stroke-width="0.6"/>
<circle cx="323.39" cy="428.31" r="0.95" fill="#760a24" stroke="#d0143f" stroke-opacity="0.65" stroke-width="0.6"/>
<circle cx="325.70" cy="428.16" r="0.95" fill="#760a24" stroke="#d0143f" stroke-opacity="0.65" stroke-width="0.6"/>
<circle cx="325.78" cy="428.13" r="0.95" fill="#760a24" stroke="#d0143f" stroke-opacity="0.65" stroke-width="0.6"/>
<circle cx="325.93" cy="427.98" r="0.95" fill="#760a24" stroke="#d0143f" stroke-opacity="0.65" stroke-width="0.6"/>
<circle cx="322.58" cy="427.74" r="0.95" fill="#760a24" stroke="#d0143f" stroke-opacity="0.65" stroke-width="0.6"/>
<circle cx="324.71" cy="427.66" r="0.95" fill="#760a24" stroke="#d0143f" stroke-opacity="0.65" stroke-width="0.6"/>
<circle cx="324.92" cy="427.65" r="0.95" fill="#760a24" stroke="#d0143f" stroke-opacity="0.65" stroke-width="0.6"/>
<circle cx="322.40" cy="427.18" r="0.95" fill="#760a24" stroke="#d0143f" stroke-opacity="0.65" stroke-width="0.6"/>
<circle cx="324.41" cy="426.92" r="0.95" fill="#760a24" stroke="#d0143f" stroke-opacity="0.65" stroke-width="0.6"/>
<circle cx="325.35" cy="426.69" r="0.95" fill="#760a24" stroke="#d0143f" stroke-opacity="0.65" stroke-width="0.6"/>
<circle cx="322.59" cy="426.27" r="0.95" fill="#760a24" stroke="#d0143f" stroke-opacity="0.65" stroke-width="0.6"/>
<circle cx="321.25" cy="426.11" r="0.95" fill="#760a24" stroke="#d0143f" stroke-opacity="0.65" stroke-width="0.6"/>
<circle cx="325.46" cy="426.03" r="0.95" fill="#760a24" stroke="#d0143f" stroke-opacity="0.65" stroke-width="0.6"/>
<circle cx="323.91" cy="425.92" r="0.95" fill="#760a24" stroke="#d0143f" stroke-opacity="0.65" stroke-width="0.6"/>
<circle cx="320.60" cy="425.90" r="0.95" fill="#760a24" stroke="#d0143f" stroke-opacity="0.65" stroke-width="0.6"/>
<circle cx="322.20" cy="425.87" r="0.95" fill="#760a24" stroke="#d0143f" stroke-opacity="0.65" stroke-width="0.6"/>
<circle cx="326.52" cy="425.78" r="0.95" fill="#760a24" stroke="#d0143f" stroke-opacity="0.65" stroke-width="0.6"/>
<circle cx="326.61" cy="425.74" r="0.95" fill="#760a24" stroke="#d0143f" stroke-opacity="0.65" stroke-width="0.6"/>
<circle cx="320.17" cy="425.74" r="0.95" fill="#760a24" stroke="#d0143f" stroke-opacity="0.65" stroke-width="0.6"/>
<circle cx="323.84" cy="424.80" r="0.95" fill="#760a24" stroke="#d0143f" stroke-opacity="0.65" stroke-width="0.6"/>
<circle cx="322.04" cy="424.72" r="0.95" fill="#760a24" stroke="#d0143f" stroke-opacity="0.65" stroke-width="0.6"/>
<circle cx="323.66" cy="424.39" r="0.95" fill="#760a24" stroke="#d0143f" stroke-opacity="0.65" stroke-width="0.6"/>
<circle cx="325.70" cy="423.89" r="0.95" fill="#760a24" stroke="#d0143f" stroke-opacity="0.65" stroke-width="0.6"/>
<circle cx="322.65" cy="423.50" r="0.95" fill="#760a24" stroke="#d0143f" stroke-opacity="0.65" stroke-width="0.6"/>
<circle cx="320.28" cy="423.20" r="0.95" fill="#760a24" stroke="#d0143f" stroke-opacity="0.65" stroke-width="0.6"/>
<circle cx="323.08" cy="422.98" r="0.95" fill="#760a24" stroke="#d0143f" stroke-opacity="0.65" stroke-width="0.6"/>
<circle cx="324.60" cy="422.94" r="0.95" fill="#760a24" stroke="#d0143f" stroke-opacity="0.65" stroke-width="0.6"/>
<circle cx="320.67" cy="422.92" r="0.95" fill="#760a24" stroke="#d0143f" stroke-opacity="0.65" stroke-width="0.6"/>
<circle cx="323.41" cy="422.74" r="0.95" fill="#760a24" stroke="#d0143f" stroke-opacity="0.65" stroke-width="0.6"/>
<circle cx="325.98" cy="422.63" r="0.95" fill="#760a24" stroke="#d0143f" stroke-opacity="0.65" stroke-width="0.6"/>
<circle cx="323.31" cy="422.05" r="0.95" fill="#760a24" stroke="#d0143f" stroke-opacity="0.65" stroke-width="0.6"/>
<circle cx="325.22" cy="421.93" r="0.95" fill="#760a24" stroke="#d0143f" stroke-opacity="0.65" stroke-width="0.6"/>
<circle cx="322.25" cy="420.38" r="0.95" fill="#760a24" stroke="#d0143f" stroke-opacity="0.65" stroke-width="0.6"/>
<circle cx="324.55" cy="419.23" r="0.95" fill="#760a24" stroke="#d0143f" stroke-opacity="0.65" stroke-width="0.6"/>
<circle cx="323.40" cy="417.59" r="0.95" fill="#760a24" stroke="#d0143f" stroke-opacity="0.65" stroke-width="0.6"/>
<circle cx="325.70" cy="417.31" r="0.95" fill="#760a24" stroke="#d0143f" stroke-opacity="0.65" stroke-width="0.6"/>
<circle cx="321.10" cy="416.45" r="0.95" fill="#760a24" stroke="#d0143f" stroke-opacity="0.65" stroke-width="0.6"/>
<circle cx="323.40" cy="414.92" r="0.95" fill="#760a24" stroke="#d0143f" stroke-opacity="0.65" stroke-width="0.6"/>
<circle cx="323.40" cy="412.56" r="0.95" fill="#760a24" stroke="#d0143f" stroke-opacity="0.65" stroke-width="0.6"/>
<circle cx="325.70" cy="411.10" r="0.95" fill="#760a24" stroke="#d0143f" stroke-opacity="0.65" stroke-width="0.6"/>
<line x1="319.20" y1="428.68" x2="327.60" y2="428.68" stroke="#111" stroke-width="1.4"/>
<line x1="323.40" y1="433.07" x2="323.40" y2="422.82" stroke="#111" stroke-width="0.9"/>
<line x1="320.20" y1="433.07" x2="326.60" y2="433.07" stroke="#111" stroke-width="1.0"/>
<line x1="320.20" y1="422.82" x2="326.60" y2="422.82" stroke="#111" stroke-width="1.0"/>
<line x1="323.40" y1="440.40" x2="323.40" y2="443.40" stroke="#111" stroke-width="1.1"/>
<text x="323.40" y="454.80" font-size="8.5" text-anchor="middle" font-weight="normal" fill="#333" >+</text>
<circle cx="336.60" cy="440.40" r="0.95" fill="#760a24" stroke="#d0143f" stroke-opacity="0.65" stroke-width="0.6"/>
<circle cx="338.90" cy="439.67" r="0.95" fill="#760a24" stroke="#d0143f" stroke-opacity="0.65" stroke-width="0.6"/>
<circle cx="334.30" cy="438.94" r="0.95" fill="#760a24" stroke="#d0143f" stroke-opacity="0.65" stroke-width="0.6"/>
<circle cx="334.70" cy="438.89" r="0.95" fill="#760a24" stroke="#d0143f" stroke-opacity="0.65" stroke-width="0.6"/>
<circle cx="336.60" cy="437.83" r="0.95" fill="#760a24" stroke="#d0143f" stroke-opacity="0.65" stroke-width="0.6"/>
<circle cx="338.90" cy="436.91" r="0.95" fill="#760a24" stroke="#d0143f" stroke-opacity="0.65" stroke-width="0.6"/>
<circle cx="335.45" cy="436.14" r="0.95" fill="#760a24" stroke="#d0143f" stroke-opacity="0.65" stroke-width="0.6"/>
<circle cx="337.42" cy="436.14" r="0.95" fill="#760a24" stroke="#d0143f" stroke-opacity="0.65" stroke-width="0.6"/>
<circle cx="334.72" cy="435.52" r="0.95" fill="#760a24" stroke="#d0143f" stroke-opacity="0.65" stroke-width="0.6"/>
<circle cx="338.90" cy="434.47" r="0.95" fill="#760a24" stroke="#d0143f" stroke-opacity="0.65" stroke-width="0.6"/>
<circle cx="336.60" cy="434.03" r="0.95" fill="#760a24" stroke="#d0143f" stroke-opacity="0.65" stroke-width="0.6"/>
<circle cx="333.24" cy="433.93" r="0.95" fill="#760a24" stroke="#d0143f" stroke-opacity="0.65" stroke-width="0.6"/>
<circle cx="335.27" cy="433.82" r="0.95" fill="#760a24" stroke="#d0143f" stroke-opacity="0.65" stroke-width="0.6"/>
<circle cx="339.73" cy="433.77" r="0.95" fill="#760a24" stroke="#d0143f" stroke-opacity="0.65" stroke-width="0.6"/>
<circle cx="339.86" cy="433.45" r="0.95" fill="#760a24" stroke="#d0143f" stroke-opacity="0.65" stroke-width="0.6"/>
<circle cx="334.85" cy="432.83" r="0.95" fill="#760a24" stroke="#d0143f" stroke-opacity="0.65" stroke-width="0.6"/>
<circle cx="336.60" cy="431.69" r="0.95" fill="#760a24" stroke="#d0143f" stroke-opacity="0.65" stroke-width="0.6"/>
<circle cx="338.90" cy="431.66" r="0.95" fill="#760a24" stroke="#d0143f" stroke-opacity="0.65" stroke-width="0.6"/>
<circle cx="334.30" cy="430.81" r="0.95" fill="#760a24" stroke="#d0143f" stroke-opacity="0.65" stroke-width="0.6"/>
<circle cx="335.91" cy="430.45" r="0.95" fill="#760a24" stroke="#d0143f" stroke-opacity="0.65" stroke-width="0.6"/>
<circle cx="333.35" cy="429.99" r="0.95" fill="#760a24" stroke="#d0143f" stroke-opacity="0.65" stroke-width="0.6"/>
<circle cx="337.75" cy="429.92" r="0.95" fill="#760a24" stroke="#d0143f" stroke-opacity="0.65" stroke-width="0.6"/>
<circle cx="334.38" cy="429.83" r="0.95" fill="#760a24" stroke="#d0143f" stroke-opacity="0.65" stroke-width="0.6"/>
<circle cx="335.78" cy="429.77" r="0.95" fill="#760a24" stroke="#d0143f" stroke-opacity="0.65" stroke-width="0.6"/>
<circle cx="339.81" cy="428.61" r="0.95" fill="#760a24" stroke="#d0143f" stroke-opacity="0.65" stroke-width="0.6"/>
<circle cx="336.60" cy="428.05" r="0.95" fill="#760a24" stroke="#d0143f" stroke-opacity="0.65" stroke-width="0.6"/>
<circle cx="334.30" cy="427.71" r="0.95" fill="#760a24" stroke="#d0143f" stroke-opacity="0.65" stroke-width="0.6"/>
<circle cx="333.98" cy="427.52" r="0.95" fill="#760a24" stroke="#d0143f" stroke-opacity="0.65" stroke-width="0.6"/>
<circle cx="335.48" cy="427.44" r="0.95" fill="#760a24" stroke="#d0143f" stroke-opacity="0.65" stroke-width="0.6"/>
<circle cx="339.74" cy="427.02" r="0.95" fill="#760a24" stroke="#d0143f" stroke-opacity="0.65" stroke-width="0.6"/>
<circle cx="337.75" cy="426.51" r="0.95" fill="#760a24" stroke="#d0143f" stroke-opacity="0.65" stroke-width="0.6"/>
<circle cx="336.97" cy="426.09" r="0.95" fill="#760a24" stroke="#d0143f" stroke-opacity="0.65" stroke-width="0.6"/>
<circle cx="334.30" cy="425.60" r="0.95" fill="#760a24" stroke="#d0143f" stroke-opacity="0.65" stroke-width="0.6"/>
<circle cx="336.38" cy="425.57" r="0.95" fill="#760a24" stroke="#d0143f" stroke-opacity="0.65" stroke-width="0.6"/>
<circle cx="334.81" cy="425.50" r="0.95" fill="#760a24" stroke="#d0143f" stroke-opacity="0.65" stroke-width="0.6"/>
<circle cx="335.10" cy="425.22" r="0.95" fill="#760a24" stroke="#d0143f" stroke-opacity="0.65" stroke-width="0.6"/>
<circle cx="338.90" cy="424.75" r="0.95" fill="#760a24" stroke="#d0143f" stroke-opacity="0.65" stroke-width="0.6"/>
<circle cx="338.67" cy="424.46" r="0.95" fill="#760a24" stroke="#d0143f" stroke-opacity="0.65" stroke-width="0.6"/>
<circle cx="336.60" cy="423.63" r="0.95" fill="#760a24" stroke="#d0143f" stroke-opacity="0.65" stroke-width="0.6"/>
<circle cx="334.30" cy="422.59" r="0.95" fill="#760a24" stroke="#d0143f" stroke-opacity="0.65" stroke-width="0.6"/>
<circle cx="338.90" cy="422.39" r="0.95" fill="#760a24" stroke="#d0143f" stroke-opacity="0.65" stroke-width="0.6"/>
<circle cx="335.03" cy="422.20" r="0.95" fill="#760a24" stroke="#d0143f" stroke-opacity="0.65" stroke-width="0.6"/>
<circle cx="336.97" cy="422.04" r="0.95" fill="#760a24" stroke="#d0143f" stroke-opacity="0.65" stroke-width="0.6"/>
<circle cx="338.89" cy="421.71" r="0.95" fill="#760a24" stroke="#d0143f" stroke-opacity="0.65" stroke-width="0.6"/>
<circle cx="334.28" cy="421.40" r="0.95" fill="#760a24" stroke="#d0143f" stroke-opacity="0.65" stroke-width="0.6"/>
<circle cx="334.67" cy="420.59" r="0.95" fill="#760a24" stroke="#d0143f" stroke-opacity="0.65" stroke-width="0.6"/>
<circle cx="336.60" cy="419.70" r="0.95" fill="#760a24" stroke="#d0143f" stroke-opacity="0.65" stroke-width="0.6"/>
<circle cx="338.90" cy="419.70" r="0.95" fill="#760a24" stroke="#d0143f" stroke-opacity="0.65" stroke-width="0.6"/>
<circle cx="335.22" cy="419.36" r="0.95" fill="#760a24" stroke="#d0143f" stroke-opacity="0.65" stroke-width="0.6"/>
<circle cx="336.63" cy="418.74" r="0.95" fill="#760a24" stroke="#d0143f" stroke-opacity="0.65" stroke-width="0.6"/>
<circle cx="339.04" cy="418.26" r="0.95" fill="#760a24" stroke="#d0143f" stroke-opacity="0.65" stroke-width="0.6"/>
<circle cx="334.30" cy="417.58" r="0.95" fill="#760a24" stroke="#d0143f" stroke-opacity="0.65" stroke-width="0.6"/>
<circle cx="336.60" cy="415.51" r="0.95" fill="#760a24" stroke="#d0143f" stroke-opacity="0.65" stroke-width="0.6"/>
<circle cx="338.90" cy="415.15" r="0.95" fill="#760a24" stroke="#d0143f" stroke-opacity="0.65" stroke-width="0.6"/>
<circle cx="334.30" cy="414.62" r="0.95" fill="#760a24" stroke="#d0143f" stroke-opacity="0.65" stroke-width="0.6"/>
<circle cx="335.95" cy="414.28" r="0.95" fill="#760a24" stroke="#d0143f" stroke-opacity="0.65" stroke-width="0.6"/>
<circle cx="337.75" cy="413.13" r="0.95" fill="#760a24" stroke="#d0143f" stroke-opacity="0.65" stroke-width="0.6"/>
<circle cx="339.13" cy="413.13" r="0.95" fill="#760a24" stroke="#d0143f" stroke-opacity="0.65" stroke-width="0.6"/>
<circle cx="336.60" cy="406.70" r="0.95" fill="#760a24" stroke="#d0143f" stroke-opacity="0.65" stroke-width="0.6"/>
<circle cx="336.60" cy="403.77" r="0.95" fill="#760a24" stroke="#d0143f" stroke-opacity="0.65" stroke-width="0.6"/>
<circle cx="336.60" cy="400.84" r="0.95" fill="#760a24" stroke="#d0143f" stroke-opacity="0.65" stroke-width="0.6"/>
<circle cx="336.60" cy="397.91" r="0.95" fill="#760a24" stroke="#d0143f" stroke-opacity="0.65" stroke-width="0.6"/>
<circle cx="336.60" cy="392.05" r="0.95" fill="#760a24" stroke="#d0143f" stroke-opacity="0.65" stroke-width="0.6"/>
<circle cx="336.60" cy="386.19" r="0.95" fill="#760a24" stroke="#d0143f" stroke-opacity="0.65" stroke-width="0.6"/>
<circle cx="336.60" cy="378.87" r="0.95" fill="#760a24" stroke="#d0143f" stroke-opacity="0.65" stroke-width="0.6"/>
<line x1="332.40" y1="425.75" x2="340.80" y2="425.75" stroke="#111" stroke-width="1.4"/>
<line x1="336.60" y1="434.54" x2="336.60" y2="412.56" stroke="#111" stroke-width="0.9"/>
<line x1="333.40" y1="434.54" x2="339.80" y2="434.54" stroke="#111" stroke-width="1.0"/>
<line x1="333.40" y1="412.56" x2="339.80" y2="412.56" stroke="#111" stroke-width="1.0"/>
<line x1="336.60" y1="440.40" x2="336.60" y2="443.40" stroke="#111" stroke-width="1.1"/>
<text x="336.60" y="454.00" font-size="7.5" text-anchor="middle" font-weight="normal" fill="#333" >-</text>
<circle cx="349.60" cy="439.53" r="0.95" fill="#760a24" stroke="#d0143f" stroke-opacity="0.65" stroke-width="0.6"/>
<circle cx="351.90" cy="439.52" r="0.95" fill="#760a24" stroke="#d0143f" stroke-opacity="0.65" stroke-width="0.6"/>
<circle cx="347.30" cy="439.06" r="0.95" fill="#760a24" stroke="#d0143f" stroke-opacity="0.65" stroke-width="0.6"/>
<circle cx="351.48" cy="438.72" r="0.95" fill="#760a24" stroke="#d0143f" stroke-opacity="0.65" stroke-width="0.6"/>
<circle cx="351.30" cy="438.38" r="0.95" fill="#760a24" stroke="#d0143f" stroke-opacity="0.65" stroke-width="0.6"/>
<circle cx="349.04" cy="438.34" r="0.95" fill="#760a24" stroke="#d0143f" stroke-opacity="0.65" stroke-width="0.6"/>
<circle cx="352.99" cy="438.29" r="0.95" fill="#760a24" stroke="#d0143f" stroke-opacity="0.65" stroke-width="0.6"/>
<circle cx="348.11" cy="438.18" r="0.95" fill="#760a24" stroke="#d0143f" stroke-opacity="0.65" stroke-width="0.6"/>
<circle cx="348.57" cy="438.05" r="0.95" fill="#760a24" stroke="#d0143f" stroke-opacity="0.65" stroke-width="0.6"/>
<circle cx="349.21" cy="437.39" r="0.95" fill="#760a24" stroke="#d0143f" stroke-opacity="0.65" stroke-width="0.6"/>
<circle cx="350.90" cy="436.78" r="0.95" fill="#760a24" stroke="#d0143f" stroke-opacity="0.65" stroke-width="0.6"/>
<circle cx="347.30" cy="436.04" r="0.95" fill="#760a24" stroke="#d0143f" stroke-opacity="0.65" stroke-width="0.6"/>
<circle cx="350.80" cy="436.03" r="0.95" fill="#760a24" stroke="#d0143f" stroke-opacity="0.65" stroke-width="0.6"/>
<circle cx="349.11" cy="435.95" r="0.95" fill="#760a24" stroke="#d0143f" stroke-opacity="0.65" stroke-width="0.6"/>
<circle cx="349.53" cy="435.89" r="0.95" fill="#760a24" stroke="#d0143f" stroke-opacity="0.65" stroke-width="0.6"/>
<circle cx="346.50" cy="435.33" r="0.95" fill="#760a24" stroke="#d0143f" stroke-opacity="0.65" stroke-width="0.6"/>
<circle cx="347.39" cy="435.26" r="0.95" fill="#760a24" stroke="#d0143f" stroke-opacity="0.65" stroke-width="0.6"/>
<circle cx="352.79" cy="434.94" r="0.95" fill="#760a24" stroke="#d0143f" stroke-opacity="0.65" stroke-width="0.6"/>
<circle cx="350.75" cy="434.09" r="0.95" fill="#760a24" stroke="#d0143f" stroke-opacity="0.65" stroke-width="0.6"/>
<circle cx="347.90" cy="434.05" r="0.95" fill="#760a24" stroke="#d0143f" stroke-opacity="0.65" stroke-width="0.6"/>
<circle cx="347.34" cy="434.03" r="0.95" fill="#760a24" stroke="#d0143f" stroke-opacity="0.65" stroke-width="0.6"/>
<circle cx="349.00" cy="433.84" r="0.95" fill="#760a24" stroke="#d0143f" stroke-opacity="0.65" stroke-width="0.6"/>
<circle cx="350.53" cy="432.95" r="0.95" fill="#760a24" stroke="#d0143f" stroke-opacity="0.65" stroke-width="0.6"/>
<circle cx="347.13" cy="432.64" r="0.95" fill="#760a24" stroke="#d0143f" stroke-opacity="0.65" stroke-width="0.6"/>
<circle cx="350.76" cy="432.36" r="0.95" fill="#760a24" stroke="#d0143f" stroke-opacity="0.65" stroke-width="0.6"/>
<circle cx="351.00" cy="432.23" r="0.95" fill="#760a24" stroke="#d0143f" stroke-opacity="0.65" stroke-width="0.6"/>
<circle cx="349.70" cy="431.95" r="0.95" fill="#760a24" stroke="#d0143f" stroke-opacity="0.65" stroke-width="0.6"/>
<circle cx="347.11" cy="431.34" r="0.95" fill="#760a24" stroke="#d0143f" stroke-opacity="0.65" stroke-width="0.6"/>
<circle cx="350.95" cy="430.96" r="0.95" fill="#760a24" stroke="#d0143f" stroke-opacity="0.65" stroke-width="0.6"/>
<circle cx="352.22" cy="430.88" r="0.95" fill="#760a24" stroke="#d0143f" stroke-opacity="0.65" stroke-width="0.6"/>
<circle cx="350.20" cy="430.15" r="0.95" fill="#760a24" stroke="#d0143f" stroke-opacity="0.65" stroke-width="0.6"/>
<circle cx="348.47" cy="430.00" r="0.95" fill="#760a24" stroke="#d0143f" stroke-opacity="0.65" stroke-width="0.6"/>
<circle cx="349.93" cy="429.92" r="0.95" fill="#760a24" stroke="#d0143f" stroke-opacity="0.65" stroke-width="0.6"/>
<circle cx="350.80" cy="429.84" r="0.95" fill="#760a24" stroke="#d0143f" stroke-opacity="0.65" stroke-width="0.6"/>
<circle cx="350.27" cy="429.49" r="0.95" fill="#760a24" stroke="#d0143f" stroke-opacity="0.65" stroke-width="0.6"/>
<circle cx="351.91" cy="428.84" r="0.95" fill="#760a24" stroke="#d0143f" stroke-opacity="0.65" stroke-width="0.6"/>
<circle cx="351.85" cy="428.56" r="0.95" fill="#760a24" stroke="#d0143f" stroke-opacity="0.65" stroke-width="0.6"/>
<circle cx="349.60" cy="427.58" r="0.95" fill="#760a24" stroke="#d0143f" stroke-opacity="0.65" stroke-width="0.6"/>
<circle cx="347.30" cy="426.83" r="0.95" fill="#760a24" stroke="#d0143f" stroke-opacity="0.65" stroke-width="0.6"/>
<circle cx="351.90" cy="426.40" r="0.95" fill="#760a24" stroke="#d0143f" stroke-opacity="0.65" stroke-width="0.6"/>
<circle cx="349.51" cy="426.03" r="0.95" fill="#760a24" stroke="#d0143f" stroke-opacity="0.65" stroke-width="0.6"/>
<circle cx="346.61" cy="425.26" r="0.95" fill="#760a24" stroke="#d0143f" stroke-opacity="0.65" stroke-width="0.6"/>
<circle cx="348.27" cy="424.66" r="0.95" fill="#760a24" stroke="#d0143f" stroke-opacity="0.65" stroke-width="0.6"/>
<circle cx="350.75" cy="424.50" r="0.95" fill="#760a24" stroke="#d0143f" stroke-opacity="0.65" stroke-width="0.6"/>
<circle cx="349.25" cy="423.39" r="0.95" fill="#760a24" stroke="#d0143f" stroke-opacity="0.65" stroke-width="0.6"/>
<circle cx="351.90" cy="422.63" r="0.95" fill="#760a24" stroke="#d0143f" stroke-opacity="0.65" stroke-width="0.6"/>
<circle cx="347.30" cy="421.89" r="0.95" fill="#760a24" stroke="#d0143f" stroke-opacity="0.65" stroke-width="0.6"/>
<circle cx="349.60" cy="421.25" r="0.95" fill="#760a24" stroke="#d0143f" stroke-opacity="0.65" stroke-width="0.6"/>
<circle cx="351.90" cy="420.49" r="0.95" fill="#760a24" stroke="#d0143f" stroke-opacity="0.65" stroke-width="0.6"/>
<circle cx="349.60" cy="418.75" r="0.95" fill="#760a24" stroke="#d0143f" stroke-opacity="0.65" stroke-width="0.6"/>
<circle cx="351.90" cy="418.45" r="0.95" fill="#760a24" stroke="#d0143f" stroke-opacity="0.65" stroke-width="0.6"/>
<circle cx="349.60" cy="416.67" r="0.95" fill="#760a24" stroke="#d0143f" stroke-opacity="0.65" stroke-width="0.6"/>
<circle cx="351.90" cy="416.52" r="0.95" fill="#760a24" stroke="#d0143f" stroke-opacity="0.65" stroke-width="0.6"/>
<circle cx="347.30" cy="416.36" r="0.95" fill="#760a24" stroke="#d0143f" stroke-opacity="0.65" stroke-width="0.6"/>
<circle cx="349.60" cy="414.42" r="0.95" fill="#760a24" stroke="#d0143f" stroke-opacity="0.65" stroke-width="0.6"/>
<circle cx="349.60" cy="408.17" r="0.95" fill="#760a24" stroke="#d0143f" stroke-opacity="0.65" stroke-width="0.6"/>
<circle cx="351.90" cy="406.70" r="0.95" fill="#760a24" stroke="#d0143f" stroke-opacity="0.65" stroke-width="0.6"/>
<circle cx="349.60" cy="403.77" r="0.95" fill="#760a24" stroke="#d0143f" stroke-opacity="0.65" stroke-width="0.6"/>
<circle cx="349.60" cy="400.84" r="0.95" fill="#760a24" stroke="#d0143f" stroke-opacity="0.65" stroke-width="0.6"/>
<line x1="345.40" y1="430.14" x2="353.80" y2="430.14" stroke="#111" stroke-width="1.4"/>
<line x1="349.60" y1="437.47" x2="349.60" y2="419.89" stroke="#111" stroke-width="0.9"/>
<line x1="346.40" y1="437.47" x2="352.80" y2="437.47" stroke="#111" stroke-width="1.0"/>
<line x1="346.40" y1="419.89" x2="352.80" y2="419.89" stroke="#111" stroke-width="1.0"/>
<line x1="349.60" y1="440.40" x2="349.60" y2="443.40" stroke="#111" stroke-width="1.1"/>
<text x="349.60" y="454.80" font-size="8.5" text-anchor="middle" font-weight="normal" fill="#333" >+</text>
<circle cx="363.40" cy="440.40" r="0.95" fill="#760a24" stroke="#d0143f" stroke-opacity="0.65" stroke-width="0.6"/>
<circle cx="365.70" cy="440.40" r="0.95" fill="#760a24" stroke="#d0143f" stroke-opacity="0.65" stroke-width="0.6"/>
<circle cx="361.10" cy="439.67" r="0.95" fill="#760a24" stroke="#d0143f" stroke-opacity="0.65" stroke-width="0.6"/>
<circle cx="364.91" cy="439.23" r="0.95" fill="#760a24" stroke="#d0143f" stroke-opacity="0.65" stroke-width="0.6"/>
<circle cx="364.14" cy="439.22" r="0.95" fill="#760a24" stroke="#d0143f" stroke-opacity="0.65" stroke-width="0.6"/>
<circle cx="363.84" cy="439.09" r="0.95" fill="#760a24" stroke="#d0143f" stroke-opacity="0.65" stroke-width="0.6"/>
<circle cx="366.48" cy="438.94" r="0.95" fill="#760a24" stroke="#d0143f" stroke-opacity="0.65" stroke-width="0.6"/>
<circle cx="364.46" cy="438.44" r="0.95" fill="#760a24" stroke="#d0143f" stroke-opacity="0.65" stroke-width="0.6"/>
<circle cx="362.25" cy="437.38" r="0.95" fill="#760a24" stroke="#d0143f" stroke-opacity="0.65" stroke-width="0.6"/>
<circle cx="365.88" cy="437.31" r="0.95" fill="#760a24" stroke="#d0143f" stroke-opacity="0.65" stroke-width="0.6"/>
<circle cx="365.77" cy="437.27" r="0.95" fill="#760a24" stroke="#d0143f" stroke-opacity="0.65" stroke-width="0.6"/>
<circle cx="364.62" cy="436.34" r="0.95" fill="#760a24" stroke="#d0143f" stroke-opacity="0.65" stroke-width="0.6"/>
<circle cx="364.70" cy="435.90" r="0.95" fill="#760a24" stroke="#d0143f" stroke-opacity="0.65" stroke-width="0.6"/>
<circle cx="361.10" cy="435.61" r="0.95" fill="#760a24" stroke="#d0143f" stroke-opacity="0.65" stroke-width="0.6"/>
<circle cx="363.40" cy="434.34" r="0.95" fill="#760a24" stroke="#d0143f" stroke-opacity="0.65" stroke-width="0.6"/>
<circle cx="365.70" cy="434.18" r="0.95" fill="#760a24" stroke="#d0143f" stroke-opacity="0.65" stroke-width="0.6"/>
<circle cx="361.10" cy="433.40" r="0.95" fill="#760a24" stroke="#d0143f" stroke-opacity="0.65" stroke-width="0.6"/>
<circle cx="363.84" cy="433.02" r="0.95" fill="#760a24" stroke="#d0143f" stroke-opacity="0.65" stroke-width="0.6"/>
<circle cx="361.78" cy="432.91" r="0.95" fill="#760a24" stroke="#d0143f" stroke-opacity="0.65" stroke-width="0.6"/>
<circle cx="365.70" cy="432.19" r="0.95" fill="#760a24" stroke="#d0143f" stroke-opacity="0.65" stroke-width="0.6"/>
<circle cx="366.59" cy="431.84" r="0.95" fill="#760a24" stroke="#d0143f" stroke-opacity="0.65" stroke-width="0.6"/>
<circle cx="363.73" cy="431.39" r="0.95" fill="#760a24" stroke="#d0143f" stroke-opacity="0.65" stroke-width="0.6"/>
<circle cx="361.50" cy="431.38" r="0.95" fill="#760a24" stroke="#d0143f" stroke-opacity="0.65" stroke-width="0.6"/>
<circle cx="364.42" cy="430.75" r="0.95" fill="#760a24" stroke="#d0143f" stroke-opacity="0.65" stroke-width="0.6"/>
<circle cx="363.61" cy="430.67" r="0.95" fill="#760a24" stroke="#d0143f" stroke-opacity="0.65" stroke-width="0.6"/>
<circle cx="364.82" cy="430.27" r="0.95" fill="#760a24" stroke="#d0143f" stroke-opacity="0.65" stroke-width="0.6"/>
<circle cx="363.77" cy="430.09" r="0.95" fill="#760a24" stroke="#d0143f" stroke-opacity="0.65" stroke-width="0.6"/>
<circle cx="363.68" cy="430.01" r="0.95" fill="#760a24" stroke="#d0143f" stroke-opacity="0.65" stroke-width="0.6"/>
<circle cx="361.10" cy="428.92" r="0.95" fill="#760a24" stroke="#d0143f" stroke-opacity="0.65" stroke-width="0.6"/>
<circle cx="365.70" cy="428.56" r="0.95" fill="#760a24" stroke="#d0143f" stroke-opacity="0.65" stroke-width="0.6"/>
<circle cx="363.40" cy="427.70" r="0.95" fill="#760a24" stroke="#d0143f" stroke-opacity="0.65" stroke-width="0.6"/>
<circle cx="365.44" cy="427.62" r="0.95" fill="#760a24" stroke="#d0143f" stroke-opacity="0.65" stroke-width="0.6"/>
<circle cx="365.87" cy="427.44" r="0.95" fill="#760a24" stroke="#d0143f" stroke-opacity="0.65" stroke-width="0.6"/>
<circle cx="361.10" cy="426.34" r="0.95" fill="#760a24" stroke="#d0143f" stroke-opacity="0.65" stroke-width="0.6"/>
<circle cx="363.13" cy="426.18" r="0.95" fill="#760a24" stroke="#d0143f" stroke-opacity="0.65" stroke-width="0.6"/>
<circle cx="363.70" cy="426.16" r="0.95" fill="#760a24" stroke="#d0143f" stroke-opacity="0.65" stroke-width="0.6"/>
<circle cx="363.83" cy="425.92" r="0.95" fill="#760a24" stroke="#d0143f" stroke-opacity="0.65" stroke-width="0.6"/>
<circle cx="360.93" cy="425.76" r="0.95" fill="#760a24" stroke="#d0143f" stroke-opacity="0.65" stroke-width="0.6"/>
<circle cx="365.70" cy="425.23" r="0.95" fill="#760a24" stroke="#d0143f" stroke-opacity="0.65" stroke-width="0.6"/>
<circle cx="361.61" cy="425.19" r="0.95" fill="#760a24" stroke="#d0143f" stroke-opacity="0.65" stroke-width="0.6"/>
<circle cx="360.28" cy="424.91" r="0.95" fill="#760a24" stroke="#d0143f" stroke-opacity="0.65" stroke-width="0.6"/>
<circle cx="363.13" cy="424.75" r="0.95" fill="#760a24" stroke="#d0143f" stroke-opacity="0.65" stroke-width="0.6"/>
<circle cx="364.81" cy="424.40" r="0.95" fill="#760a24" stroke="#d0143f" stroke-opacity="0.65" stroke-width="0.6"/>
<circle cx="366.18" cy="424.34" r="0.95" fill="#760a24" stroke="#d0143f" stroke-opacity="0.65" stroke-width="0.6"/>
<circle cx="364.22" cy="424.13" r="0.95" fill="#760a24" stroke="#d0143f" stroke-opacity="0.65" stroke-width="0.6"/>
<circle cx="363.83" cy="424.01" r="0.95" fill="#760a24" stroke="#d0143f" stroke-opacity="0.65" stroke-width="0.6"/>
<circle cx="361.14" cy="423.89" r="0.95" fill="#760a24" stroke="#d0143f" stroke-opacity="0.65" stroke-width="0.6"/>
<circle cx="365.47" cy="423.74" r="0.95" fill="#760a24" stroke="#d0143f" stroke-opacity="0.65" stroke-width="0.6"/>
<circle cx="365.61" cy="423.35" r="0.95" fill="#760a24" stroke="#d0143f" stroke-opacity="0.65" stroke-width="0.6"/>
<circle cx="361.63" cy="423.08" r="0.95" fill="#760a24" stroke="#d0143f" stroke-opacity="0.65" stroke-width="0.6"/>
<circle cx="364.91" cy="422.42" r="0.95" fill="#760a24" stroke="#d0143f" stroke-opacity="0.65" stroke-width="0.6"/>
<circle cx="365.55" cy="421.35" r="0.95" fill="#760a24" stroke="#d0143f" stroke-opacity="0.65" stroke-width="0.6"/>
<circle cx="363.40" cy="420.87" r="0.95" fill="#760a24" stroke="#d0143f" stroke-opacity="0.65" stroke-width="0.6"/>
<circle cx="361.10" cy="420.86" r="0.95" fill="#760a24" stroke="#d0143f" stroke-opacity="0.65" stroke-width="0.6"/>
<circle cx="363.73" cy="419.81" r="0.95" fill="#760a24" stroke="#d0143f" stroke-opacity="0.65" stroke-width="0.6"/>
<circle cx="360.23" cy="419.51" r="0.95" fill="#760a24" stroke="#d0143f" stroke-opacity="0.65" stroke-width="0.6"/>
<circle cx="365.70" cy="419.31" r="0.95" fill="#760a24" stroke="#d0143f" stroke-opacity="0.65" stroke-width="0.6"/>
<circle cx="362.41" cy="419.17" r="0.95" fill="#760a24" stroke="#d0143f" stroke-opacity="0.65" stroke-width="0.6"/>
<circle cx="360.14" cy="418.46" r="0.95" fill="#760a24" stroke="#d0143f" stroke-opacity="0.65" stroke-width="0.6"/>
<circle cx="360.77" cy="418.17" r="0.95" fill="#760a24" stroke="#d0143f" stroke-opacity="0.65" stroke-width="0.6"/>
<circle cx="364.55" cy="417.69" r="0.95" fill="#760a24" stroke="#d0143f" stroke-opacity="0.65" stroke-width="0.6"/>
<circle cx="360.75" cy="417.47" r="0.95" fill="#760a24" stroke="#d0143f" stroke-opacity="0.65" stroke-width="0.6"/>
<circle cx="361.26" cy="417.43" r="0.95" fill="#760a24" stroke="#d0143f" stroke-opacity="0.65" stroke-width="0.6"/>
<circle cx="365.94" cy="417.16" r="0.95" fill="#760a24" stroke="#d0143f" stroke-opacity="0.65" stroke-width="0.6"/>
<circle cx="365.69" cy="416.42" r="0.95" fill="#760a24" stroke="#d0143f" stroke-opacity="0.65" stroke-width="0.6"/>
<circle cx="363.40" cy="415.27" r="0.95" fill="#760a24" stroke="#d0143f" stroke-opacity="0.65" stroke-width="0.6"/>
<circle cx="361.10" cy="414.87" r="0.95" fill="#760a24" stroke="#d0143f" stroke-opacity="0.65" stroke-width="0.6"/>
<circle cx="360.09" cy="414.85" r="0.95" fill="#760a24" stroke="#d0143f" stroke-opacity="0.65" stroke-width="0.6"/>
<circle cx="366.76" cy="414.59" r="0.95" fill="#760a24" stroke="#d0143f" stroke-opacity="0.65" stroke-width="0.6"/>
<circle cx="363.40" cy="412.71" r="0.95" fill="#760a24" stroke="#d0143f" stroke-opacity="0.65" stroke-width="0.6"/>
<circle cx="365.70" cy="412.57" r="0.95" fill="#760a24" stroke="#d0143f" stroke-opacity="0.65" stroke-width="0.6"/>
<circle cx="361.10" cy="411.73" r="0.95" fill="#760a24" stroke="#d0143f" stroke-opacity="0.65" stroke-width="0.6"/>
<circle cx="360.51" cy="411.61" r="0.95" fill="#760a24" stroke="#d0143f" stroke-opacity="0.65" stroke-width="0.6"/>
<circle cx="364.55" cy="410.83" r="0.95" fill="#760a24" stroke="#d0143f" stroke-opacity="0.65" stroke-width="0.6"/>
<circle cx="362.25" cy="409.68" r="0.95" fill="#760a24" stroke="#d0143f" stroke-opacity="0.65" stroke-width="0.6"/>
<circle cx="364.71" cy="409.59" r="0.95" fill="#760a24" stroke="#d0143f" stroke-opacity="0.65" stroke-width="0.6"/>
<circle cx="363.40" cy="407.10" r="0.95" fill="#760a24" stroke="#d0143f" stroke-opacity="0.65" stroke-width="0.6"/>
<circle cx="365.70" cy="405.92" r="0.95" fill="#760a24" stroke="#d0143f" stroke-opacity="0.65" stroke-width="0.6"/>
<circle cx="363.40" cy="404.51" r="0.95" fill="#760a24" stroke="#d0143f" stroke-opacity="0.65" stroke-width="0.6"/>
<circle cx="363.40" cy="399.38" r="0.95" fill="#760a24" stroke="#d0143f" stroke-opacity="0.65" stroke-width="0.6"/>
<circle cx="365.70" cy="397.91" r="0.95" fill="#760a24" stroke="#d0143f" stroke-opacity="0.65" stroke-width="0.6"/>
<circle cx="363.40" cy="396.45" r="0.95" fill="#760a24" stroke="#d0143f" stroke-opacity="0.65" stroke-width="0.6"/>
<circle cx="365.70" cy="394.98" r="0.95" fill="#760a24" stroke="#d0143f" stroke-opacity="0.65" stroke-width="0.6"/>
<circle cx="363.40" cy="393.52" r="0.95" fill="#760a24" stroke="#d0143f" stroke-opacity="0.65" stroke-width="0.6"/>
<circle cx="363.40" cy="381.80" r="0.95" fill="#760a24" stroke="#d0143f" stroke-opacity="0.65" stroke-width="0.6"/>
<circle cx="363.40" cy="373.01" r="0.95" fill="#760a24" stroke="#d0143f" stroke-opacity="0.65" stroke-width="0.6"/>
<line x1="359.20" y1="425.75" x2="367.60" y2="425.75" stroke="#111" stroke-width="1.4"/>
<line x1="363.40" y1="436.00" x2="363.40" y2="414.03" stroke="#111" stroke-width="0.9"/>
<line x1="360.20" y1="436.00" x2="366.60" y2="436.00" stroke="#111" stroke-width="1.0"/>
<line x1="360.20" y1="414.03" x2="366.60" y2="414.03" stroke="#111" stroke-width="1.0"/>
<line x1="363.40" y1="440.40" x2="363.40" y2="443.40" stroke="#111" stroke-width="1.1"/>
<text x="363.40" y="454.00" font-size="7.5" text-anchor="middle" font-weight="normal" fill="#333" >-</text>
<circle cx="376.80" cy="440.40" r="0.95" fill="#760a24" stroke="#d0143f" stroke-opacity="0.65" stroke-width="0.6"/>
<circle cx="379.10" cy="440.40" r="0.95" fill="#760a24" stroke="#d0143f" stroke-opacity="0.65" stroke-width="0.6"/>
<circle cx="374.50" cy="440.25" r="0.95" fill="#760a24" stroke="#d0143f" stroke-opacity="0.65" stroke-width="0.6"/>
<circle cx="375.01" cy="439.67" r="0.95" fill="#760a24" stroke="#d0143f" stroke-opacity="0.65" stroke-width="0.6"/>
<circle cx="374.88" cy="439.66" r="0.95" fill="#760a24" stroke="#d0143f" stroke-opacity="0.65" stroke-width="0.6"/>
<circle cx="376.45" cy="439.65" r="0.95" fill="#760a24" stroke="#d0143f" stroke-opacity="0.65" stroke-width="0.6"/>
<circle cx="379.28" cy="439.60" r="0.95" fill="#760a24" stroke="#d0143f" stroke-opacity="0.65" stroke-width="0.6"/>
<circle cx="374.74" cy="439.58" r="0.95" fill="#760a24" stroke="#d0143f" stroke-opacity="0.65" stroke-width="0.6"/>
<circle cx="379.95" cy="438.94" r="0.95" fill="#760a24" stroke="#d0143f" stroke-opacity="0.65" stroke-width="0.6"/>
<circle cx="373.94" cy="438.86" r="0.95" fill="#760a24" stroke="#d0143f" stroke-opacity="0.65" stroke-width="0.6"/>
<circle cx="378.29" cy="438.30" r="0.95" fill="#760a24" stroke="#d0143f" stroke-opacity="0.65" stroke-width="0.6"/>
<circle cx="374.68" cy="438.28" r="0.95" fill="#760a24" stroke="#d0143f" stroke-opacity="0.65" stroke-width="0.6"/>
<circle cx="377.75" cy="437.50" r="0.95" fill="#760a24" stroke="#d0143f" stroke-opacity="0.65" stroke-width="0.6"/>
<circle cx="374.84" cy="437.45" r="0.95" fill="#760a24" stroke="#d0143f" stroke-opacity="0.65" stroke-width="0.6"/>
<circle cx="379.30" cy="437.40" r="0.95" fill="#760a24" stroke="#d0143f" stroke-opacity="0.65" stroke-width="0.6"/>
<circle cx="377.81" cy="437.37" r="0.95" fill="#760a24" stroke="#d0143f" stroke-opacity="0.65" stroke-width="0.6"/>
<circle cx="377.55" cy="437.25" r="0.95" fill="#760a24" stroke="#d0143f" stroke-opacity="0.65" stroke-width="0.6"/>
<circle cx="374.59" cy="437.11" r="0.95" fill="#760a24" stroke="#d0143f" stroke-opacity="0.65" stroke-width="0.6"/>
<circle cx="378.81" cy="436.94" r="0.95" fill="#760a24" stroke="#d0143f" stroke-opacity="0.65" stroke-width="0.6"/>
<circle cx="377.66" cy="436.86" r="0.95" fill="#760a24" stroke="#d0143f" stroke-opacity="0.65" stroke-width="0.6"/>
<circle cx="378.68" cy="436.61" r="0.95" fill="#760a24" stroke="#d0143f" stroke-opacity="0.65" stroke-width="0.6"/>
<circle cx="375.15" cy="435.68" r="0.95" fill="#760a24" stroke="#d0143f" stroke-opacity="0.65" stroke-width="0.6"/>
<circle cx="379.34" cy="435.36" r="0.95" fill="#760a24" stroke="#d0143f" stroke-opacity="0.65" stroke-width="0.6"/>
<circle cx="379.69" cy="435.06" r="0.95" fill="#760a24" stroke="#d0143f" stroke-opacity="0.65" stroke-width="0.6"/>
<circle cx="373.78" cy="434.99" r="0.95" fill="#760a24" stroke="#d0143f" stroke-opacity="0.65" stroke-width="0.6"/>
<circle cx="376.80" cy="434.01" r="0.95" fill="#760a24" stroke="#d0143f" stroke-opacity="0.65" stroke-width="0.6"/>
<circle cx="374.04" cy="433.89" r="0.95" fill="#760a24" stroke="#d0143f" stroke-opacity="0.65" stroke-width="0.6"/>
<circle cx="374.83" cy="433.66" r="0.95" fill="#760a24" stroke="#d0143f" stroke-opacity="0.65" stroke-width="0.6"/>
<circle cx="375.83" cy="433.45" r="0.95" fill="#760a24" stroke="#d0143f" stroke-opacity="0.65" stroke-width="0.6"/>
<circle cx="379.10" cy="433.20" r="0.95" fill="#760a24" stroke="#d0143f" stroke-opacity="0.65" stroke-width="0.6"/>
<circle cx="375.74" cy="433.16" r="0.95" fill="#760a24" stroke="#d0143f" stroke-opacity="0.65" stroke-width="0.6"/>
<circle cx="377.87" cy="432.96" r="0.95" fill="#760a24" stroke="#d0143f" stroke-opacity="0.65" stroke-width="0.6"/>
<circle cx="374.96" cy="432.53" r="0.95" fill="#760a24" stroke="#d0143f" stroke-opacity="0.65" stroke-width="0.6"/>
<circle cx="378.93" cy="431.91" r="0.95" fill="#760a24" stroke="#d0143f" stroke-opacity="0.65" stroke-width="0.6"/>
<circle cx="378.59" cy="431.63" r="0.95" fill="#760a24" stroke="#d0143f" stroke-opacity="0.65" stroke-width="0.6"/>
<circle cx="377.83" cy="431.31" r="0.95" fill="#760a24" stroke="#d0143f" stroke-opacity="0.65" stroke-width="0.6"/>
<circle cx="377.20" cy="431.31" r="0.95" fill="#760a24" stroke="#d0143f" stroke-opacity="0.65" stroke-width="0.6"/>
<circle cx="376.96" cy="430.95" r="0.95" fill="#760a24" stroke="#d0143f" stroke-opacity="0.65" stroke-width="0.6"/>
<circle cx="374.50" cy="430.32" r="0.95" fill="#760a24" stroke="#d0143f" stroke-opacity="0.65" stroke-width="0.6"/>
<circle cx="375.12" cy="429.82" r="0.95" fill="#760a24" stroke="#d0143f" stroke-opacity="0.65" stroke-width="0.6"/>
<circle cx="379.10" cy="429.76" r="0.95" fill="#760a24" stroke="#d0143f" stroke-opacity="0.65" stroke-width="0.6"/>
<circle cx="377.86" cy="429.67" r="0.95" fill="#760a24" stroke="#d0143f" stroke-opacity="0.65" stroke-width="0.6"/>
<circle cx="374.42" cy="429.18" r="0.95" fill="#760a24" stroke="#d0143f" stroke-opacity="0.65" stroke-width="0.6"/>
<circle cx="376.13" cy="429.04" r="0.95" fill="#760a24" stroke="#d0143f" stroke-opacity="0.65" stroke-width="0.6"/>
<circle cx="379.77" cy="428.89" r="0.95" fill="#760a24" stroke="#d0143f" stroke-opacity="0.65" stroke-width="0.6"/>
<circle cx="374.23" cy="428.83" r="0.95" fill="#760a24" stroke="#d0143f" stroke-opacity="0.65" stroke-width="0.6"/>
<circle cx="377.18" cy="428.81" r="0.95" fill="#760a24" stroke="#d0143f" stroke-opacity="0.65" stroke-width="0.6"/>
<circle cx="375.16" cy="428.81" r="0.95" fill="#760a24" stroke="#d0143f" stroke-opacity="0.65" stroke-width="0.6"/>
<circle cx="378.42" cy="427.24" r="0.95" fill="#760a24" stroke="#d0143f" stroke-opacity="0.65" stroke-width="0.6"/>
<circle cx="379.32" cy="426.99" r="0.95" fill="#760a24" stroke="#d0143f" stroke-opacity="0.65" stroke-width="0.6"/>
<circle cx="375.65" cy="426.63" r="0.95" fill="#760a24" stroke="#d0143f" stroke-opacity="0.65" stroke-width="0.6"/>
<circle cx="375.79" cy="426.20" r="0.95" fill="#760a24" stroke="#d0143f" stroke-opacity="0.65" stroke-width="0.6"/>
<circle cx="376.40" cy="425.84" r="0.95" fill="#760a24" stroke="#d0143f" stroke-opacity="0.65" stroke-width="0.6"/>
<circle cx="374.85" cy="425.79" r="0.95" fill="#760a24" stroke="#d0143f" stroke-opacity="0.65" stroke-width="0.6"/>
<circle cx="379.53" cy="425.51" r="0.95" fill="#760a24" stroke="#d0143f" stroke-opacity="0.65" stroke-width="0.6"/>
<circle cx="376.53" cy="425.42" r="0.95" fill="#760a24" stroke="#d0143f" stroke-opacity="0.65" stroke-width="0.6"/>
<circle cx="378.77" cy="424.97" r="0.95" fill="#760a24" stroke="#d0143f" stroke-opacity="0.65" stroke-width="0.6"/>
<circle cx="374.13" cy="424.85" r="0.95" fill="#760a24" stroke="#d0143f" stroke-opacity="0.65" stroke-width="0.6"/>
<circle cx="373.84" cy="424.43" r="0.95" fill="#760a24" stroke="#d0143f" stroke-opacity="0.65" stroke-width="0.6"/>
<circle cx="377.98" cy="424.37" r="0.95" fill="#760a24" stroke="#d0143f" stroke-opacity="0.65" stroke-width="0.6"/>
<circle cx="373.81" cy="424.28" r="0.95" fill="#760a24" stroke="#d0143f" stroke-opacity="0.65" stroke-width="0.6"/>
<circle cx="376.19" cy="423.90" r="0.95" fill="#760a24" stroke="#d0143f" stroke-opacity="0.65" stroke-width="0.6"/>
<circle cx="379.83" cy="423.53" r="0.95" fill="#760a24" stroke="#d0143f" stroke-opacity="0.65" stroke-width="0.6"/>
<circle cx="373.61" cy="423.21" r="0.95" fill="#760a24" stroke="#d0143f" stroke-opacity="0.65" stroke-width="0.6"/>
<circle cx="375.18" cy="422.58" r="0.95" fill="#760a24" stroke="#d0143f" stroke-opacity="0.65" stroke-width="0.6"/>
<circle cx="375.04" cy="422.53" r="0.95" fill="#760a24" stroke="#d0143f" stroke-opacity="0.65" stroke-width="0.6"/>
<circle cx="376.80" cy="420.73" r="0.95" fill="#760a24" stroke="#d0143f" stroke-opacity="0.65" stroke-width="0.6"/>
<circle cx="379.10" cy="419.92" r="0.95" fill="#760a24" stroke="#d0143f" stroke-opacity="0.65" stroke-width="0.6"/>
<circle cx="374.50" cy="419.46" r="0.95" fill="#760a24" stroke="#d0143f" stroke-opacity="0.65" stroke-width="0.6"/>
<circle cx="376.80" cy="418.32" r="0.95" fill="#760a24" stroke="#d0143f" stroke-opacity="0.65" stroke-width="0.6"/>
<circle cx="375.43" cy="418.10" r="0.95" fill="#760a24" stroke="#d0143f" stroke-opacity="0.65" stroke-width="0.6"/>
<circle cx="376.80" cy="416.16" r="0.95" fill="#760a24" stroke="#d0143f" stroke-opacity="0.65" stroke-width="0.6"/>
<circle cx="376.80" cy="411.10" r="0.95" fill="#760a24" stroke="#d0143f" stroke-opacity="0.65" stroke-width="0.6"/>
<circle cx="379.10" cy="409.63" r="0.95" fill="#760a24" stroke="#d0143f" stroke-opacity="0.65" stroke-width="0.6"/>
<circle cx="376.80" cy="408.17" r="0.95" fill="#760a24" stroke="#d0143f" stroke-opacity="0.65" stroke-width="0.6"/>
<circle cx="376.80" cy="405.24" r="0.95" fill="#760a24" stroke="#d0143f" stroke-opacity="0.65" stroke-width="0.6"/>
<line x1="372.60" y1="433.07" x2="381.00" y2="433.07" stroke="#111" stroke-width="1.4"/>
<line x1="376.80" y1="438.94" x2="376.80" y2="424.28" stroke="#111" stroke-width="0.9"/>
<line x1="373.60" y1="438.94" x2="380.00" y2="438.94" stroke="#111" stroke-width="1.0"/>
<line x1="373.60" y1="424.28" x2="380.00" y2="424.28" stroke="#111" stroke-width="1.0"/>
<line x1="376.80" y1="440.40" x2="376.80" y2="443.40" stroke="#111" stroke-width="1.1"/>
<text x="376.80" y="454.80" font-size="8.5" text-anchor="middle" font-weight="normal" fill="#333" >+</text>
<line x1="256.00" y1="459.20" x2="272.60" y2="459.20" stroke="#111" stroke-width="1.5"/>
<text x="264.30" y="469.80" font-size="8.8" text-anchor="middle" font-weight="normal" fill="#222" >41</text>
<line x1="282.90" y1="459.20" x2="299.40" y2="459.20" stroke="#111" stroke-width="1.5"/>
<text x="291.15" y="469.80" font-size="8.8" text-anchor="middle" font-weight="normal" fill="#222" >44</text>
<line x1="309.60" y1="459.20" x2="325.80" y2="459.20" stroke="#111" stroke-width="1.5"/>
<text x="317.70" y="469.80" font-size="8.8" text-anchor="middle" font-weight="normal" fill="#222" >45</text>
<line x1="335.80" y1="459.20" x2="352.00" y2="459.20" stroke="#111" stroke-width="1.5"/>
<text x="343.90" y="469.80" font-size="8.8" text-anchor="middle" font-weight="normal" fill="#222" >46</text>
<line x1="362.60" y1="459.20" x2="379.20" y2="459.20" stroke="#111" stroke-width="1.5"/>
<text x="370.90" y="469.80" font-size="8.8" text-anchor="middle" font-weight="normal" fill="#222" >47</text>
<text x="385.30" y="455.00" font-size="8.5" text-anchor="start" font-weight="normal" fill="#222" >CD40L/IL-4</text>
<line x1="256.80" y1="355.60" x2="269.40" y2="355.60" stroke="#111" stroke-width="1.2"/>
<line x1="256.80" y1="353.40" x2="256.80" y2="357.80" stroke="#111" stroke-width="1.2"/>
<line x1="269.40" y1="353.40" x2="269.40" y2="357.80" stroke="#111" stroke-width="1.2"/>
<circle cx="263.50" cy="348.3" r="0.95" fill="#222"/>
<line x1="283.60" y1="355.60" x2="296.30" y2="355.60" stroke="#111" stroke-width="1.2"/>
<line x1="283.60" y1="353.40" x2="283.60" y2="357.80" stroke="#111" stroke-width="1.2"/>
<line x1="296.30" y1="353.40" x2="296.30" y2="357.80" stroke="#111" stroke-width="1.2"/>
<circle cx="290.35" cy="348.3" r="0.95" fill="#222"/>
<line x1="310.80" y1="355.60" x2="323.40" y2="355.60" stroke="#111" stroke-width="1.2"/>
<line x1="310.80" y1="353.40" x2="310.80" y2="357.80" stroke="#111" stroke-width="1.2"/>
<line x1="323.40" y1="353.40" x2="323.40" y2="357.80" stroke="#111" stroke-width="1.2"/>
<text x="317.10" y="351.60" font-size="7.6" text-anchor="middle" font-weight="normal" fill="#333" >ns</text>
<line x1="337.20" y1="355.60" x2="350.40" y2="355.60" stroke="#111" stroke-width="1.2"/>
<line x1="337.20" y1="353.40" x2="337.20" y2="357.80" stroke="#111" stroke-width="1.2"/>
<line x1="350.40" y1="353.40" x2="350.40" y2="357.80" stroke="#111" stroke-width="1.2"/>
<text x="343.80" y="351.60" font-size="7.6" text-anchor="middle" font-weight="normal" fill="#333" >ns</text>
<line x1="362.00" y1="355.60" x2="375.40" y2="355.60" stroke="#111" stroke-width="1.2"/>
<line x1="362.00" y1="353.40" x2="362.00" y2="357.80" stroke="#111" stroke-width="1.2"/>
<line x1="375.40" y1="353.40" x2="375.40" y2="357.80" stroke="#111" stroke-width="1.2"/>
<circle cx="363.90" cy="349.0" r="0.95" fill="#222"/>
<circle cx="367.10" cy="349.0" r="0.95" fill="#222"/>
<circle cx="370.30" cy="349.0" r="0.95" fill="#222"/>
<circle cx="373.50" cy="349.0" r="0.95" fill="#222"/>
<rect x="0" y="1" width="520" height="1" fill="#aaa"/>
<rect x="1" y="0" width="1" height="479" fill="#5a5a5a"/>
<rect x="517" y="0" width="1" height="479" fill="#e2e2e2"/>
<rect x="0" y="476" width="520" height="1" fill="#e2e2e2"/>
<rect x="518" y="0" width="1" height="479" fill="#333"/>
<rect x="0" y="477" width="520" height="1" fill="#333"/>
<rect x="0" y="0" width="520" height="1" fill="#000"/>
<rect x="0" y="0" width="1" height="479" fill="#000"/>
<rect x="519" y="0" width="1" height="479" fill="#000"/>
<rect x="0" y="478" width="520" height="1" fill="#000"/>
</svg></div>
</body></html>
